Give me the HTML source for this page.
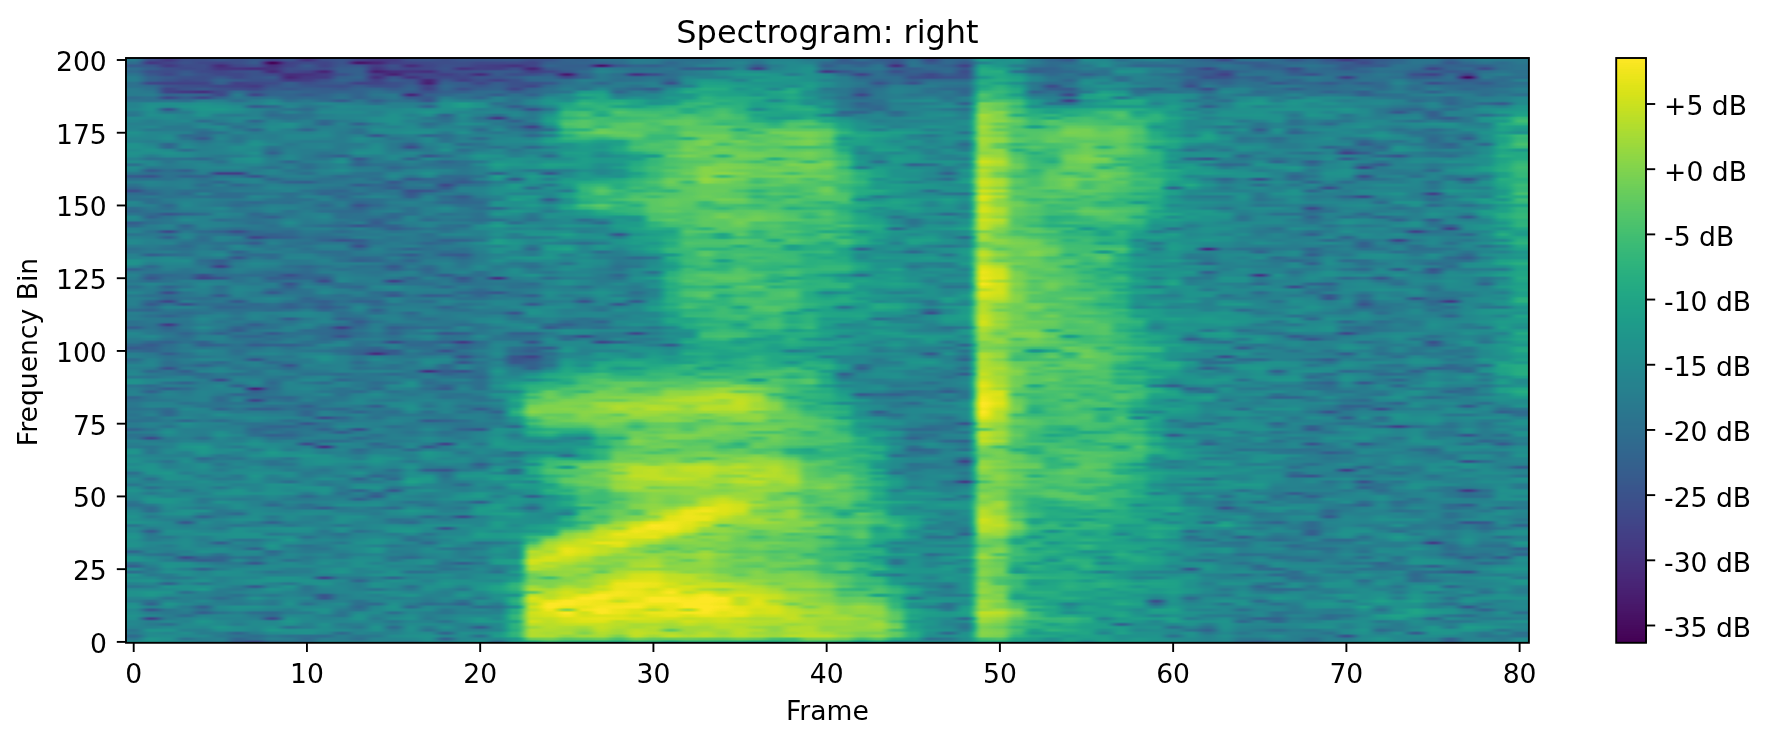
<!DOCTYPE html>
<html><head><meta charset="utf-8"><title>Spectrogram: right</title>
<style>
html,body{margin:0;padding:0;background:#fff;}
body{width:1770px;height:744px;position:relative;overflow:hidden;}
canvas{position:absolute;display:block;}
#fb i{position:absolute;top:0;bottom:0;display:block;}
svg{position:absolute;left:0;top:0;}
.t{font-family:"DejaVu Sans","Liberation Sans",sans-serif;font-size:26.6px;fill:#000;}
.ti{font-family:"DejaVu Sans","Liberation Sans",sans-serif;font-size:31.95px;fill:#000;}
</style></head><body>
<div id="fb" style="position:absolute;left:125px;top:58.55px;width:1404px;height:584.80px;overflow:hidden"><i style="left:0.34px;width:17.92px;background:linear-gradient(to top,#287d8e 0.2%,#287c8e 2.2%,#228d8d 4.2%,#228c8d 6.2%,#228b8d 8.2%,#238a8d 10.2%,#23888e 12.2%,#25838e 14.2%,#24868e 16.2%,#21918c 18.2%,#238a8d 20.1%,#228c8d 22.1%,#277e8e 24.1%,#228b8d 26.1%,#277e8e 28.1%,#238a8d 30.1%,#20928c 32.1%,#27808e 34.1%,#2b758e 36.1%,#2a788e 38.1%,#2a778e 40.0%,#29798e 42.0%,#25848e 44.0%,#24868e 46.0%,#277e8e 48.0%,#2d708e 50.0%,#287d8e 52.0%,#2b758e 54.0%,#297a8e 56.0%,#277e8e 58.0%,#287d8e 60.0%,#287c8e 61.9%,#26828e 63.9%,#25858e 65.9%,#277e8e 67.9%,#26818e 69.9%,#277f8e 71.9%,#29798e 73.9%,#2a778e 75.9%,#2e6e8e 77.9%,#2a788e 79.9%,#24868e 81.8%,#218e8d 83.8%,#228c8d 85.8%,#24878e 87.8%,#26818e 89.8%,#26828e 91.8%,#29798e 93.8%,#297a8e 95.8%,#2e6f8e 97.8%,#2e6f8e 99.8%,#2e6f8e 99.8%)"></i><i style="left:17.66px;width:17.92px;background:linear-gradient(to top,#1f948c 0.2%,#238a8d 2.2%,#297b8e 4.2%,#2c718e 6.2%,#228c8d 8.2%,#23898e 10.2%,#287d8e 12.2%,#25858e 14.2%,#25848e 16.2%,#297a8e 18.2%,#25858e 20.1%,#297a8e 22.1%,#228d8d 24.1%,#25848e 26.1%,#25858e 28.1%,#20928c 30.1%,#26828e 32.1%,#2a778e 34.1%,#2b748e 36.1%,#277f8e 38.1%,#26828e 40.0%,#2a788e 42.0%,#2a768e 44.0%,#297a8e 46.0%,#26828e 48.0%,#30698e 50.0%,#297a8e 52.0%,#2a778e 54.0%,#2a768e 56.0%,#30698e 58.0%,#297b8e 60.0%,#2d708e 61.9%,#2c738e 63.9%,#277f8e 65.9%,#287d8e 67.9%,#287c8e 69.9%,#2b748e 71.9%,#2b748e 73.9%,#2d718e 75.9%,#297a8e 77.9%,#2d708e 79.9%,#297a8e 81.8%,#238a8d 83.8%,#24868e 85.8%,#25858e 87.8%,#24878e 89.8%,#228d8d 91.8%,#2c738e 93.8%,#32648e 95.8%,#38598c 97.8%,#3e4c8a 99.8%,#3e4c8a 99.8%)"></i><i style="left:34.99px;width:17.92px;background:linear-gradient(to top,#218e8d 0.2%,#23888e 2.2%,#287c8e 4.2%,#24878e 6.2%,#228b8d 8.2%,#25848e 10.2%,#228b8d 12.2%,#25848e 14.2%,#277f8e 16.2%,#23898e 18.2%,#23888e 20.1%,#23898e 22.1%,#218f8d 24.1%,#25858e 26.1%,#21918c 28.1%,#25848e 30.1%,#25848e 32.1%,#26818e 34.1%,#23888e 36.1%,#297a8e 38.1%,#2d718e 40.0%,#26818e 42.0%,#287d8e 44.0%,#2a768e 46.0%,#2e6e8e 48.0%,#2d708e 50.0%,#2c718e 52.0%,#306a8e 54.0%,#2b748e 56.0%,#2c738e 58.0%,#31688e 60.0%,#2d708e 61.9%,#277f8e 63.9%,#25858e 65.9%,#287d8e 67.9%,#2b748e 69.9%,#297a8e 71.9%,#2e6f8e 73.9%,#2b758e 75.9%,#297a8e 77.9%,#2c738e 79.9%,#2a768e 81.8%,#23888e 83.8%,#25838e 85.8%,#26828e 87.8%,#25858e 89.8%,#297b8e 91.8%,#3b528b 93.8%,#3b528b 95.8%,#3d4d8a 97.8%,#443b84 99.8%,#443b84 99.8%)"></i><i style="left:52.31px;width:17.92px;background:linear-gradient(to top,#24868e 0.2%,#23898e 2.2%,#26828e 4.2%,#27808e 6.2%,#26828e 8.2%,#228b8d 10.2%,#228c8d 12.2%,#25838e 14.2%,#23898e 16.2%,#228c8d 18.2%,#277f8e 20.1%,#23888e 22.1%,#228b8d 24.1%,#25838e 26.1%,#238a8d 28.1%,#23888e 30.1%,#228b8d 32.1%,#218e8d 34.1%,#26818e 36.1%,#24868e 38.1%,#26828e 40.0%,#287c8e 42.0%,#2a778e 44.0%,#297a8e 46.0%,#297a8e 48.0%,#297a8e 50.0%,#2c718e 52.0%,#2b748e 54.0%,#2c738e 56.0%,#2b758e 58.0%,#2a778e 60.0%,#2b758e 61.9%,#29798e 63.9%,#26828e 65.9%,#2c718e 67.9%,#287c8e 69.9%,#277e8e 71.9%,#27808e 73.9%,#27808e 75.9%,#287d8e 77.9%,#2c728e 79.9%,#287d8e 81.8%,#23888e 83.8%,#27808e 85.8%,#297a8e 87.8%,#25848e 89.8%,#23898e 91.8%,#355f8d 93.8%,#3d4e8a 95.8%,#3a538b 97.8%,#3c508b 99.8%,#3c508b 99.8%)"></i><i style="left:69.64px;width:17.92px;background:linear-gradient(to top,#26818e 0.2%,#23888e 2.2%,#228b8d 4.2%,#2c738e 6.2%,#24878e 8.2%,#21918c 10.2%,#25858e 12.2%,#26818e 14.2%,#25848e 16.2%,#25838e 18.2%,#24868e 20.1%,#26818e 22.1%,#287c8e 24.1%,#24878e 26.1%,#23888e 28.1%,#228b8d 30.1%,#228d8d 32.1%,#218f8d 34.1%,#277e8e 36.1%,#27808e 38.1%,#277f8e 40.0%,#26828e 42.0%,#277f8e 44.0%,#297a8e 46.0%,#29798e 48.0%,#297a8e 50.0%,#2b758e 52.0%,#26828e 54.0%,#26828e 56.0%,#2b758e 58.0%,#27808e 60.0%,#277e8e 61.9%,#2a768e 63.9%,#29798e 65.9%,#297b8e 67.9%,#2d708e 69.9%,#26828e 71.9%,#287d8e 73.9%,#277f8e 75.9%,#2a768e 77.9%,#2a778e 79.9%,#26828e 81.8%,#277f8e 83.8%,#2c738e 85.8%,#2a788e 87.8%,#23888e 89.8%,#20928c 91.8%,#34608d 93.8%,#3c4f8a 95.8%,#3d4e8a 97.8%,#3d4d8a 99.8%,#3d4d8a 99.8%)"></i><i style="left:86.96px;width:17.92px;background:linear-gradient(to top,#277f8e 0.2%,#228b8d 2.2%,#25858e 4.2%,#26818e 6.2%,#297a8e 8.2%,#25838e 10.2%,#25858e 12.2%,#2c718e 14.2%,#26818e 16.2%,#23888e 18.2%,#26828e 20.1%,#287c8e 22.1%,#24868e 24.1%,#228b8d 26.1%,#24868e 28.1%,#277f8e 30.1%,#26828e 32.1%,#24868e 34.1%,#23898e 36.1%,#26828e 38.1%,#29798e 40.0%,#2c738e 42.0%,#277f8e 44.0%,#297b8e 46.0%,#277e8e 48.0%,#287c8e 50.0%,#297b8e 52.0%,#2a768e 54.0%,#287c8e 56.0%,#2d708e 58.0%,#2c718e 60.0%,#2c738e 61.9%,#2f6c8e 63.9%,#287c8e 65.9%,#2a778e 67.9%,#2a788e 69.9%,#277f8e 71.9%,#25838e 73.9%,#2b758e 75.9%,#2b748e 77.9%,#2a768e 79.9%,#287d8e 81.8%,#26828e 83.8%,#25838e 85.8%,#26828e 87.8%,#277f8e 89.8%,#218f8d 91.8%,#365c8d 93.8%,#375a8c 95.8%,#404688 97.8%,#404588 99.8%,#404588 99.8%)"></i><i style="left:104.29px;width:17.92px;background:linear-gradient(to top,#31688e 0.2%,#277f8e 2.2%,#26828e 4.2%,#26828e 6.2%,#297b8e 8.2%,#24868e 10.2%,#238a8d 12.2%,#27808e 14.2%,#25858e 16.2%,#21908d 18.2%,#218e8d 20.1%,#25858e 22.1%,#228b8d 24.1%,#228c8d 26.1%,#26828e 28.1%,#23888e 30.1%,#25848e 32.1%,#26828e 34.1%,#26818e 36.1%,#27808e 38.1%,#29798e 40.0%,#277e8e 42.0%,#26818e 44.0%,#277e8e 46.0%,#29798e 48.0%,#2c728e 50.0%,#2c738e 52.0%,#2c728e 54.0%,#2b748e 56.0%,#2e6f8e 58.0%,#25858e 60.0%,#2a768e 61.9%,#287d8e 63.9%,#2d708e 65.9%,#297b8e 67.9%,#2d708e 69.9%,#2a788e 71.9%,#29798e 73.9%,#2e6f8e 75.9%,#2a778e 77.9%,#297b8e 79.9%,#23888e 81.8%,#228b8d 83.8%,#287c8e 85.8%,#287c8e 87.8%,#24868e 89.8%,#23898e 91.8%,#2d718e 93.8%,#3e4a89 95.8%,#3f4788 97.8%,#3d4e8a 99.8%,#3d4e8a 99.8%)"></i><i style="left:121.61px;width:17.92px;background:linear-gradient(to top,#2f6b8e 0.2%,#25848e 2.2%,#26818e 4.2%,#25858e 6.2%,#24868e 8.2%,#24878e 10.2%,#24878e 12.2%,#2a788e 14.2%,#26818e 16.2%,#23898e 18.2%,#23888e 20.1%,#228d8d 22.1%,#26828e 24.1%,#24868e 26.1%,#21908d 28.1%,#238a8d 30.1%,#24868e 32.1%,#228c8d 34.1%,#2d718e 36.1%,#26828e 38.1%,#29798e 40.0%,#306a8e 42.0%,#287d8e 44.0%,#29798e 46.0%,#2a788e 48.0%,#2a768e 50.0%,#2e6d8e 52.0%,#2c728e 54.0%,#26818e 56.0%,#2c738e 58.0%,#26818e 60.0%,#297b8e 61.9%,#287d8e 63.9%,#287d8e 65.9%,#2b758e 67.9%,#306a8e 69.9%,#2c728e 71.9%,#2b748e 73.9%,#2a788e 75.9%,#297a8e 77.9%,#277f8e 79.9%,#23888e 81.8%,#228d8d 83.8%,#228c8d 85.8%,#297b8e 87.8%,#27808e 89.8%,#27808e 91.8%,#34618d 93.8%,#3e4989 95.8%,#3b518b 97.8%,#38598c 99.8%,#38598c 99.8%)"></i><i style="left:138.93px;width:17.92px;background:linear-gradient(to top,#29798e 0.2%,#228c8d 2.2%,#2c728e 4.2%,#287c8e 6.2%,#24868e 8.2%,#20928c 10.2%,#23898e 12.2%,#25838e 14.2%,#228d8d 16.2%,#238a8d 18.2%,#25838e 20.1%,#25848e 22.1%,#26828e 24.1%,#21918c 26.1%,#25848e 28.1%,#26828e 30.1%,#21918c 32.1%,#23898e 34.1%,#2e6e8e 36.1%,#287d8e 38.1%,#2a788e 40.0%,#2b748e 42.0%,#2e6e8e 44.0%,#297a8e 46.0%,#2a788e 48.0%,#287d8e 50.0%,#2e6d8e 52.0%,#2c738e 54.0%,#297b8e 56.0%,#2a768e 58.0%,#2a788e 60.0%,#2d708e 61.9%,#29798e 63.9%,#287d8e 65.9%,#287d8e 67.9%,#2d708e 69.9%,#2c728e 71.9%,#277f8e 73.9%,#29798e 75.9%,#277e8e 77.9%,#297b8e 79.9%,#277e8e 81.8%,#2c738e 83.8%,#277f8e 85.8%,#23888e 87.8%,#297a8e 89.8%,#277e8e 91.8%,#2e6d8e 93.8%,#39558c 95.8%,#443b84 97.8%,#46307e 99.8%,#46307e 99.8%)"></i><i style="left:156.26px;width:17.92px;background:linear-gradient(to top,#2a768e 0.2%,#228c8d 2.2%,#21908d 4.2%,#238a8d 6.2%,#238a8d 8.2%,#21918c 10.2%,#25838e 12.2%,#24878e 14.2%,#25848e 16.2%,#21908d 18.2%,#238a8d 20.1%,#23888e 22.1%,#277f8e 24.1%,#228d8d 26.1%,#228b8d 28.1%,#27808e 30.1%,#25838e 32.1%,#26828e 34.1%,#2f6c8e 36.1%,#29798e 38.1%,#297a8e 40.0%,#297a8e 42.0%,#25848e 44.0%,#2a788e 46.0%,#2c728e 48.0%,#2a768e 50.0%,#2c738e 52.0%,#297a8e 54.0%,#2a768e 56.0%,#2d718e 58.0%,#2c738e 60.0%,#34608d 61.9%,#2e6f8e 63.9%,#287c8e 65.9%,#2a778e 67.9%,#2f6c8e 69.9%,#25838e 71.9%,#297a8e 73.9%,#2c728e 75.9%,#287c8e 77.9%,#2a778e 79.9%,#287c8e 81.8%,#25838e 83.8%,#26818e 85.8%,#23898e 87.8%,#287d8e 89.8%,#26828e 91.8%,#31678e 93.8%,#3a548c 95.8%,#414287 97.8%,#3f4788 99.8%,#3f4788 99.8%)"></i><i style="left:173.58px;width:17.92px;background:linear-gradient(to top,#2e6f8e 0.2%,#25838e 2.2%,#24878e 4.2%,#26818e 6.2%,#287d8e 8.2%,#238a8d 10.2%,#25858e 12.2%,#26818e 14.2%,#297b8e 16.2%,#25838e 18.2%,#25858e 20.1%,#25838e 22.1%,#2c728e 24.1%,#24878e 26.1%,#26828e 28.1%,#24868e 30.1%,#218f8d 32.1%,#277f8e 34.1%,#2a788e 36.1%,#2c738e 38.1%,#31688e 40.0%,#277e8e 42.0%,#25848e 44.0%,#277e8e 46.0%,#27808e 48.0%,#277e8e 50.0%,#2c728e 52.0%,#277e8e 54.0%,#26818e 56.0%,#2e6f8e 58.0%,#2b748e 60.0%,#2b758e 61.9%,#2f6c8e 63.9%,#287c8e 65.9%,#2b748e 67.9%,#2a768e 69.9%,#287c8e 71.9%,#287d8e 73.9%,#297b8e 75.9%,#2a788e 77.9%,#2a778e 79.9%,#2a778e 81.8%,#287d8e 83.8%,#26828e 85.8%,#27808e 87.8%,#2a788e 89.8%,#2a768e 91.8%,#31668e 93.8%,#3c4f8a 95.8%,#404688 97.8%,#3e4c8a 99.8%,#3e4c8a 99.8%)"></i><i style="left:190.91px;width:17.92px;background:linear-gradient(to top,#277e8e 0.2%,#228c8d 2.2%,#23888e 4.2%,#238a8d 6.2%,#297a8e 8.2%,#23898e 10.2%,#25858e 12.2%,#23898e 14.2%,#277f8e 16.2%,#26818e 18.2%,#26828e 20.1%,#277f8e 22.1%,#287d8e 24.1%,#218e8d 26.1%,#27808e 28.1%,#25838e 30.1%,#21908d 32.1%,#297a8e 34.1%,#2a788e 36.1%,#2b748e 38.1%,#297b8e 40.0%,#29798e 42.0%,#277e8e 44.0%,#27808e 46.0%,#23898e 48.0%,#25858e 50.0%,#2d718e 52.0%,#2d718e 54.0%,#26828e 56.0%,#32648e 58.0%,#26818e 60.0%,#2f6c8e 61.9%,#297a8e 63.9%,#287c8e 65.9%,#2a778e 67.9%,#2c728e 69.9%,#26818e 71.9%,#2a778e 73.9%,#2b748e 75.9%,#2c738e 77.9%,#297b8e 79.9%,#277e8e 81.8%,#2a788e 83.8%,#25848e 85.8%,#26828e 87.8%,#277e8e 89.8%,#25848e 91.8%,#32658e 93.8%,#3b528b 95.8%,#433d84 97.8%,#404688 99.8%,#404688 99.8%)"></i><i style="left:208.23px;width:17.92px;background:linear-gradient(to top,#277f8e 0.2%,#277f8e 2.2%,#287d8e 4.2%,#26818e 6.2%,#26828e 8.2%,#24868e 10.2%,#238a8d 12.2%,#25848e 14.2%,#26818e 16.2%,#287d8e 18.2%,#218e8d 20.1%,#23888e 22.1%,#25838e 24.1%,#29798e 26.1%,#26828e 28.1%,#23888e 30.1%,#24878e 32.1%,#26828e 34.1%,#277f8e 36.1%,#287d8e 38.1%,#287c8e 40.0%,#2a778e 42.0%,#2a778e 44.0%,#297a8e 46.0%,#25838e 48.0%,#2a778e 50.0%,#2c738e 52.0%,#31678e 54.0%,#2d708e 56.0%,#2c728e 58.0%,#2a768e 60.0%,#26818e 61.9%,#277f8e 63.9%,#2c728e 65.9%,#2a778e 67.9%,#2e6e8e 69.9%,#2c718e 71.9%,#2d718e 73.9%,#2c728e 75.9%,#2c728e 77.9%,#287c8e 79.9%,#228c8d 81.8%,#297b8e 83.8%,#287c8e 85.8%,#277f8e 87.8%,#25848e 89.8%,#24868e 91.8%,#31678e 93.8%,#365c8d 95.8%,#365c8d 97.8%,#39568c 99.8%,#39568c 99.8%)"></i><i style="left:225.55px;width:17.92px;background:linear-gradient(to top,#2a778e 0.2%,#277e8e 2.2%,#228c8d 4.2%,#2b748e 6.2%,#25838e 8.2%,#287c8e 10.2%,#25858e 12.2%,#218f8d 14.2%,#228b8d 16.2%,#24868e 18.2%,#26828e 20.1%,#25858e 22.1%,#26818e 24.1%,#25838e 26.1%,#24868e 28.1%,#24878e 30.1%,#277f8e 32.1%,#297b8e 34.1%,#297b8e 36.1%,#26828e 38.1%,#287c8e 40.0%,#25848e 42.0%,#2a788e 44.0%,#2a768e 46.0%,#2b758e 48.0%,#2f6c8e 50.0%,#2c718e 52.0%,#2f6b8e 54.0%,#2b748e 56.0%,#287d8e 58.0%,#2b758e 60.0%,#297b8e 61.9%,#2a788e 63.9%,#2a778e 65.9%,#32658e 67.9%,#2a788e 69.9%,#2b748e 71.9%,#30698e 73.9%,#2f6c8e 75.9%,#2b758e 77.9%,#29798e 79.9%,#2f6c8e 81.8%,#25848e 83.8%,#25838e 85.8%,#2c738e 87.8%,#25838e 89.8%,#25848e 91.8%,#31678e 93.8%,#355e8d 95.8%,#34618d 97.8%,#414487 99.8%,#414487 99.8%)"></i><i style="left:242.88px;width:17.92px;background:linear-gradient(to top,#25838e 0.2%,#238a8d 2.2%,#25848e 4.2%,#24868e 6.2%,#25848e 8.2%,#24868e 10.2%,#228c8d 12.2%,#228b8d 14.2%,#20928c 16.2%,#228c8d 18.2%,#25858e 20.1%,#277f8e 22.1%,#277f8e 24.1%,#25858e 26.1%,#287d8e 28.1%,#23898e 30.1%,#218f8d 32.1%,#2a788e 34.1%,#277f8e 36.1%,#287c8e 38.1%,#2a768e 40.0%,#25838e 42.0%,#2c728e 44.0%,#29798e 46.0%,#27808e 48.0%,#30698e 50.0%,#297a8e 52.0%,#287d8e 54.0%,#2b748e 56.0%,#306a8e 58.0%,#2a768e 60.0%,#277e8e 61.9%,#2a778e 63.9%,#2a788e 65.9%,#287c8e 67.9%,#29798e 69.9%,#31668e 71.9%,#2b748e 73.9%,#2c738e 75.9%,#2c718e 77.9%,#2b748e 79.9%,#297b8e 81.8%,#228b8d 83.8%,#25848e 85.8%,#25848e 87.8%,#25858e 89.8%,#277f8e 91.8%,#2d708e 93.8%,#3e4a89 95.8%,#453581 97.8%,#453781 99.8%,#453781 99.8%)"></i><i style="left:260.20px;width:17.92px;background:linear-gradient(to top,#24868e 0.2%,#277f8e 2.2%,#277f8e 4.2%,#218f8d 6.2%,#238a8d 8.2%,#23898e 10.2%,#228b8d 12.2%,#27808e 14.2%,#27808e 16.2%,#23898e 18.2%,#228d8d 20.1%,#26828e 22.1%,#26828e 24.1%,#26818e 26.1%,#297b8e 28.1%,#26828e 30.1%,#23888e 32.1%,#287d8e 34.1%,#287c8e 36.1%,#26818e 38.1%,#287c8e 40.0%,#277e8e 42.0%,#277f8e 44.0%,#287c8e 46.0%,#297b8e 48.0%,#2a788e 50.0%,#2d718e 52.0%,#2f6c8e 54.0%,#27808e 56.0%,#27808e 58.0%,#26828e 60.0%,#29798e 61.9%,#2d708e 63.9%,#2a768e 65.9%,#2a788e 67.9%,#2b758e 69.9%,#306a8e 71.9%,#2a788e 73.9%,#297a8e 75.9%,#31688e 77.9%,#277f8e 79.9%,#2a768e 81.8%,#26828e 83.8%,#297a8e 85.8%,#238a8d 87.8%,#21918c 89.8%,#26828e 91.8%,#2c718e 93.8%,#39568c 95.8%,#3e4a89 97.8%,#414487 99.8%,#414487 99.8%)"></i><i style="left:277.53px;width:17.92px;background:linear-gradient(to top,#23898e 0.2%,#218f8d 2.2%,#228b8d 4.2%,#25838e 6.2%,#24878e 8.2%,#25838e 10.2%,#25858e 12.2%,#25848e 14.2%,#27808e 16.2%,#24878e 18.2%,#238a8d 20.1%,#228d8d 22.1%,#25838e 24.1%,#228b8d 26.1%,#1f978b 28.1%,#228d8d 30.1%,#277f8e 32.1%,#26828e 34.1%,#297a8e 36.1%,#297b8e 38.1%,#238a8d 40.0%,#26818e 42.0%,#24878e 44.0%,#297a8e 46.0%,#297a8e 48.0%,#2b758e 50.0%,#2a788e 52.0%,#2a768e 54.0%,#2a778e 56.0%,#297b8e 58.0%,#277e8e 60.0%,#2c738e 61.9%,#287c8e 63.9%,#2d708e 65.9%,#297a8e 67.9%,#29798e 69.9%,#277f8e 71.9%,#2b758e 73.9%,#2b758e 75.9%,#2e6f8e 77.9%,#2a788e 79.9%,#287c8e 81.8%,#2a778e 83.8%,#2b758e 85.8%,#228b8d 87.8%,#24878e 89.8%,#26828e 91.8%,#355e8d 93.8%,#38598c 95.8%,#453882 97.8%,#404588 99.8%,#404588 99.8%)"></i><i style="left:294.85px;width:17.92px;background:linear-gradient(to top,#21918c 0.2%,#238a8d 2.2%,#27808e 4.2%,#27808e 6.2%,#25848e 8.2%,#238a8d 10.2%,#25838e 12.2%,#24878e 14.2%,#25848e 16.2%,#287c8e 18.2%,#238a8d 20.1%,#25858e 22.1%,#287c8e 24.1%,#25858e 26.1%,#1f948c 28.1%,#277e8e 30.1%,#21918c 32.1%,#26828e 34.1%,#26828e 36.1%,#2a788e 38.1%,#2a778e 40.0%,#26818e 42.0%,#2c718e 44.0%,#2a778e 46.0%,#24878e 48.0%,#2d708e 50.0%,#29798e 52.0%,#29798e 54.0%,#287c8e 56.0%,#297a8e 58.0%,#29798e 60.0%,#2a778e 61.9%,#2e6e8e 63.9%,#29798e 65.9%,#2c728e 67.9%,#2b758e 69.9%,#29798e 71.9%,#27808e 73.9%,#287d8e 75.9%,#2c718e 77.9%,#24868e 79.9%,#287d8e 81.8%,#287c8e 83.8%,#26828e 85.8%,#297b8e 87.8%,#25838e 89.8%,#277e8e 91.8%,#39558c 93.8%,#423f85 95.8%,#404688 97.8%,#3e4c8a 99.8%,#3e4c8a 99.8%)"></i><i style="left:312.18px;width:17.92px;background:linear-gradient(to top,#27808e 0.2%,#24878e 2.2%,#26828e 4.2%,#297a8e 6.2%,#25848e 8.2%,#20928c 10.2%,#26828e 12.2%,#277f8e 14.2%,#238a8d 16.2%,#23888e 18.2%,#25838e 20.1%,#277e8e 22.1%,#25858e 24.1%,#25848e 26.1%,#2a788e 28.1%,#297a8e 30.1%,#228c8d 32.1%,#287c8e 34.1%,#297b8e 36.1%,#2a768e 38.1%,#25858e 40.0%,#297b8e 42.0%,#2b748e 44.0%,#2f6b8e 46.0%,#27808e 48.0%,#2c738e 50.0%,#2e6f8e 52.0%,#2b758e 54.0%,#297a8e 56.0%,#287d8e 58.0%,#297a8e 60.0%,#2c738e 61.9%,#277e8e 63.9%,#2a778e 65.9%,#2e6f8e 67.9%,#2b758e 69.9%,#2a788e 71.9%,#277f8e 73.9%,#2c718e 75.9%,#31688e 77.9%,#2c718e 79.9%,#2a768e 81.8%,#26828e 83.8%,#29798e 85.8%,#287d8e 87.8%,#2b758e 89.8%,#21908d 91.8%,#2e6f8e 93.8%,#34618d 95.8%,#3d4e8a 97.8%,#3c4f8a 99.8%,#3c4f8a 99.8%)"></i><i style="left:329.50px;width:17.92px;background:linear-gradient(to top,#228c8d 0.2%,#25858e 2.2%,#238a8d 4.2%,#277e8e 6.2%,#238a8d 8.2%,#24868e 10.2%,#26828e 12.2%,#277f8e 14.2%,#277f8e 16.2%,#228c8d 18.2%,#23888e 20.1%,#27808e 22.1%,#25848e 24.1%,#25838e 26.1%,#228d8d 28.1%,#25848e 30.1%,#25848e 32.1%,#25858e 34.1%,#2a768e 36.1%,#2a778e 38.1%,#297a8e 40.0%,#297b8e 42.0%,#27808e 44.0%,#2c738e 46.0%,#2d718e 48.0%,#31678e 50.0%,#31678e 52.0%,#2a788e 54.0%,#287c8e 56.0%,#2c738e 58.0%,#2a778e 60.0%,#2d718e 61.9%,#29798e 63.9%,#2e6e8e 65.9%,#2c738e 67.9%,#297b8e 69.9%,#2a788e 71.9%,#29798e 73.9%,#30698e 75.9%,#2a778e 77.9%,#2f6c8e 79.9%,#2a778e 81.8%,#277f8e 83.8%,#277f8e 85.8%,#23898e 87.8%,#238a8d 89.8%,#20928c 91.8%,#2d718e 93.8%,#3b518b 95.8%,#3e4a89 97.8%,#3b518b 99.8%,#3b518b 99.8%)"></i><i style="left:346.82px;width:17.92px;background:linear-gradient(to top,#23898e 0.2%,#26818e 2.2%,#228c8d 4.2%,#24878e 6.2%,#228b8d 8.2%,#1f948c 10.2%,#238a8d 12.2%,#26828e 14.2%,#277f8e 16.2%,#1f958b 18.2%,#238a8d 20.1%,#1f978b 22.1%,#20928c 24.1%,#21908d 26.1%,#21918c 28.1%,#287d8e 30.1%,#25838e 32.1%,#25848e 34.1%,#26818e 36.1%,#277f8e 38.1%,#29798e 40.0%,#287c8e 42.0%,#2c718e 44.0%,#2d708e 46.0%,#2b748e 48.0%,#2b758e 50.0%,#297b8e 52.0%,#29798e 54.0%,#277f8e 56.0%,#297b8e 58.0%,#2f6b8e 60.0%,#2b758e 61.9%,#26818e 63.9%,#287d8e 65.9%,#25838e 67.9%,#26818e 69.9%,#287c8e 71.9%,#2d718e 73.9%,#2c738e 75.9%,#277f8e 77.9%,#277e8e 79.9%,#25838e 81.8%,#228b8d 83.8%,#29798e 85.8%,#287d8e 87.8%,#27808e 89.8%,#23898e 91.8%,#2e6e8e 93.8%,#39558c 95.8%,#404588 97.8%,#3e4a89 99.8%,#3e4a89 99.8%)"></i><i style="left:364.15px;width:17.92px;background:linear-gradient(to top,#228b8d 0.2%,#228d8d 2.2%,#238a8d 4.2%,#277f8e 6.2%,#1f948c 8.2%,#1f9a8a 10.2%,#26828e 12.2%,#20938c 14.2%,#218e8d 16.2%,#21918c 18.2%,#1f988b 20.1%,#1f988b 22.1%,#20938c 24.1%,#24868e 26.1%,#20928c 28.1%,#228d8d 30.1%,#24868e 32.1%,#1f968b 34.1%,#20928c 36.1%,#297a8e 38.1%,#29798e 40.0%,#23888e 42.0%,#228d8d 44.0%,#21908d 46.0%,#25858e 48.0%,#23888e 50.0%,#277f8e 52.0%,#25838e 54.0%,#25838e 56.0%,#26818e 58.0%,#29798e 60.0%,#29798e 61.9%,#26828e 63.9%,#23898e 65.9%,#1f958b 67.9%,#21908d 69.9%,#218f8d 71.9%,#218e8d 73.9%,#218f8d 75.9%,#218e8d 77.9%,#218f8d 79.9%,#1f978b 81.8%,#238a8d 83.8%,#25858e 85.8%,#26818e 87.8%,#2a778e 89.8%,#26828e 91.8%,#2c718e 93.8%,#365d8d 95.8%,#3a538b 97.8%,#3e4c8a 99.8%,#3e4c8a 99.8%)"></i><i style="left:381.47px;width:17.92px;background:linear-gradient(to top,#1fa287 0.2%,#2eb37c 2.2%,#2db27d 4.2%,#25ac82 6.2%,#26ad81 8.2%,#2ab07f 10.2%,#21918c 12.2%,#21908d 14.2%,#228b8d 16.2%,#1f958b 18.2%,#20928c 20.1%,#1f948c 22.1%,#1f948c 24.1%,#1f958b 26.1%,#1f958b 28.1%,#287c8e 30.1%,#277f8e 32.1%,#20938c 34.1%,#25838e 36.1%,#1f958b 38.1%,#23a983 40.0%,#1f9e89 42.0%,#1f9a8a 44.0%,#25848e 46.0%,#34608d 48.0%,#2e6f8e 50.0%,#2b748e 52.0%,#26828e 54.0%,#2b758e 56.0%,#25848e 58.0%,#2a768e 60.0%,#297b8e 61.9%,#23888e 63.9%,#24868e 65.9%,#21918c 67.9%,#24868e 69.9%,#25838e 71.9%,#218f8d 73.9%,#20928c 75.9%,#20928c 77.9%,#26828e 79.9%,#1f948c 81.8%,#26828e 83.8%,#25858e 85.8%,#2a768e 87.8%,#287c8e 89.8%,#2a768e 91.8%,#2e6f8e 93.8%,#3b528b 95.8%,#3c508b 97.8%,#3e4c8a 99.8%,#3e4c8a 99.8%)"></i><i style="left:398.80px;width:17.92px;background:linear-gradient(to top,#77d153 0.2%,#b2dd2d 2.2%,#cae11f 4.2%,#cde11d 6.2%,#c0df25 8.2%,#86d549 10.2%,#8ed645 12.2%,#bddf26 14.2%,#8ed645 16.2%,#2db27d 18.2%,#1f968b 20.1%,#228b8d 22.1%,#277e8e 24.1%,#20938c 26.1%,#1e9c89 28.1%,#22a884 30.1%,#1f958b 32.1%,#218f8d 34.1%,#22a785 36.1%,#48c16e 38.1%,#77d153 40.0%,#4cc26c 42.0%,#28ae80 44.0%,#238a8d 46.0%,#365d8d 48.0%,#32648e 50.0%,#2e6d8e 52.0%,#26828e 54.0%,#238a8d 56.0%,#277e8e 58.0%,#29798e 60.0%,#26818e 61.9%,#287d8e 63.9%,#26818e 65.9%,#287d8e 67.9%,#238a8d 69.9%,#25838e 71.9%,#218e8d 73.9%,#1f958b 75.9%,#238a8d 77.9%,#1f948c 79.9%,#21918c 81.8%,#24868e 83.8%,#26828e 85.8%,#31688e 87.8%,#2a788e 89.8%,#29798e 91.8%,#2e6f8e 93.8%,#33638d 95.8%,#3e4c8a 97.8%,#3f4788 99.8%,#3f4788 99.8%)"></i><i style="left:416.12px;width:17.92px;background:linear-gradient(to top,#7cd250 0.2%,#b0dd2f 2.2%,#c8e020 4.2%,#f4e61e 6.2%,#bddf26 8.2%,#81d34d 10.2%,#93d741 12.2%,#c5e021 14.2%,#b0dd2f 16.2%,#63cb5f 18.2%,#1f9f88 20.1%,#218f8d 22.1%,#1f968b 24.1%,#21a685 26.1%,#32b67a 28.1%,#40bd72 30.1%,#1fa187 32.1%,#1f948c 34.1%,#2cb17e 36.1%,#60ca60 38.1%,#7cd250 40.0%,#69cd5b 42.0%,#34b679 44.0%,#1e9d89 46.0%,#2a768e 48.0%,#2a768e 50.0%,#25838e 52.0%,#297a8e 54.0%,#23898e 56.0%,#23888e 58.0%,#23898e 60.0%,#26828e 61.9%,#26828e 63.9%,#20928c 65.9%,#1f948c 67.9%,#21908d 69.9%,#24878e 71.9%,#228d8d 73.9%,#25838e 75.9%,#228b8d 77.9%,#26828e 79.9%,#1f968b 81.8%,#26828e 83.8%,#1f958b 85.8%,#24878e 87.8%,#1f988b 89.8%,#228b8d 91.8%,#26828e 93.8%,#306a8e 95.8%,#355e8d 97.8%,#355f8d 99.8%,#355f8d 99.8%)"></i><i style="left:433.44px;width:17.92px;background:linear-gradient(to top,#60ca60 0.2%,#addc30 2.2%,#dde318 4.2%,#f8e621 6.2%,#d8e219 8.2%,#98d83e 10.2%,#95d840 12.2%,#c2df23 14.2%,#dfe318 16.2%,#9bd93c 18.2%,#31b57b 20.1%,#1e9d89 22.1%,#20a386 24.1%,#34b679 26.1%,#52c569 28.1%,#46c06f 30.1%,#1f9a8a 32.1%,#21908d 34.1%,#27ad81 36.1%,#60ca60 38.1%,#7cd250 40.0%,#63cb5f 42.0%,#37b878 44.0%,#25ac82 46.0%,#1e9c89 48.0%,#228d8d 50.0%,#24868e 52.0%,#29798e 54.0%,#277e8e 56.0%,#24868e 58.0%,#26828e 60.0%,#23898e 61.9%,#24878e 63.9%,#24868e 65.9%,#1f958b 67.9%,#20928c 69.9%,#228c8d 71.9%,#1f978b 73.9%,#1e9c89 75.9%,#1f988b 77.9%,#218f8d 79.9%,#1f968b 81.8%,#1f968b 83.8%,#23a983 85.8%,#3bbb75 87.8%,#3dbc74 89.8%,#24aa83 91.8%,#23888e 93.8%,#2c728e 95.8%,#39558c 97.8%,#33628d 99.8%,#33628d 99.8%)"></i><i style="left:450.77px;width:17.92px;background:linear-gradient(to top,#69cd5b 0.2%,#a2da37 2.2%,#d5e21a 4.2%,#efe51c 6.2%,#e7e419 8.2%,#9dd93b 10.2%,#8bd646 12.2%,#addc30 14.2%,#d0e11c 16.2%,#b2dd2d 18.2%,#52c569 20.1%,#44bf70 22.1%,#3dbc74 24.1%,#4cc26c 26.1%,#63cb5f 28.1%,#5ac864 30.1%,#23a983 32.1%,#1f968b 34.1%,#25ab82 36.1%,#77d153 38.1%,#81d34d 40.0%,#73d056 42.0%,#44bf70 44.0%,#2fb47c 46.0%,#21908d 48.0%,#24868e 50.0%,#24868e 52.0%,#287c8e 54.0%,#27808e 56.0%,#297a8e 58.0%,#277f8e 60.0%,#25858e 61.9%,#228b8d 63.9%,#218e8d 65.9%,#25858e 67.9%,#24878e 69.9%,#25858e 71.9%,#20a486 73.9%,#2fb47c 75.9%,#2fb47c 77.9%,#1e9c89 79.9%,#1e9c89 81.8%,#1e9c89 83.8%,#27ad81 85.8%,#52c569 87.8%,#4cc26c 89.8%,#2eb37c 91.8%,#1f9f88 93.8%,#2a768e 95.8%,#33638d 97.8%,#33628d 99.8%,#33628d 99.8%)"></i><i style="left:468.09px;width:17.92px;background:linear-gradient(to top,#73d056 0.2%,#bade28 2.2%,#e2e418 4.2%,#f8e621 6.2%,#efe51c 8.2%,#b5de2b 10.2%,#81d34d 12.2%,#8ed645 14.2%,#c8e020 16.2%,#cae11f 18.2%,#90d743 20.1%,#4ac16d 22.1%,#3fbc73 24.1%,#4ac16d 26.1%,#6ece58 28.1%,#6ece58 30.1%,#34b679 32.1%,#2db27d 34.1%,#50c46a 36.1%,#7ad151 38.1%,#93d741 40.0%,#7cd250 42.0%,#58c765 44.0%,#3bbb75 46.0%,#21a585 48.0%,#218f8d 50.0%,#2a788e 52.0%,#2a778e 54.0%,#297b8e 56.0%,#25858e 58.0%,#228d8d 60.0%,#287d8e 61.9%,#26828e 63.9%,#26828e 65.9%,#238a8d 67.9%,#228b8d 69.9%,#24868e 71.9%,#2eb37c 73.9%,#3bbb75 75.9%,#48c16e 77.9%,#1f988b 79.9%,#21908d 81.8%,#1f948c 83.8%,#22a785 85.8%,#50c46a 87.8%,#3bbb75 89.8%,#2ab07f 91.8%,#20a486 93.8%,#287c8e 95.8%,#297b8e 97.8%,#33628d 99.8%,#33628d 99.8%)"></i><i style="left:485.42px;width:17.92px;background:linear-gradient(to top,#50c46a 0.2%,#a5db36 2.2%,#dae319 4.2%,#ece51b 6.2%,#eae51a 8.2%,#e7e419 10.2%,#a8db34 12.2%,#86d549 14.2%,#bade28 16.2%,#dfe318 18.2%,#a0da39 20.1%,#6ccd5a 22.1%,#56c667 24.1%,#81d34d 26.1%,#95d840 28.1%,#8ed645 30.1%,#69cd5b 32.1%,#48c16e 34.1%,#52c569 36.1%,#70cf57 38.1%,#9dd93b 40.0%,#77d153 42.0%,#60ca60 44.0%,#29af7f 46.0%,#1fa287 48.0%,#20928c 50.0%,#277f8e 52.0%,#24878e 54.0%,#24868e 56.0%,#23888e 58.0%,#24868e 60.0%,#277e8e 61.9%,#2b748e 63.9%,#297a8e 65.9%,#218e8d 67.9%,#228d8d 69.9%,#1f998a 71.9%,#2eb37c 73.9%,#35b779 75.9%,#2cb17e 77.9%,#1f9a8a 79.9%,#1f9a8a 81.8%,#1fa187 83.8%,#29af7f 85.8%,#5cc863 87.8%,#48c16e 89.8%,#31b57b 91.8%,#25858e 93.8%,#2b748e 95.8%,#2c728e 97.8%,#2f6b8e 99.8%,#2f6b8e 99.8%)"></i><i style="left:502.74px;width:17.92px;background:linear-gradient(to top,#81d34d 0.2%,#bade28 2.2%,#cae11f 4.2%,#e7e419 6.2%,#e7e419 8.2%,#e7e419 10.2%,#bddf26 12.2%,#9dd93b 14.2%,#a0da39 16.2%,#dfe318 18.2%,#d5e21a 20.1%,#7ad151 22.1%,#75d054 24.1%,#93d741 26.1%,#b2dd2d 28.1%,#b2dd2d 30.1%,#69cd5b 32.1%,#73d056 34.1%,#67cc5c 36.1%,#6ccd5a 38.1%,#a2da37 40.0%,#84d44b 42.0%,#54c568 44.0%,#28ae80 46.0%,#1fa187 48.0%,#228b8d 50.0%,#297b8e 52.0%,#25858e 54.0%,#23888e 56.0%,#25848e 58.0%,#29798e 60.0%,#23898e 61.9%,#23888e 63.9%,#26818e 65.9%,#1f998a 67.9%,#1e9d89 69.9%,#1e9b8a 71.9%,#2eb37c 73.9%,#44bf70 75.9%,#38b977 77.9%,#2ab07f 79.9%,#25ac82 81.8%,#29af7f 83.8%,#4ac16d 85.8%,#5cc863 87.8%,#48c16e 89.8%,#25ab82 91.8%,#24878e 93.8%,#2c728e 95.8%,#2f6c8e 97.8%,#29798e 99.8%,#29798e 99.8%)"></i><i style="left:520.07px;width:17.92px;background:linear-gradient(to top,#6ccd5a 0.2%,#b0dd2f 2.2%,#d5e21a 4.2%,#ece51b 6.2%,#ece51b 8.2%,#dfe318 10.2%,#c2df23 12.2%,#a5db36 14.2%,#81d34d 16.2%,#dde318 18.2%,#e7e419 20.1%,#9bd93c 22.1%,#89d548 24.1%,#89d548 26.1%,#b8de29 28.1%,#b2dd2d 30.1%,#70cf57 32.1%,#69cd5b 34.1%,#63cb5f 36.1%,#81d34d 38.1%,#a5db36 40.0%,#8bd646 42.0%,#56c667 44.0%,#35b779 46.0%,#20a486 48.0%,#1f958b 50.0%,#277e8e 52.0%,#25848e 54.0%,#228d8d 56.0%,#1f968b 58.0%,#25848e 60.0%,#21908d 61.9%,#228b8d 63.9%,#228d8d 65.9%,#1fa088 67.9%,#20a386 69.9%,#34b679 71.9%,#56c667 73.9%,#58c765 75.9%,#42be71 77.9%,#3dbc74 79.9%,#38b977 81.8%,#3aba76 83.8%,#40bd72 85.8%,#48c16e 87.8%,#48c16e 89.8%,#26ad81 91.8%,#24878e 93.8%,#2a788e 95.8%,#2e6f8e 97.8%,#2a778e 99.8%,#2a778e 99.8%)"></i><i style="left:537.39px;width:17.92px;background:linear-gradient(to top,#77d153 0.2%,#a2da37 2.2%,#d2e21b 4.2%,#efe51c 6.2%,#f8e621 8.2%,#d2e21b 10.2%,#a8db34 12.2%,#89d548 14.2%,#7fd34e 16.2%,#b8de29 18.2%,#f1e51d 20.1%,#cae11f 22.1%,#7cd250 24.1%,#89d548 26.1%,#b0dd2f 28.1%,#a8db34 30.1%,#73d056 32.1%,#6ccd5a 34.1%,#73d056 36.1%,#7fd34e 38.1%,#a0da39 40.0%,#9dd93b 42.0%,#60ca60 44.0%,#3bbb75 46.0%,#1fa187 48.0%,#228d8d 50.0%,#228b8d 52.0%,#1f948c 54.0%,#21a585 56.0%,#28ae80 58.0%,#28ae80 60.0%,#2cb17e 61.9%,#20a486 63.9%,#23a983 65.9%,#2cb17e 67.9%,#24aa83 69.9%,#46c06f 71.9%,#58c765 73.9%,#60ca60 75.9%,#56c667 77.9%,#5cc863 79.9%,#4cc26c 81.8%,#50c46a 83.8%,#46c06f 85.8%,#44bf70 87.8%,#4ac16d 89.8%,#2db27d 91.8%,#20938c 93.8%,#2c728e 95.8%,#2d708e 97.8%,#2e6d8e 99.8%,#2e6d8e 99.8%)"></i><i style="left:554.71px;width:17.92px;background:linear-gradient(to top,#75d054 0.2%,#a8db34 2.2%,#d5e21a 4.2%,#f8e621 6.2%,#e5e419 8.2%,#c5e021 10.2%,#9bd93c 12.2%,#8bd646 14.2%,#7cd250 16.2%,#98d83e 18.2%,#dfe318 20.1%,#eae51a 22.1%,#90d743 24.1%,#90d743 26.1%,#b2dd2d 28.1%,#b2dd2d 30.1%,#67cc5c 32.1%,#63cb5f 34.1%,#67cc5c 36.1%,#75d054 38.1%,#95d840 40.0%,#a2da37 42.0%,#63cb5f 44.0%,#37b878 46.0%,#23a983 48.0%,#1fa188 50.0%,#1e9b8a 52.0%,#20a486 54.0%,#2cb17e 56.0%,#35b779 58.0%,#3fbc73 60.0%,#46c06f 61.9%,#3fbc73 63.9%,#3aba76 65.9%,#44bf70 67.9%,#46c06f 69.9%,#4ac16d 71.9%,#52c569 73.9%,#5cc863 75.9%,#58c765 77.9%,#60ca60 79.9%,#5cc863 81.8%,#6ece58 83.8%,#65cb5e 85.8%,#63cb5f 87.8%,#54c568 89.8%,#28ae80 91.8%,#20a386 93.8%,#218f8d 95.8%,#297a8e 97.8%,#2c738e 99.8%,#2c738e 99.8%)"></i><i style="left:572.04px;width:17.92px;background:linear-gradient(to top,#73d056 0.2%,#b0dd2f 2.2%,#d0e11c 4.2%,#fde725 6.2%,#f4e61e 8.2%,#b5de2b 10.2%,#95d840 12.2%,#98d83e 14.2%,#89d548 16.2%,#84d44b 18.2%,#c2df23 20.1%,#eae51a 22.1%,#bddf26 24.1%,#98d83e 26.1%,#addc30 28.1%,#bade28 30.1%,#75d054 32.1%,#60ca60 34.1%,#77d153 36.1%,#6ccd5a 38.1%,#a5db36 40.0%,#a8db34 42.0%,#70cf57 44.0%,#31b57b 46.0%,#25ab82 48.0%,#22a884 50.0%,#2fb47c 52.0%,#2eb37c 54.0%,#2db27d 56.0%,#34b679 58.0%,#4ac16d 60.0%,#4cc26c 61.9%,#46c06f 63.9%,#4ac16d 65.9%,#48c16e 67.9%,#3dbc74 69.9%,#5ac864 71.9%,#56c667 73.9%,#5cc863 75.9%,#6ccd5a 77.9%,#89d548 79.9%,#6ccd5a 81.8%,#67cc5c 83.8%,#70cf57 85.8%,#5cc863 87.8%,#46c06f 89.8%,#34b679 91.8%,#27ad81 93.8%,#1fa187 95.8%,#27808e 97.8%,#2a788e 99.8%,#2a788e 99.8%)"></i><i style="left:589.36px;width:17.92px;background:linear-gradient(to top,#6ccd5a 0.2%,#aadc32 2.2%,#d0e11c 4.2%,#f1e51d 6.2%,#d8e219 8.2%,#a2da37 10.2%,#81d34d 12.2%,#7fd34e 14.2%,#7ad151 16.2%,#89d548 18.2%,#93d741 20.1%,#d8e219 22.1%,#cde11d 24.1%,#8ed645 26.1%,#9dd93b 28.1%,#a2da37 30.1%,#70cf57 32.1%,#52c569 34.1%,#75d054 36.1%,#77d153 38.1%,#a5db36 40.0%,#a5db36 42.0%,#75d054 44.0%,#35b779 46.0%,#21a585 48.0%,#20a486 50.0%,#37b878 52.0%,#34b679 54.0%,#3bbb75 56.0%,#32b67a 58.0%,#2fb47c 60.0%,#4ec36b 61.9%,#35b779 63.9%,#38b977 65.9%,#44bf70 67.9%,#42be71 69.9%,#5ec962 71.9%,#56c667 73.9%,#63cb5f 75.9%,#69cd5b 77.9%,#7ad151 79.9%,#77d153 81.8%,#65cb5e 83.8%,#67cc5c 85.8%,#5ec962 87.8%,#48c16e 89.8%,#34b679 91.8%,#25ab82 93.8%,#1fa088 95.8%,#25838e 97.8%,#27808e 99.8%,#27808e 99.8%)"></i><i style="left:606.69px;width:17.92px;background:linear-gradient(to top,#7ad151 0.2%,#b8de29 2.2%,#c8e020 4.2%,#dde318 6.2%,#c0df25 8.2%,#aadc32 10.2%,#6ece58 12.2%,#69cd5b 14.2%,#69cd5b 16.2%,#70cf57 18.2%,#8bd646 20.1%,#c0df25 22.1%,#bddf26 24.1%,#98d83e 26.1%,#b0dd2f 28.1%,#aadc32 30.1%,#73d056 32.1%,#4ac16d 34.1%,#6ccd5a 36.1%,#7fd34e 38.1%,#b8de29 40.0%,#b5de2b 42.0%,#67cc5c 44.0%,#37b878 46.0%,#28ae80 48.0%,#22a785 50.0%,#25ab82 52.0%,#2ab07f 54.0%,#34b679 56.0%,#3bbb75 58.0%,#48c16e 60.0%,#54c568 61.9%,#4ec36b 63.9%,#40bd72 65.9%,#42be71 67.9%,#54c568 69.9%,#69cd5b 71.9%,#5ac864 73.9%,#5cc863 75.9%,#5cc863 77.9%,#6ece58 79.9%,#6ece58 81.8%,#6ccd5a 83.8%,#5cc863 85.8%,#44bf70 87.8%,#3dbc74 89.8%,#2cb17e 91.8%,#20a386 93.8%,#1f948c 95.8%,#21908d 97.8%,#26818e 99.8%,#26818e 99.8%)"></i><i style="left:624.01px;width:17.92px;background:linear-gradient(to top,#70cf57 0.2%,#aadc32 2.2%,#b8de29 4.2%,#dae319 6.2%,#d2e21b 8.2%,#9bd93c 10.2%,#7fd34e 12.2%,#69cd5b 14.2%,#70cf57 16.2%,#5cc863 18.2%,#8ed645 20.1%,#93d741 22.1%,#95d840 24.1%,#98d83e 26.1%,#b0dd2f 28.1%,#a0da39 30.1%,#7fd34e 32.1%,#58c765 34.1%,#67cc5c 36.1%,#86d549 38.1%,#9dd93b 40.0%,#9dd93b 42.0%,#63cb5f 44.0%,#3aba76 46.0%,#31b57b 48.0%,#25ab82 50.0%,#25ab82 52.0%,#37b878 54.0%,#38b977 56.0%,#4cc26c 58.0%,#44bf70 60.0%,#48c16e 61.9%,#3dbc74 63.9%,#40bd72 65.9%,#44bf70 67.9%,#38b977 69.9%,#54c568 71.9%,#5cc863 73.9%,#40bd72 75.9%,#42be71 77.9%,#60ca60 79.9%,#65cb5e 81.8%,#65cb5e 83.8%,#58c765 85.8%,#46c06f 87.8%,#26ad81 89.8%,#1fa188 91.8%,#1fa188 93.8%,#1f998a 95.8%,#228b8d 97.8%,#2c718e 99.8%,#2c718e 99.8%)"></i><i style="left:641.34px;width:17.92px;background:linear-gradient(to top,#56c667 0.2%,#98d83e 2.2%,#b8de29 4.2%,#d0e11c 6.2%,#b2dd2d 8.2%,#89d548 10.2%,#73d056 12.2%,#63cb5f 14.2%,#60ca60 16.2%,#6ece58 18.2%,#86d549 20.1%,#7cd250 22.1%,#7cd250 24.1%,#89d548 26.1%,#a8db34 28.1%,#b0dd2f 30.1%,#6ece58 32.1%,#63cb5f 34.1%,#6ece58 36.1%,#67cc5c 38.1%,#81d34d 40.0%,#65cb5e 42.0%,#58c765 44.0%,#46c06f 46.0%,#25ab82 48.0%,#1fa287 50.0%,#20a386 52.0%,#3fbc73 54.0%,#42be71 56.0%,#4ac16d 58.0%,#46c06f 60.0%,#2cb17e 61.9%,#31b57b 63.9%,#3bbb75 65.9%,#3aba76 67.9%,#46c06f 69.9%,#56c667 71.9%,#54c568 73.9%,#48c16e 75.9%,#54c568 77.9%,#65cb5e 79.9%,#5ec962 81.8%,#5ec962 83.8%,#5cc863 85.8%,#56c667 87.8%,#21a685 89.8%,#1fa287 91.8%,#1e9d89 93.8%,#1f958b 95.8%,#228b8d 97.8%,#25838e 99.8%,#25838e 99.8%)"></i><i style="left:658.66px;width:17.92px;background:linear-gradient(to top,#5cc863 0.2%,#addc30 2.2%,#bddf26 4.2%,#addc30 6.2%,#9dd93b 8.2%,#86d549 10.2%,#75d054 12.2%,#65cb5e 14.2%,#60ca60 16.2%,#60ca60 18.2%,#84d44b 20.1%,#95d840 22.1%,#81d34d 24.1%,#81d34d 26.1%,#a8db34 28.1%,#93d741 30.1%,#4ec36b 32.1%,#52c569 34.1%,#58c765 36.1%,#67cc5c 38.1%,#54c568 40.0%,#3bbb75 42.0%,#42be71 44.0%,#3fbc73 46.0%,#25ab82 48.0%,#20a386 50.0%,#28ae80 52.0%,#26ad81 54.0%,#26ad81 56.0%,#42be71 58.0%,#46c06f 60.0%,#37b878 61.9%,#3dbc74 63.9%,#3bbb75 65.9%,#38b977 67.9%,#46c06f 69.9%,#44bf70 71.9%,#46c06f 73.9%,#4ac16d 75.9%,#4ec36b 77.9%,#67cc5c 79.9%,#69cd5b 81.8%,#5ac864 83.8%,#69cd5b 85.8%,#5ec962 87.8%,#26ad81 89.8%,#22a884 91.8%,#24aa83 93.8%,#1f998a 95.8%,#228c8d 97.8%,#23898e 99.8%,#23898e 99.8%)"></i><i style="left:675.98px;width:17.92px;background:linear-gradient(to top,#84d44b 0.2%,#b2dd2d 2.2%,#a8db34 4.2%,#9bd93c 6.2%,#8ed645 8.2%,#86d549 10.2%,#69cd5b 12.2%,#54c568 14.2%,#5ac864 16.2%,#5ec962 18.2%,#73d056 20.1%,#5cc863 22.1%,#4ec36b 24.1%,#5ec962 26.1%,#65cb5e 28.1%,#5cc863 30.1%,#31b57b 32.1%,#48c16e 34.1%,#50c46a 36.1%,#58c765 38.1%,#37b878 40.0%,#2fb47c 42.0%,#3dbc74 44.0%,#3dbc74 46.0%,#23a983 48.0%,#1f9e89 50.0%,#22a884 52.0%,#2eb37c 54.0%,#2cb17e 56.0%,#28ae80 58.0%,#28ae80 60.0%,#2ab07f 61.9%,#2db27d 63.9%,#2ab07f 65.9%,#34b679 67.9%,#37b878 69.9%,#38b977 71.9%,#3aba76 73.9%,#46c06f 75.9%,#52c569 77.9%,#65cb5e 79.9%,#6ece58 81.8%,#69cd5b 83.8%,#75d054 85.8%,#5ec962 87.8%,#2cb17e 89.8%,#21a585 91.8%,#20928c 93.8%,#1f998a 95.8%,#20928c 97.8%,#25848e 99.8%,#25848e 99.8%)"></i><i style="left:693.31px;width:17.92px;background:linear-gradient(to top,#84d44b 0.2%,#9dd93b 2.2%,#a2da37 4.2%,#a0da39 6.2%,#7cd250 8.2%,#70cf57 10.2%,#44bf70 12.2%,#3fbc73 14.2%,#42be71 16.2%,#52c569 18.2%,#63cb5f 20.1%,#4ec36b 22.1%,#54c568 24.1%,#6ccd5a 26.1%,#63cb5f 28.1%,#4cc26c 30.1%,#3bbb75 32.1%,#46c06f 34.1%,#4ac16d 36.1%,#42be71 38.1%,#2fb47c 40.0%,#27ad81 42.0%,#25ab82 44.0%,#24aa83 46.0%,#22a884 48.0%,#1f988b 50.0%,#1fa088 52.0%,#1f9f88 54.0%,#1fa287 56.0%,#22a785 58.0%,#21a685 60.0%,#2cb17e 61.9%,#2db27d 63.9%,#2db27d 65.9%,#2eb37c 67.9%,#40bd72 69.9%,#46c06f 71.9%,#46c06f 73.9%,#52c569 75.9%,#63cb5f 77.9%,#5ec962 79.9%,#6ccd5a 81.8%,#58c765 83.8%,#5cc863 85.8%,#58c765 87.8%,#21a585 89.8%,#1f978b 91.8%,#26828e 93.8%,#228b8d 95.8%,#2c728e 97.8%,#2f6b8e 99.8%,#2f6b8e 99.8%)"></i><i style="left:710.63px;width:17.92px;background:linear-gradient(to top,#70cf57 0.2%,#95d840 2.2%,#9bd93c 4.2%,#86d549 6.2%,#52c569 8.2%,#54c568 10.2%,#52c569 12.2%,#3dbc74 14.2%,#34b679 16.2%,#38b977 18.2%,#46c06f 20.1%,#35b779 22.1%,#5ec962 24.1%,#63cb5f 26.1%,#65cb5e 28.1%,#3dbc74 30.1%,#35b779 32.1%,#3aba76 34.1%,#38b977 36.1%,#2fb47c 38.1%,#25ac82 40.0%,#1f9e89 42.0%,#21918c 44.0%,#25838e 46.0%,#228d8d 48.0%,#1f988b 50.0%,#1f968b 52.0%,#1f958b 54.0%,#1f9e89 56.0%,#1fa187 58.0%,#23a983 60.0%,#21a585 61.9%,#2ab07f 63.9%,#25ab82 65.9%,#2eb37c 67.9%,#31b57b 69.9%,#3aba76 71.9%,#2fb47c 73.9%,#4ac16d 75.9%,#3fbc73 77.9%,#4ac16d 79.9%,#42be71 81.8%,#2eb37c 83.8%,#20a386 85.8%,#24aa83 87.8%,#21918c 89.8%,#297a8e 91.8%,#2a778e 93.8%,#287d8e 95.8%,#2e6f8e 97.8%,#33628d 99.8%,#33628d 99.8%)"></i><i style="left:727.96px;width:17.92px;background:linear-gradient(to top,#4ac16d 0.2%,#8bd646 2.2%,#90d743 4.2%,#90d743 6.2%,#54c568 8.2%,#3bbb75 10.2%,#35b779 12.2%,#2cb17e 14.2%,#2eb37c 16.2%,#50c46a 18.2%,#52c569 20.1%,#4cc26c 22.1%,#3aba76 24.1%,#48c16e 26.1%,#3dbc74 28.1%,#34b679 30.1%,#2cb17e 32.1%,#28ae80 34.1%,#1fa088 36.1%,#1f968b 38.1%,#218e8d 40.0%,#23898e 42.0%,#23888e 44.0%,#27808e 46.0%,#26828e 48.0%,#218f8d 50.0%,#20928c 52.0%,#218e8d 54.0%,#1fa088 56.0%,#1e9b8a 58.0%,#1f9a8a 60.0%,#1e9c89 61.9%,#1fa188 63.9%,#1f948c 65.9%,#1e9b8a 67.9%,#23a983 69.9%,#24aa83 71.9%,#21a585 73.9%,#21a585 75.9%,#28ae80 77.9%,#2db27d 79.9%,#1f978b 81.8%,#228d8d 83.8%,#1fa187 85.8%,#1f988b 87.8%,#25858e 89.8%,#30698e 91.8%,#32658e 93.8%,#2d718e 95.8%,#31668e 97.8%,#32648e 99.8%,#32648e 99.8%)"></i><i style="left:745.28px;width:17.92px;background:linear-gradient(to top,#60ca60 0.2%,#93d741 2.2%,#93d741 4.2%,#86d549 6.2%,#4ec36b 8.2%,#3bbb75 10.2%,#29af7f 12.2%,#22a785 14.2%,#24aa83 16.2%,#23a983 18.2%,#2eb37c 20.1%,#3aba76 22.1%,#24aa83 24.1%,#25ab82 26.1%,#27ad81 28.1%,#1e9b8a 30.1%,#25ac82 32.1%,#1fa287 34.1%,#1f958b 36.1%,#218e8d 38.1%,#26818e 40.0%,#27808e 42.0%,#25848e 44.0%,#228c8d 46.0%,#26828e 48.0%,#25858e 50.0%,#21918c 52.0%,#1f998a 54.0%,#1f948c 56.0%,#20a386 58.0%,#1f958b 60.0%,#1e9c89 61.9%,#1f968b 63.9%,#20938c 65.9%,#21918c 67.9%,#1fa188 69.9%,#20a486 71.9%,#1f988b 73.9%,#1e9c89 75.9%,#1f9f88 77.9%,#1fa188 79.9%,#21918c 81.8%,#20928c 83.8%,#1e9c89 85.8%,#1f948c 87.8%,#25858e 89.8%,#2d718e 91.8%,#2a768e 93.8%,#30698e 95.8%,#2d718e 97.8%,#31688e 99.8%,#31688e 99.8%)"></i><i style="left:762.60px;width:17.92px;background:linear-gradient(to top,#2eb37c 0.2%,#65cb5e 2.2%,#5cc863 4.2%,#3aba76 6.2%,#2db27d 8.2%,#1fa188 10.2%,#1f948c 12.2%,#228d8d 14.2%,#228c8d 16.2%,#23a983 18.2%,#2eb37c 20.1%,#1f9a8a 22.1%,#1f978b 24.1%,#1f948c 26.1%,#1f988b 28.1%,#24878e 30.1%,#238a8d 32.1%,#228c8d 34.1%,#23898e 36.1%,#24868e 38.1%,#297a8e 40.0%,#2a768e 42.0%,#287c8e 44.0%,#218e8d 46.0%,#23898e 48.0%,#218e8d 50.0%,#1f988b 52.0%,#20928c 54.0%,#218f8d 56.0%,#1f9f88 58.0%,#20928c 60.0%,#1f9f88 61.9%,#1f988b 63.9%,#21918c 65.9%,#228d8d 67.9%,#218f8d 69.9%,#23888e 71.9%,#21918c 73.9%,#1fa088 75.9%,#1e9b8a 77.9%,#1f948c 79.9%,#1f988b 81.8%,#1f998a 83.8%,#1f948c 85.8%,#1f948c 87.8%,#26828e 89.8%,#26818e 91.8%,#26828e 93.8%,#2c728e 95.8%,#355e8d 97.8%,#3c508b 99.8%,#3c508b 99.8%)"></i><i style="left:779.93px;width:17.92px;background:linear-gradient(to top,#1fa187 0.2%,#22a884 2.2%,#1fa287 4.2%,#1f9e89 6.2%,#1e9c89 8.2%,#1f978b 10.2%,#1f958b 12.2%,#1f958b 14.2%,#21918c 16.2%,#21918c 18.2%,#1fa088 20.1%,#1f968b 22.1%,#20928c 24.1%,#21918c 26.1%,#25848e 28.1%,#297a8e 30.1%,#297b8e 32.1%,#2d718e 34.1%,#2c728e 36.1%,#25858e 38.1%,#25848e 40.0%,#2c728e 42.0%,#287d8e 44.0%,#25848e 46.0%,#20928c 48.0%,#25858e 50.0%,#218f8d 52.0%,#228b8d 54.0%,#25858e 56.0%,#228d8d 58.0%,#218e8d 60.0%,#1f948c 61.9%,#24868e 63.9%,#21908d 65.9%,#20928c 67.9%,#1f968b 69.9%,#277e8e 71.9%,#1f968b 73.9%,#1f968b 75.9%,#20928c 77.9%,#20928c 79.9%,#20938c 81.8%,#20938c 83.8%,#23898e 85.8%,#228c8d 87.8%,#25838e 89.8%,#26828e 91.8%,#277f8e 93.8%,#31668e 95.8%,#34618d 97.8%,#2b748e 99.8%,#2b748e 99.8%)"></i><i style="left:797.25px;width:17.92px;background:linear-gradient(to top,#238a8d 0.2%,#20928c 2.2%,#1f978b 4.2%,#1f968b 6.2%,#218f8d 8.2%,#24868e 10.2%,#228d8d 12.2%,#25838e 14.2%,#228c8d 16.2%,#24878e 18.2%,#23888e 20.1%,#21918c 22.1%,#20938c 24.1%,#218f8d 26.1%,#23898e 28.1%,#26828e 30.1%,#277f8e 32.1%,#26828e 34.1%,#2c718e 36.1%,#287d8e 38.1%,#24868e 40.0%,#297a8e 42.0%,#287d8e 44.0%,#26828e 46.0%,#218e8d 48.0%,#277e8e 50.0%,#1f978b 52.0%,#25838e 54.0%,#25848e 56.0%,#297b8e 58.0%,#20928c 60.0%,#238a8d 61.9%,#238a8d 63.9%,#21918c 65.9%,#218f8d 67.9%,#1f978b 69.9%,#20928c 71.9%,#218f8d 73.9%,#228b8d 75.9%,#228d8d 77.9%,#23898e 79.9%,#238a8d 81.8%,#24868e 83.8%,#25858e 85.8%,#238a8d 87.8%,#238a8d 89.8%,#23898e 91.8%,#297b8e 93.8%,#2d718e 95.8%,#355f8d 97.8%,#375b8d 99.8%,#375b8d 99.8%)"></i><i style="left:814.58px;width:17.92px;background:linear-gradient(to top,#24878e 0.2%,#23898e 2.2%,#218e8d 4.2%,#26828e 6.2%,#25858e 8.2%,#25848e 10.2%,#1f988b 12.2%,#21918c 14.2%,#218e8d 16.2%,#238a8d 18.2%,#25838e 20.1%,#23898e 22.1%,#20938c 24.1%,#25838e 26.1%,#25848e 28.1%,#26818e 30.1%,#26828e 32.1%,#27808e 34.1%,#287c8e 36.1%,#2a768e 38.1%,#24868e 40.0%,#277e8e 42.0%,#287c8e 44.0%,#287c8e 46.0%,#24868e 48.0%,#23888e 50.0%,#228c8d 52.0%,#228b8d 54.0%,#1f988b 56.0%,#1f978b 58.0%,#238a8d 60.0%,#25848e 61.9%,#25848e 63.9%,#228b8d 65.9%,#218f8d 67.9%,#228c8d 69.9%,#218f8d 71.9%,#21918c 73.9%,#1f948c 75.9%,#228d8d 77.9%,#287c8e 79.9%,#25848e 81.8%,#25848e 83.8%,#228c8d 85.8%,#228d8d 87.8%,#238a8d 89.8%,#24878e 91.8%,#2a768e 93.8%,#2f6c8e 95.8%,#33628d 97.8%,#31688e 99.8%,#31688e 99.8%)"></i><i style="left:831.90px;width:17.92px;background:linear-gradient(to top,#21918c 0.2%,#26828e 2.2%,#218f8d 4.2%,#1e9b8a 6.2%,#218f8d 8.2%,#20928c 10.2%,#21908d 12.2%,#20928c 14.2%,#21918c 16.2%,#23888e 18.2%,#26828e 20.1%,#228c8d 22.1%,#20938c 24.1%,#25858e 26.1%,#2a778e 28.1%,#2b758e 30.1%,#2c738e 32.1%,#2a778e 34.1%,#26828e 36.1%,#26818e 38.1%,#228d8d 40.0%,#297b8e 42.0%,#25838e 44.0%,#297b8e 46.0%,#2c738e 48.0%,#2b758e 50.0%,#228b8d 52.0%,#1f948c 54.0%,#1e9b8a 56.0%,#1f948c 58.0%,#20928c 60.0%,#24868e 61.9%,#228d8d 63.9%,#1f998a 65.9%,#228d8d 67.9%,#218f8d 69.9%,#1f948c 71.9%,#25858e 73.9%,#238a8d 75.9%,#21908d 77.9%,#1f988b 79.9%,#238a8d 81.8%,#27808e 83.8%,#27808e 85.8%,#23898e 87.8%,#25848e 89.8%,#297b8e 91.8%,#2e6f8e 93.8%,#306a8e 95.8%,#3c508b 97.8%,#38598c 99.8%,#38598c 99.8%)"></i><i style="left:849.23px;width:17.92px;background:linear-gradient(to top,#4ec36b 0.2%,#84d44b 2.2%,#a5db36 4.2%,#a2da37 6.2%,#90d743 8.2%,#86d549 10.2%,#7fd34e 12.2%,#86d549 14.2%,#73d056 16.2%,#89d548 18.2%,#c0df25 20.1%,#b8de29 22.1%,#90d743 24.1%,#7ad151 26.1%,#75d054 28.1%,#90d743 30.1%,#75d054 32.1%,#a5db36 34.1%,#b5de2b 36.1%,#cde11d 38.1%,#fbe723 40.0%,#efe51c 42.0%,#d8e219 44.0%,#bddf26 46.0%,#b0dd2f 48.0%,#90d743 50.0%,#95d840 52.0%,#b5de2b 54.0%,#c5e021 56.0%,#b5de2b 58.0%,#d8e219 60.0%,#e7e419 61.9%,#dfe318 63.9%,#b5de2b 65.9%,#95d840 67.9%,#a2da37 69.9%,#c2df23 71.9%,#c8e020 73.9%,#c8e020 75.9%,#c5e021 77.9%,#bade28 79.9%,#bade28 81.8%,#9bd93c 83.8%,#9dd93b 85.8%,#9bd93c 87.8%,#98d83e 89.8%,#7ad151 91.8%,#40bd72 93.8%,#23a983 95.8%,#23a983 97.8%,#1e9c89 99.8%,#1e9c89 99.8%)"></i><i style="left:866.55px;width:17.92px;background:linear-gradient(to top,#50c46a 0.2%,#77d153 2.2%,#9bd93c 4.2%,#93d741 6.2%,#7fd34e 8.2%,#5ac864 10.2%,#6ccd5a 12.2%,#69cd5b 14.2%,#6ece58 16.2%,#84d44b 18.2%,#b2dd2d 20.1%,#a0da39 22.1%,#98d83e 24.1%,#77d153 26.1%,#81d34d 28.1%,#7fd34e 30.1%,#75d054 32.1%,#86d549 34.1%,#98d83e 36.1%,#aadc32 38.1%,#c8e020 40.0%,#dae319 42.0%,#b0dd2f 44.0%,#a5db36 46.0%,#9bd93c 48.0%,#86d549 50.0%,#81d34d 52.0%,#90d743 54.0%,#95d840 56.0%,#93d741 58.0%,#d0e11c 60.0%,#d2e21b 61.9%,#cae11f 63.9%,#84d44b 65.9%,#7fd34e 67.9%,#7cd250 69.9%,#9bd93c 71.9%,#a5db36 73.9%,#93d741 75.9%,#a5db36 77.9%,#8ed645 79.9%,#a5db36 81.8%,#90d743 83.8%,#7ad151 85.8%,#77d153 87.8%,#84d44b 89.8%,#69cd5b 91.8%,#35b779 93.8%,#27ad81 95.8%,#22a884 97.8%,#1f948c 99.8%,#1f948c 99.8%)"></i><i style="left:883.87px;width:17.92px;background:linear-gradient(to top,#22a785 0.2%,#3fbc73 2.2%,#63cb5f 4.2%,#5ac864 6.2%,#29af7f 8.2%,#3aba76 10.2%,#25ac82 12.2%,#31b57b 14.2%,#3aba76 16.2%,#38b977 18.2%,#70cf57 20.1%,#52c569 22.1%,#48c16e 24.1%,#52c569 26.1%,#69cd5b 28.1%,#65cb5e 30.1%,#5cc863 32.1%,#4ac16d 34.1%,#5ac864 36.1%,#58c765 38.1%,#6ccd5a 40.0%,#5ec962 42.0%,#6ccd5a 44.0%,#77d153 46.0%,#63cb5f 48.0%,#56c667 50.0%,#6ccd5a 52.0%,#75d054 54.0%,#70cf57 56.0%,#73d056 58.0%,#7fd34e 60.0%,#7fd34e 61.9%,#75d054 63.9%,#6ece58 65.9%,#75d054 67.9%,#5ec962 69.9%,#56c667 71.9%,#60ca60 73.9%,#60ca60 75.9%,#5ac864 77.9%,#54c568 79.9%,#5ec962 81.8%,#4ac16d 83.8%,#4ac16d 85.8%,#50c46a 87.8%,#54c568 89.8%,#44bf70 91.8%,#26ad81 93.8%,#1fa187 95.8%,#21918c 97.8%,#21908d 99.8%,#21908d 99.8%)"></i><i style="left:901.20px;width:17.92px;background:linear-gradient(to top,#1f9f88 0.2%,#23a983 2.2%,#3aba76 4.2%,#2ab07f 6.2%,#26ad81 8.2%,#22a785 10.2%,#29af7f 12.2%,#29af7f 14.2%,#2db27d 16.2%,#26ad81 18.2%,#2cb17e 20.1%,#2fb47c 22.1%,#2eb37c 24.1%,#4cc26c 26.1%,#4ac16d 28.1%,#52c569 30.1%,#40bd72 32.1%,#37b878 34.1%,#3fbc73 36.1%,#4ec36b 38.1%,#2fb47c 40.0%,#42be71 42.0%,#4ec36b 44.0%,#58c765 46.0%,#52c569 48.0%,#3fbc73 50.0%,#75d054 52.0%,#73d056 54.0%,#5ec962 56.0%,#6ccd5a 58.0%,#58c765 60.0%,#5ac864 61.9%,#5ec962 63.9%,#6ece58 65.9%,#75d054 67.9%,#5ac864 69.9%,#46c06f 71.9%,#52c569 73.9%,#50c46a 75.9%,#50c46a 77.9%,#40bd72 79.9%,#3aba76 81.8%,#3aba76 83.8%,#52c569 85.8%,#48c16e 87.8%,#32b67a 89.8%,#1f9e89 91.8%,#277f8e 93.8%,#287c8e 95.8%,#2a768e 97.8%,#29798e 99.8%,#29798e 99.8%)"></i><i style="left:918.52px;width:17.92px;background:linear-gradient(to top,#1f958b 0.2%,#22a785 2.2%,#25ac82 4.2%,#21a685 6.2%,#24aa83 8.2%,#22a884 10.2%,#23a983 12.2%,#21a585 14.2%,#24aa83 16.2%,#23a983 18.2%,#2cb17e 20.1%,#24aa83 22.1%,#31b57b 24.1%,#52c569 26.1%,#4cc26c 28.1%,#3aba76 30.1%,#3fbc73 32.1%,#42be71 34.1%,#2eb37c 36.1%,#42be71 38.1%,#3fbc73 40.0%,#46c06f 42.0%,#54c568 44.0%,#5ec962 46.0%,#54c568 48.0%,#52c569 50.0%,#60ca60 52.0%,#5cc863 54.0%,#5ec962 56.0%,#50c46a 58.0%,#56c667 60.0%,#65cb5e 61.9%,#5ac864 63.9%,#5ac864 65.9%,#5ec962 67.9%,#44bf70 69.9%,#2cb17e 71.9%,#3bbb75 73.9%,#4ec36b 75.9%,#5cc863 77.9%,#60ca60 79.9%,#3dbc74 81.8%,#3aba76 83.8%,#5ec962 85.8%,#52c569 87.8%,#37b878 89.8%,#20928c 91.8%,#29798e 93.8%,#2f6b8e 95.8%,#306a8e 97.8%,#306a8e 99.8%,#306a8e 99.8%)"></i><i style="left:935.85px;width:17.92px;background:linear-gradient(to top,#1fa188 0.2%,#22a785 2.2%,#28ae80 4.2%,#21918c 6.2%,#22a785 8.2%,#28ae80 10.2%,#25ab82 12.2%,#25ab82 14.2%,#22a785 16.2%,#25ab82 18.2%,#24aa83 20.1%,#25ac82 22.1%,#3dbc74 24.1%,#50c46a 26.1%,#54c568 28.1%,#46c06f 30.1%,#4ec36b 32.1%,#40bd72 34.1%,#2ab07f 36.1%,#4ac16d 38.1%,#4cc26c 40.0%,#4ac16d 42.0%,#46c06f 44.0%,#4ac16d 46.0%,#58c765 48.0%,#4ac16d 50.0%,#44bf70 52.0%,#4ec36b 54.0%,#50c46a 56.0%,#54c568 58.0%,#4ec36b 60.0%,#54c568 61.9%,#48c16e 63.9%,#44bf70 65.9%,#3fbc73 67.9%,#31b57b 69.9%,#32b67a 71.9%,#3bbb75 73.9%,#48c16e 75.9%,#69cd5b 77.9%,#63cb5f 79.9%,#6ccd5a 81.8%,#60ca60 83.8%,#5cc863 85.8%,#70cf57 87.8%,#3dbc74 89.8%,#1f948c 91.8%,#365d8d 93.8%,#2d718e 95.8%,#2c718e 97.8%,#2f6c8e 99.8%,#2f6c8e 99.8%)"></i><i style="left:953.17px;width:17.92px;background:linear-gradient(to top,#1e9b8a 0.2%,#20a386 2.2%,#21a585 4.2%,#1f9e89 6.2%,#20a386 8.2%,#24aa83 10.2%,#25ac82 12.2%,#29af7f 14.2%,#21a585 16.2%,#21a585 18.2%,#2db27d 20.1%,#25ac82 22.1%,#42be71 24.1%,#46c06f 26.1%,#4ec36b 28.1%,#58c765 30.1%,#52c569 32.1%,#38b977 34.1%,#3dbc74 36.1%,#4cc26c 38.1%,#44bf70 40.0%,#40bd72 42.0%,#48c16e 44.0%,#52c569 46.0%,#63cb5f 48.0%,#67cc5c 50.0%,#40bd72 52.0%,#52c569 54.0%,#52c569 56.0%,#48c16e 58.0%,#48c16e 60.0%,#40bd72 61.9%,#38b977 63.9%,#3fbc73 65.9%,#40bd72 67.9%,#31b57b 69.9%,#34b679 71.9%,#56c667 73.9%,#48c16e 75.9%,#4ec36b 77.9%,#54c568 79.9%,#6ece58 81.8%,#73d056 83.8%,#69cd5b 85.8%,#70cf57 87.8%,#40bd72 89.8%,#1e9c89 91.8%,#21908d 93.8%,#238a8d 95.8%,#2a778e 97.8%,#25838e 99.8%,#25838e 99.8%)"></i><i style="left:970.50px;width:17.92px;background:linear-gradient(to top,#1fa088 0.2%,#1e9b8a 2.2%,#1e9b8a 4.2%,#1fa088 6.2%,#1fa188 8.2%,#25ab82 10.2%,#1fa287 12.2%,#1f9a8a 14.2%,#1fa287 16.2%,#23a983 18.2%,#28ae80 20.1%,#2ab07f 22.1%,#3fbc73 24.1%,#3fbc73 26.1%,#4ec36b 28.1%,#54c568 30.1%,#4cc26c 32.1%,#42be71 34.1%,#3fbc73 36.1%,#31b57b 38.1%,#37b878 40.0%,#40bd72 42.0%,#46c06f 44.0%,#4ec36b 46.0%,#56c667 48.0%,#4ec36b 50.0%,#4ac16d 52.0%,#56c667 54.0%,#44bf70 56.0%,#37b878 58.0%,#3dbc74 60.0%,#2eb37c 61.9%,#2fb47c 63.9%,#4ac16d 65.9%,#2db27d 67.9%,#27ad81 69.9%,#3aba76 71.9%,#50c46a 73.9%,#42be71 75.9%,#5ac864 77.9%,#67cc5c 79.9%,#5ec962 81.8%,#5ac864 83.8%,#58c765 85.8%,#5ac864 87.8%,#3fbc73 89.8%,#22a785 91.8%,#1f9f88 93.8%,#228b8d 95.8%,#297b8e 97.8%,#228c8d 99.8%,#228c8d 99.8%)"></i><i style="left:987.82px;width:17.92px;background:linear-gradient(to top,#1f948c 0.2%,#1e9b8a 2.2%,#1f9e89 4.2%,#20a486 6.2%,#1fa188 8.2%,#21a685 10.2%,#1f9a8a 12.2%,#20a486 14.2%,#22a884 16.2%,#1f9e89 18.2%,#1fa287 20.1%,#28ae80 22.1%,#2db27d 24.1%,#37b878 26.1%,#37b878 28.1%,#2cb17e 30.1%,#44bf70 32.1%,#37b878 34.1%,#3dbc74 36.1%,#42be71 38.1%,#35b779 40.0%,#46c06f 42.0%,#32b67a 44.0%,#2ab07f 46.0%,#38b977 48.0%,#40bd72 50.0%,#38b977 52.0%,#31b57b 54.0%,#38b977 56.0%,#2ab07f 58.0%,#28ae80 60.0%,#2eb37c 61.9%,#25ab82 63.9%,#2ab07f 65.9%,#3aba76 67.9%,#2db27d 69.9%,#3fbc73 71.9%,#4ac16d 73.9%,#37b878 75.9%,#4ec36b 77.9%,#5ac864 79.9%,#46c06f 81.8%,#5cc863 83.8%,#65cb5e 85.8%,#65cb5e 87.8%,#48c16e 89.8%,#28ae80 91.8%,#1f998a 93.8%,#25848e 95.8%,#24868e 97.8%,#2a778e 99.8%,#2a778e 99.8%)"></i><i style="left:1005.14px;width:17.92px;background:linear-gradient(to top,#1f998a 0.2%,#21908d 2.2%,#1f968b 4.2%,#1e9b8a 6.2%,#1f9e89 8.2%,#1f998a 10.2%,#218f8d 12.2%,#21a585 14.2%,#1fa287 16.2%,#1e9c89 18.2%,#1fa287 20.1%,#20a386 22.1%,#21a585 24.1%,#25ac82 26.1%,#29af7f 28.1%,#24aa83 30.1%,#40bd72 32.1%,#48c16e 34.1%,#3bbb75 36.1%,#2db27d 38.1%,#22a785 40.0%,#3bbb75 42.0%,#35b779 44.0%,#29af7f 46.0%,#26ad81 48.0%,#34b679 50.0%,#27ad81 52.0%,#28ae80 54.0%,#21a685 56.0%,#20938c 58.0%,#1f948c 60.0%,#1e9b8a 61.9%,#1f978b 63.9%,#1f968b 65.9%,#20938c 67.9%,#1f9e89 69.9%,#2cb17e 71.9%,#3bbb75 73.9%,#2eb37c 75.9%,#35b779 77.9%,#3bbb75 79.9%,#32b67a 81.8%,#44bf70 83.8%,#48c16e 85.8%,#4ac16d 87.8%,#2eb37c 89.8%,#22a785 91.8%,#25858e 93.8%,#26818e 95.8%,#25858e 97.8%,#2c728e 99.8%,#2c728e 99.8%)"></i><i style="left:1022.47px;width:17.92px;background:linear-gradient(to top,#1f948c 0.2%,#21918c 2.2%,#218f8d 4.2%,#23898e 6.2%,#228d8d 8.2%,#1fa088 10.2%,#20928c 12.2%,#1fa188 14.2%,#1f9e89 16.2%,#20a386 18.2%,#1fa287 20.1%,#1f9e89 22.1%,#1fa088 24.1%,#1f948c 26.1%,#1fa088 28.1%,#20938c 30.1%,#1f9e89 32.1%,#27ad81 34.1%,#20a386 36.1%,#1fa088 38.1%,#1f998a 40.0%,#1fa188 42.0%,#1fa088 44.0%,#20a386 46.0%,#24aa83 48.0%,#24aa83 50.0%,#20a486 52.0%,#218f8d 54.0%,#1e9c89 56.0%,#1f948c 58.0%,#228d8d 60.0%,#218f8d 61.9%,#21918c 63.9%,#20928c 65.9%,#24868e 67.9%,#1f958b 69.9%,#1e9b8a 71.9%,#25ab82 73.9%,#26ad81 75.9%,#34b679 77.9%,#32b67a 79.9%,#2fb47c 81.8%,#2eb37c 83.8%,#28ae80 85.8%,#21a585 87.8%,#2ab07f 89.8%,#1f968b 91.8%,#238a8d 93.8%,#297b8e 95.8%,#297b8e 97.8%,#2b748e 99.8%,#2b748e 99.8%)"></i><i style="left:1039.79px;width:17.92px;background:linear-gradient(to top,#238a8d 0.2%,#25838e 2.2%,#1e9b8a 4.2%,#1f9a8a 6.2%,#1f998a 8.2%,#1fa088 10.2%,#228d8d 12.2%,#21918c 14.2%,#1f948c 16.2%,#1f988b 18.2%,#1e9d89 20.1%,#1e9d89 22.1%,#1fa088 24.1%,#218e8d 26.1%,#20928c 28.1%,#238a8d 30.1%,#1fa088 32.1%,#1f958b 34.1%,#23888e 36.1%,#23888e 38.1%,#1f998a 40.0%,#1e9d89 42.0%,#218f8d 44.0%,#1e9d89 46.0%,#22a785 48.0%,#1f988b 50.0%,#1f998a 52.0%,#1f958b 54.0%,#1f968b 56.0%,#228b8d 58.0%,#228b8d 60.0%,#1e9b8a 61.9%,#20928c 63.9%,#1f968b 65.9%,#1f998a 67.9%,#20928c 69.9%,#1f948c 71.9%,#1f978b 73.9%,#1f978b 75.9%,#1e9c89 77.9%,#21a685 79.9%,#1e9c89 81.8%,#1f998a 83.8%,#21a585 85.8%,#1e9b8a 87.8%,#1e9d89 89.8%,#1f988b 91.8%,#218f8d 93.8%,#2a788e 95.8%,#2b748e 97.8%,#2b758e 99.8%,#2b758e 99.8%)"></i><i style="left:1057.12px;width:17.92px;background:linear-gradient(to top,#228d8d 0.2%,#218e8d 2.2%,#21918c 4.2%,#23898e 6.2%,#24868e 8.2%,#1f948c 10.2%,#228d8d 12.2%,#228d8d 14.2%,#218e8d 16.2%,#297b8e 18.2%,#20928c 20.1%,#1f968b 22.1%,#24878e 24.1%,#23898e 26.1%,#20928c 28.1%,#218e8d 30.1%,#1f958b 32.1%,#20928c 34.1%,#228c8d 36.1%,#23898e 38.1%,#1f998a 40.0%,#20928c 42.0%,#24878e 44.0%,#21908d 46.0%,#218f8d 48.0%,#1f968b 50.0%,#25858e 52.0%,#1f948c 54.0%,#1f948c 56.0%,#21908d 58.0%,#20938c 60.0%,#25848e 61.9%,#21908d 63.9%,#26828e 65.9%,#20928c 67.9%,#228c8d 69.9%,#228c8d 71.9%,#1f958b 73.9%,#238a8d 75.9%,#1e9c89 77.9%,#1f998a 79.9%,#1f978b 81.8%,#25838e 83.8%,#21918c 85.8%,#23888e 87.8%,#228d8d 89.8%,#228c8d 91.8%,#287d8e 93.8%,#33628d 95.8%,#32648e 97.8%,#2e6f8e 99.8%,#2e6f8e 99.8%)"></i><i style="left:1074.44px;width:17.92px;background:linear-gradient(to top,#25848e 0.2%,#2a778e 2.2%,#24878e 4.2%,#228c8d 6.2%,#23898e 8.2%,#24878e 10.2%,#218f8d 12.2%,#23898e 14.2%,#23888e 16.2%,#25858e 18.2%,#23898e 20.1%,#238a8d 22.1%,#238a8d 24.1%,#228c8d 26.1%,#228d8d 28.1%,#20938c 30.1%,#228c8d 32.1%,#25838e 34.1%,#228b8d 36.1%,#25838e 38.1%,#24868e 40.0%,#1f948c 42.0%,#228c8d 44.0%,#228b8d 46.0%,#2a768e 48.0%,#228d8d 50.0%,#218e8d 52.0%,#20928c 54.0%,#1f978b 56.0%,#26828e 58.0%,#23888e 60.0%,#26828e 61.9%,#287c8e 63.9%,#29798e 65.9%,#24868e 67.9%,#20928c 69.9%,#20928c 71.9%,#20928c 73.9%,#23898e 75.9%,#228d8d 77.9%,#218f8d 79.9%,#21908d 81.8%,#24868e 83.8%,#1f9a8a 85.8%,#20928c 87.8%,#23898e 89.8%,#287c8e 91.8%,#2e6f8e 93.8%,#31688e 95.8%,#375a8c 97.8%,#306a8e 99.8%,#306a8e 99.8%)"></i><i style="left:1091.76px;width:17.92px;background:linear-gradient(to top,#228b8d 0.2%,#218f8d 2.2%,#218e8d 4.2%,#23898e 6.2%,#25848e 8.2%,#25858e 10.2%,#24868e 12.2%,#26828e 14.2%,#24878e 16.2%,#277e8e 18.2%,#20928c 20.1%,#27808e 22.1%,#2c718e 24.1%,#228b8d 26.1%,#20928c 28.1%,#21918c 30.1%,#25858e 32.1%,#25838e 34.1%,#20928c 36.1%,#228d8d 38.1%,#228c8d 40.0%,#24878e 42.0%,#21918c 44.0%,#228b8d 46.0%,#287c8e 48.0%,#23898e 50.0%,#21908d 52.0%,#1f978b 54.0%,#1f958b 56.0%,#228d8d 58.0%,#24878e 60.0%,#228d8d 61.9%,#26828e 63.9%,#24868e 65.9%,#23888e 67.9%,#21908d 69.9%,#218e8d 71.9%,#238a8d 73.9%,#25858e 75.9%,#26828e 77.9%,#228c8d 79.9%,#277f8e 81.8%,#25858e 83.8%,#228d8d 85.8%,#24868e 87.8%,#20928c 89.8%,#25838e 91.8%,#26818e 93.8%,#30698e 95.8%,#375b8d 97.8%,#30698e 99.8%,#30698e 99.8%)"></i><i style="left:1109.09px;width:17.92px;background:linear-gradient(to top,#2a788e 0.2%,#26828e 2.2%,#297b8e 4.2%,#24878e 6.2%,#218e8d 8.2%,#23898e 10.2%,#25848e 12.2%,#277e8e 14.2%,#2a788e 16.2%,#26818e 18.2%,#218e8d 20.1%,#25848e 22.1%,#23898e 24.1%,#21908d 26.1%,#228d8d 28.1%,#228b8d 30.1%,#25858e 32.1%,#26818e 34.1%,#23888e 36.1%,#21918c 38.1%,#25858e 40.0%,#24868e 42.0%,#25838e 44.0%,#238a8d 46.0%,#238a8d 48.0%,#24878e 50.0%,#24868e 52.0%,#24878e 54.0%,#20928c 56.0%,#23898e 58.0%,#25848e 60.0%,#23898e 61.9%,#23888e 63.9%,#24878e 65.9%,#26818e 67.9%,#24868e 69.9%,#25838e 71.9%,#26828e 73.9%,#218f8d 75.9%,#23888e 77.9%,#228d8d 79.9%,#27808e 81.8%,#26828e 83.8%,#26818e 85.8%,#24868e 87.8%,#228d8d 89.8%,#20928c 91.8%,#25858e 93.8%,#2b748e 95.8%,#2e6e8e 97.8%,#2e6d8e 99.8%,#2e6d8e 99.8%)"></i><i style="left:1126.41px;width:17.92px;background:linear-gradient(to top,#2a788e 0.2%,#26828e 2.2%,#25848e 4.2%,#25838e 6.2%,#277e8e 8.2%,#277e8e 10.2%,#27808e 12.2%,#27808e 14.2%,#24868e 16.2%,#24868e 18.2%,#27808e 20.1%,#26828e 22.1%,#23898e 24.1%,#21908d 26.1%,#20928c 28.1%,#228b8d 30.1%,#218f8d 32.1%,#24868e 34.1%,#218f8d 36.1%,#228b8d 38.1%,#24878e 40.0%,#26828e 42.0%,#24878e 44.0%,#1f948c 46.0%,#218e8d 48.0%,#26818e 50.0%,#218f8d 52.0%,#277e8e 54.0%,#25858e 56.0%,#25848e 58.0%,#27808e 60.0%,#2a788e 61.9%,#26818e 63.9%,#25838e 65.9%,#27808e 67.9%,#277e8e 69.9%,#24878e 71.9%,#23888e 73.9%,#2a768e 75.9%,#25838e 77.9%,#24878e 79.9%,#23888e 81.8%,#25858e 83.8%,#25848e 85.8%,#2c738e 87.8%,#21908d 89.8%,#20938c 91.8%,#277e8e 93.8%,#2e6e8e 95.8%,#31678e 97.8%,#33638d 99.8%,#33638d 99.8%)"></i><i style="left:1143.74px;width:17.92px;background:linear-gradient(to top,#25858e 0.2%,#26828e 2.2%,#2c738e 4.2%,#26828e 6.2%,#23888e 8.2%,#26828e 10.2%,#26828e 12.2%,#26828e 14.2%,#25838e 16.2%,#287d8e 18.2%,#26818e 20.1%,#26828e 22.1%,#26828e 24.1%,#287d8e 26.1%,#228b8d 28.1%,#24868e 30.1%,#24868e 32.1%,#277e8e 34.1%,#26818e 36.1%,#26828e 38.1%,#24868e 40.0%,#24868e 42.0%,#23888e 44.0%,#23888e 46.0%,#23898e 48.0%,#26818e 50.0%,#25848e 52.0%,#277e8e 54.0%,#25848e 56.0%,#26818e 58.0%,#25848e 60.0%,#24878e 61.9%,#25838e 63.9%,#297b8e 65.9%,#26818e 67.9%,#277e8e 69.9%,#24868e 71.9%,#25838e 73.9%,#25838e 75.9%,#24878e 77.9%,#24868e 79.9%,#25858e 81.8%,#26828e 83.8%,#297a8e 85.8%,#24878e 87.8%,#218f8d 89.8%,#238a8d 91.8%,#2a788e 93.8%,#2d718e 95.8%,#2e6d8e 97.8%,#30698e 99.8%,#30698e 99.8%)"></i><i style="left:1161.06px;width:17.92px;background:linear-gradient(to top,#287d8e 0.2%,#26828e 2.2%,#26828e 4.2%,#287c8e 6.2%,#23888e 8.2%,#277e8e 10.2%,#2b758e 12.2%,#27808e 14.2%,#287c8e 16.2%,#277f8e 18.2%,#26828e 20.1%,#23888e 22.1%,#26828e 24.1%,#277f8e 26.1%,#287d8e 28.1%,#297b8e 30.1%,#277f8e 32.1%,#25838e 34.1%,#25838e 36.1%,#26828e 38.1%,#23898e 40.0%,#26828e 42.0%,#25858e 44.0%,#21918c 46.0%,#23898e 48.0%,#26828e 50.0%,#27808e 52.0%,#238a8d 54.0%,#218f8d 56.0%,#228d8d 58.0%,#25838e 60.0%,#27808e 61.9%,#277e8e 63.9%,#24878e 65.9%,#26828e 67.9%,#26828e 69.9%,#25848e 71.9%,#25838e 73.9%,#228c8d 75.9%,#23888e 77.9%,#2a778e 79.9%,#24878e 81.8%,#277e8e 83.8%,#27808e 85.8%,#2c738e 87.8%,#2a778e 89.8%,#20928c 91.8%,#287c8e 93.8%,#306a8e 95.8%,#33638d 97.8%,#30698e 99.8%,#30698e 99.8%)"></i><i style="left:1178.39px;width:17.92px;background:linear-gradient(to top,#2d718e 0.2%,#26828e 2.2%,#26818e 4.2%,#228d8d 6.2%,#25848e 8.2%,#29798e 10.2%,#24878e 12.2%,#26818e 14.2%,#287c8e 16.2%,#2a788e 18.2%,#2e6f8e 20.1%,#23898e 22.1%,#277e8e 24.1%,#287c8e 26.1%,#26828e 28.1%,#26818e 30.1%,#287c8e 32.1%,#29798e 34.1%,#29798e 36.1%,#26828e 38.1%,#26828e 40.0%,#25858e 42.0%,#297a8e 44.0%,#26828e 46.0%,#26818e 48.0%,#26828e 50.0%,#277e8e 52.0%,#238a8d 54.0%,#26828e 56.0%,#218e8d 58.0%,#277e8e 60.0%,#24878e 61.9%,#277f8e 63.9%,#2e6d8e 65.9%,#277e8e 67.9%,#277f8e 69.9%,#2a778e 71.9%,#30698e 73.9%,#277f8e 75.9%,#277e8e 77.9%,#2a788e 79.9%,#2a788e 81.8%,#26828e 83.8%,#25858e 85.8%,#26828e 87.8%,#228b8d 89.8%,#20928c 91.8%,#287c8e 93.8%,#2c718e 95.8%,#2d708e 97.8%,#2e6d8e 99.8%,#2e6d8e 99.8%)"></i><i style="left:1195.71px;width:17.92px;background:linear-gradient(to top,#26818e 0.2%,#25838e 2.2%,#27808e 4.2%,#218f8d 6.2%,#25858e 8.2%,#23888e 10.2%,#25848e 12.2%,#27808e 14.2%,#2a788e 16.2%,#26818e 18.2%,#26828e 20.1%,#2e6f8e 22.1%,#26818e 24.1%,#287d8e 26.1%,#277e8e 28.1%,#26818e 30.1%,#2a768e 32.1%,#27808e 34.1%,#26818e 36.1%,#27808e 38.1%,#29798e 40.0%,#26818e 42.0%,#2d718e 44.0%,#27808e 46.0%,#27808e 48.0%,#27808e 50.0%,#277f8e 52.0%,#228d8d 54.0%,#23888e 56.0%,#26828e 58.0%,#2d718e 60.0%,#27808e 61.9%,#218e8d 63.9%,#23898e 65.9%,#297a8e 67.9%,#277f8e 69.9%,#277e8e 71.9%,#277f8e 73.9%,#26818e 75.9%,#287d8e 77.9%,#228d8d 79.9%,#23888e 81.8%,#25858e 83.8%,#24868e 85.8%,#25848e 87.8%,#25858e 89.8%,#238a8d 91.8%,#287d8e 93.8%,#2e6f8e 95.8%,#2e6f8e 97.8%,#33628d 99.8%,#33628d 99.8%)"></i><i style="left:1213.03px;width:17.92px;background:linear-gradient(to top,#297a8e 0.2%,#26828e 2.2%,#26828e 4.2%,#25838e 6.2%,#238a8d 8.2%,#218f8d 10.2%,#25838e 12.2%,#26828e 14.2%,#26828e 16.2%,#228d8d 18.2%,#238a8d 20.1%,#26828e 22.1%,#25858e 24.1%,#25858e 26.1%,#25838e 28.1%,#277e8e 30.1%,#29798e 32.1%,#24878e 34.1%,#23898e 36.1%,#2a788e 38.1%,#2b758e 40.0%,#297a8e 42.0%,#23888e 44.0%,#228b8d 46.0%,#23898e 48.0%,#24878e 50.0%,#26828e 52.0%,#2c718e 54.0%,#297b8e 56.0%,#24868e 58.0%,#24878e 60.0%,#25858e 61.9%,#25848e 63.9%,#287d8e 65.9%,#277f8e 67.9%,#26828e 69.9%,#23898e 71.9%,#25838e 73.9%,#27808e 75.9%,#287d8e 77.9%,#218e8d 79.9%,#228b8d 81.8%,#32658e 83.8%,#26818e 85.8%,#23888e 87.8%,#277e8e 89.8%,#228b8d 91.8%,#2a788e 93.8%,#2f6b8e 95.8%,#365d8d 97.8%,#38588c 99.8%,#38588c 99.8%)"></i><i style="left:1230.36px;width:17.92px;background:linear-gradient(to top,#228b8d 0.2%,#21908d 2.2%,#228c8d 4.2%,#20938c 6.2%,#218f8d 8.2%,#25848e 10.2%,#23888e 12.2%,#26818e 14.2%,#277e8e 16.2%,#25858e 18.2%,#23888e 20.1%,#25838e 22.1%,#27808e 24.1%,#26818e 26.1%,#2a768e 28.1%,#26828e 30.1%,#23888e 32.1%,#24878e 34.1%,#228d8d 36.1%,#26828e 38.1%,#287c8e 40.0%,#2a788e 42.0%,#297b8e 44.0%,#25838e 46.0%,#23888e 48.0%,#23898e 50.0%,#25838e 52.0%,#2b758e 54.0%,#23888e 56.0%,#30698e 58.0%,#287c8e 60.0%,#23898e 61.9%,#297b8e 63.9%,#25848e 65.9%,#2c718e 67.9%,#24868e 69.9%,#25858e 71.9%,#27808e 73.9%,#25848e 75.9%,#25848e 77.9%,#297a8e 79.9%,#297b8e 81.8%,#2a768e 83.8%,#2a778e 85.8%,#228c8d 87.8%,#238a8d 89.8%,#24878e 91.8%,#2a788e 93.8%,#2c718e 95.8%,#30698e 97.8%,#3b518b 99.8%,#3b518b 99.8%)"></i><i style="left:1247.68px;width:17.92px;background:linear-gradient(to top,#20928c 0.2%,#277f8e 2.2%,#238a8d 4.2%,#23888e 6.2%,#20938c 8.2%,#23898e 10.2%,#277f8e 12.2%,#27808e 14.2%,#26828e 16.2%,#25858e 18.2%,#25848e 20.1%,#23898e 22.1%,#228b8d 24.1%,#2a768e 26.1%,#277e8e 28.1%,#287d8e 30.1%,#26828e 32.1%,#27808e 34.1%,#24878e 36.1%,#2a778e 38.1%,#297b8e 40.0%,#287c8e 42.0%,#277f8e 44.0%,#2a778e 46.0%,#27808e 48.0%,#2a778e 50.0%,#26828e 52.0%,#2a778e 54.0%,#2a778e 56.0%,#297a8e 58.0%,#228b8d 60.0%,#277e8e 61.9%,#26828e 63.9%,#24868e 65.9%,#287d8e 67.9%,#25848e 69.9%,#26828e 71.9%,#277e8e 73.9%,#26828e 75.9%,#23888e 77.9%,#277e8e 79.9%,#297a8e 81.8%,#2b758e 83.8%,#277f8e 85.8%,#228b8d 87.8%,#26818e 89.8%,#26828e 91.8%,#29798e 93.8%,#2e6d8e 95.8%,#2c728e 97.8%,#365c8d 99.8%,#365c8d 99.8%)"></i><i style="left:1265.01px;width:17.92px;background:linear-gradient(to top,#23898e 0.2%,#27808e 2.2%,#20938c 4.2%,#20938c 6.2%,#26828e 8.2%,#25848e 10.2%,#25848e 12.2%,#297a8e 14.2%,#24868e 16.2%,#21908d 18.2%,#25848e 20.1%,#25838e 22.1%,#29798e 24.1%,#26818e 26.1%,#287d8e 28.1%,#26828e 30.1%,#23898e 32.1%,#26828e 34.1%,#26818e 36.1%,#228d8d 38.1%,#277f8e 40.0%,#23898e 42.0%,#277e8e 44.0%,#297a8e 46.0%,#287c8e 48.0%,#287d8e 50.0%,#238a8d 52.0%,#27808e 54.0%,#287c8e 56.0%,#287d8e 58.0%,#25838e 60.0%,#26818e 61.9%,#24878e 63.9%,#24878e 65.9%,#2c738e 67.9%,#277e8e 69.9%,#287d8e 71.9%,#287d8e 73.9%,#228b8d 75.9%,#23888e 77.9%,#287d8e 79.9%,#26828e 81.8%,#25848e 83.8%,#23898e 85.8%,#277f8e 87.8%,#277f8e 89.8%,#2a778e 91.8%,#297b8e 93.8%,#287d8e 95.8%,#2c728e 97.8%,#2f6b8e 99.8%,#2f6b8e 99.8%)"></i><i style="left:1282.33px;width:17.92px;background:linear-gradient(to top,#25858e 0.2%,#23888e 2.2%,#20928c 4.2%,#1f9f88 6.2%,#1f988b 8.2%,#24868e 10.2%,#2d708e 12.2%,#218e8d 14.2%,#24878e 16.2%,#25848e 18.2%,#25848e 20.1%,#26828e 22.1%,#26828e 24.1%,#23888e 26.1%,#24878e 28.1%,#27808e 30.1%,#26818e 32.1%,#238a8d 34.1%,#228c8d 36.1%,#23898e 38.1%,#238a8d 40.0%,#228d8d 42.0%,#25848e 44.0%,#297a8e 46.0%,#228b8d 48.0%,#297b8e 50.0%,#25858e 52.0%,#27808e 54.0%,#25848e 56.0%,#277f8e 58.0%,#25858e 60.0%,#24868e 61.9%,#25848e 63.9%,#297b8e 65.9%,#2a768e 67.9%,#2a788e 69.9%,#25858e 71.9%,#26828e 73.9%,#24868e 75.9%,#25848e 77.9%,#26818e 79.9%,#24868e 81.8%,#24868e 83.8%,#25848e 85.8%,#277e8e 87.8%,#25838e 89.8%,#2c728e 91.8%,#2c738e 93.8%,#2e6d8e 95.8%,#32648e 97.8%,#2b758e 99.8%,#2b758e 99.8%)"></i><i style="left:1299.65px;width:17.92px;background:linear-gradient(to top,#25858e 0.2%,#20938c 2.2%,#24878e 4.2%,#218f8d 6.2%,#218e8d 8.2%,#23888e 10.2%,#287c8e 12.2%,#24878e 14.2%,#277e8e 16.2%,#277e8e 18.2%,#277f8e 20.1%,#25858e 22.1%,#25858e 24.1%,#24878e 26.1%,#24868e 28.1%,#228d8d 30.1%,#297a8e 32.1%,#26818e 34.1%,#297b8e 36.1%,#228d8d 38.1%,#24868e 40.0%,#26828e 42.0%,#228b8d 44.0%,#23888e 46.0%,#25848e 48.0%,#29798e 50.0%,#2d718e 52.0%,#228c8d 54.0%,#26828e 56.0%,#2d718e 58.0%,#2b748e 60.0%,#277f8e 61.9%,#2e6e8e 63.9%,#287d8e 65.9%,#26828e 67.9%,#26828e 69.9%,#2a788e 71.9%,#23898e 73.9%,#2f6c8e 75.9%,#2b748e 77.9%,#26818e 79.9%,#297b8e 81.8%,#29798e 83.8%,#2e6e8e 85.8%,#297b8e 87.8%,#2d718e 89.8%,#297b8e 91.8%,#2a778e 93.8%,#2e6f8e 95.8%,#365c8d 97.8%,#2d718e 99.8%,#2d718e 99.8%)"></i><i style="left:1316.98px;width:17.92px;background:linear-gradient(to top,#2f6c8e 0.2%,#238a8d 2.2%,#26828e 4.2%,#23888e 6.2%,#26818e 8.2%,#25848e 10.2%,#27808e 12.2%,#26828e 14.2%,#2e6f8e 16.2%,#287c8e 18.2%,#29798e 20.1%,#2c728e 22.1%,#297a8e 24.1%,#297a8e 26.1%,#25858e 28.1%,#228b8d 30.1%,#26828e 32.1%,#23898e 34.1%,#2a788e 36.1%,#29798e 38.1%,#23898e 40.0%,#277f8e 42.0%,#277f8e 44.0%,#277f8e 46.0%,#2a778e 48.0%,#297b8e 50.0%,#26828e 52.0%,#23888e 54.0%,#277e8e 56.0%,#2d718e 58.0%,#297b8e 60.0%,#228c8d 61.9%,#287d8e 63.9%,#2b758e 65.9%,#287c8e 67.9%,#29798e 69.9%,#277f8e 71.9%,#24868e 73.9%,#26818e 75.9%,#218e8d 77.9%,#24878e 79.9%,#23898e 81.8%,#2a788e 83.8%,#2a768e 85.8%,#25838e 87.8%,#26828e 89.8%,#2d708e 91.8%,#2c718e 93.8%,#2e6d8e 95.8%,#31668e 97.8%,#34618d 99.8%,#34618d 99.8%)"></i><i style="left:1334.30px;width:17.92px;background:linear-gradient(to top,#25838e 0.2%,#20928c 2.2%,#25848e 4.2%,#24868e 6.2%,#228d8d 8.2%,#25858e 10.2%,#277f8e 12.2%,#2a778e 14.2%,#27808e 16.2%,#228d8d 18.2%,#277e8e 20.1%,#27808e 22.1%,#2a768e 24.1%,#2d708e 26.1%,#25858e 28.1%,#23888e 30.1%,#24878e 32.1%,#25838e 34.1%,#25848e 36.1%,#25858e 38.1%,#27808e 40.0%,#277e8e 42.0%,#26818e 44.0%,#24868e 46.0%,#29798e 48.0%,#297b8e 50.0%,#218f8d 52.0%,#23898e 54.0%,#238a8d 56.0%,#23888e 58.0%,#25858e 60.0%,#23898e 61.9%,#228b8d 63.9%,#2c738e 65.9%,#26828e 67.9%,#26818e 69.9%,#23888e 71.9%,#297b8e 73.9%,#23898e 75.9%,#24878e 77.9%,#26818e 79.9%,#218f8d 81.8%,#26818e 83.8%,#297a8e 85.8%,#26818e 87.8%,#277e8e 89.8%,#297a8e 91.8%,#2a788e 93.8%,#33638d 95.8%,#365c8d 97.8%,#2f6b8e 99.8%,#2f6b8e 99.8%)"></i><i style="left:1351.63px;width:17.92px;background:linear-gradient(to top,#26828e 0.2%,#228d8d 2.2%,#25838e 4.2%,#277e8e 6.2%,#24868e 8.2%,#24878e 10.2%,#24878e 12.2%,#2a778e 14.2%,#2a778e 16.2%,#27808e 18.2%,#2c718e 20.1%,#24878e 22.1%,#26828e 24.1%,#2a788e 26.1%,#238a8d 28.1%,#238a8d 30.1%,#25848e 32.1%,#26828e 34.1%,#297b8e 36.1%,#277e8e 38.1%,#25838e 40.0%,#25848e 42.0%,#26828e 44.0%,#25858e 46.0%,#228d8d 48.0%,#228c8d 50.0%,#27808e 52.0%,#228b8d 54.0%,#20928c 56.0%,#228c8d 58.0%,#23888e 60.0%,#297b8e 61.9%,#21908d 63.9%,#228b8d 65.9%,#24868e 67.9%,#228b8d 69.9%,#21918c 71.9%,#20928c 73.9%,#228d8d 75.9%,#228d8d 77.9%,#228c8d 79.9%,#20938c 81.8%,#218e8d 83.8%,#23898e 85.8%,#228b8d 87.8%,#228b8d 89.8%,#24878e 91.8%,#2c738e 93.8%,#2f6c8e 95.8%,#2d708e 97.8%,#2b748e 99.8%,#2b748e 99.8%)"></i><i style="left:1368.95px;width:17.92px;background:linear-gradient(to top,#287c8e 0.2%,#23888e 2.2%,#23898e 4.2%,#24868e 6.2%,#218f8d 8.2%,#218e8d 10.2%,#21908d 12.2%,#287c8e 14.2%,#297b8e 16.2%,#25858e 18.2%,#24878e 20.1%,#24878e 22.1%,#25858e 24.1%,#218f8d 26.1%,#238a8d 28.1%,#25848e 30.1%,#26828e 32.1%,#277e8e 34.1%,#26828e 36.1%,#24878e 38.1%,#277e8e 40.0%,#20928c 42.0%,#1e9d89 44.0%,#1fa088 46.0%,#1fa188 48.0%,#1f948c 50.0%,#21908d 52.0%,#1f998a 54.0%,#1f968b 56.0%,#20928c 58.0%,#228d8d 60.0%,#20938c 61.9%,#1f998a 63.9%,#1f968b 65.9%,#228c8d 67.9%,#1fa188 69.9%,#1fa188 71.9%,#1fa287 73.9%,#1e9d89 75.9%,#1fa287 77.9%,#23a983 79.9%,#23a983 81.8%,#22a884 83.8%,#22a785 85.8%,#20a486 87.8%,#1e9c89 89.8%,#25858e 91.8%,#297a8e 93.8%,#2e6f8e 95.8%,#2c718e 97.8%,#2d718e 99.8%,#2d718e 99.8%)"></i><i style="left:1386.28px;width:17.92px;background:linear-gradient(to top,#238a8d 0.2%,#26828e 2.2%,#25848e 4.2%,#24868e 6.2%,#24878e 8.2%,#24868e 10.2%,#228c8d 12.2%,#238a8d 14.2%,#287c8e 16.2%,#218e8d 18.2%,#26818e 20.1%,#26818e 22.1%,#27808e 24.1%,#24868e 26.1%,#24868e 28.1%,#26828e 30.1%,#228d8d 32.1%,#25838e 34.1%,#23898e 36.1%,#23898e 38.1%,#287c8e 40.0%,#1e9c89 42.0%,#1f978b 44.0%,#23a983 46.0%,#1fa287 48.0%,#1fa088 50.0%,#1fa187 52.0%,#1e9c89 54.0%,#1e9b8a 56.0%,#20a386 58.0%,#20a386 60.0%,#21a585 61.9%,#21a685 63.9%,#1e9d89 65.9%,#22a884 67.9%,#21a685 69.9%,#2db27d 71.9%,#2eb37c 73.9%,#34b679 75.9%,#37b878 77.9%,#32b67a 79.9%,#35b779 81.8%,#24aa83 83.8%,#3aba76 85.8%,#20a486 87.8%,#2eb37c 89.8%,#1f958b 91.8%,#26818e 93.8%,#2a778e 95.8%,#2c728e 97.8%,#2a778e 99.8%,#2a778e 99.8%)"></i></div>
<div style="position:absolute;left:1616px;top:58px;width:31px;height:585px;background:linear-gradient(to top,#440154,#481769,#472c7a,#423f85,#3b518b,#33628d,#2c718e,#26818e,#21908d,#1f9f88,#27ad81,#3dbc74,#5cc863,#81d34d,#aadc32,#d5e21a,#fde725)"></div>
<canvas id="spec" width="1404" height="585" style="left:125px;top:58px;width:1404px;height:585px"></canvas>
<canvas id="cbar" width="31" height="585" style="left:1616px;top:58px;width:31px;height:585px"></canvas>
<svg width="1770" height="744" viewBox="0 0 1770 744">
<rect x="126.0" y="58.0" width="1402.90" height="584.80" fill="none" stroke="#000" stroke-width="1.9" stroke-linejoin="miter"/>
<line x1="133.70" y1="642.8" x2="133.70" y2="652.00" stroke="#000" stroke-width="1.9"/>
<text x="133.70" y="683.2" text-anchor="middle" class="t">0</text>
<line x1="306.94" y1="642.8" x2="306.94" y2="652.00" stroke="#000" stroke-width="1.9"/>
<text x="306.94" y="683.2" text-anchor="middle" class="t">10</text>
<line x1="480.18" y1="642.8" x2="480.18" y2="652.00" stroke="#000" stroke-width="1.9"/>
<text x="480.18" y="683.2" text-anchor="middle" class="t">20</text>
<line x1="653.42" y1="642.8" x2="653.42" y2="652.00" stroke="#000" stroke-width="1.9"/>
<text x="653.42" y="683.2" text-anchor="middle" class="t">30</text>
<line x1="826.66" y1="642.8" x2="826.66" y2="652.00" stroke="#000" stroke-width="1.9"/>
<text x="826.66" y="683.2" text-anchor="middle" class="t">40</text>
<line x1="999.90" y1="642.8" x2="999.90" y2="652.00" stroke="#000" stroke-width="1.9"/>
<text x="999.90" y="683.2" text-anchor="middle" class="t">50</text>
<line x1="1173.14" y1="642.8" x2="1173.14" y2="652.00" stroke="#000" stroke-width="1.9"/>
<text x="1173.14" y="683.2" text-anchor="middle" class="t">60</text>
<line x1="1346.38" y1="642.8" x2="1346.38" y2="652.00" stroke="#000" stroke-width="1.9"/>
<text x="1346.38" y="683.2" text-anchor="middle" class="t">70</text>
<line x1="1519.62" y1="642.8" x2="1519.62" y2="652.00" stroke="#000" stroke-width="1.9"/>
<text x="1519.62" y="683.2" text-anchor="middle" class="t">80</text>
<line x1="116.80" y1="641.90" x2="126.0" y2="641.90" stroke="#000" stroke-width="1.9"/>
<text x="106.8" y="652.80" text-anchor="end" class="t">0</text>
<line x1="116.80" y1="569.16" x2="126.0" y2="569.16" stroke="#000" stroke-width="1.9"/>
<text x="106.8" y="580.06" text-anchor="end" class="t">25</text>
<line x1="116.80" y1="496.42" x2="126.0" y2="496.42" stroke="#000" stroke-width="1.9"/>
<text x="106.8" y="507.32" text-anchor="end" class="t">50</text>
<line x1="116.80" y1="423.69" x2="126.0" y2="423.69" stroke="#000" stroke-width="1.9"/>
<text x="106.8" y="434.59" text-anchor="end" class="t">75</text>
<line x1="116.80" y1="350.95" x2="126.0" y2="350.95" stroke="#000" stroke-width="1.9"/>
<text x="106.8" y="361.85" text-anchor="end" class="t">100</text>
<line x1="116.80" y1="278.21" x2="126.0" y2="278.21" stroke="#000" stroke-width="1.9"/>
<text x="106.8" y="289.11" text-anchor="end" class="t">125</text>
<line x1="116.80" y1="205.47" x2="126.0" y2="205.47" stroke="#000" stroke-width="1.9"/>
<text x="106.8" y="216.37" text-anchor="end" class="t">150</text>
<line x1="116.80" y1="132.74" x2="126.0" y2="132.74" stroke="#000" stroke-width="1.9"/>
<text x="106.8" y="143.64" text-anchor="end" class="t">175</text>
<line x1="116.80" y1="60.00" x2="126.0" y2="60.00" stroke="#000" stroke-width="1.9"/>
<text x="106.8" y="70.90" text-anchor="end" class="t">200</text>
<rect x="1616.2" y="58.0" width="29.80" height="584.80" fill="none" stroke="#000" stroke-width="1.9"/>
<line x1="1646.0" y1="104.00" x2="1655.20" y2="104.00" stroke="#000" stroke-width="1.9"/>
<text x="1664.1" y="115.40" class="t">+5 dB</text>
<line x1="1646.0" y1="169.19" x2="1655.20" y2="169.19" stroke="#000" stroke-width="1.9"/>
<text x="1664.1" y="180.59" class="t">+0 dB</text>
<line x1="1646.0" y1="234.38" x2="1655.20" y2="234.38" stroke="#000" stroke-width="1.9"/>
<text x="1664.1" y="245.78" class="t">-5 dB</text>
<line x1="1646.0" y1="299.56" x2="1655.20" y2="299.56" stroke="#000" stroke-width="1.9"/>
<text x="1664.1" y="310.96" class="t">-10 dB</text>
<line x1="1646.0" y1="364.75" x2="1655.20" y2="364.75" stroke="#000" stroke-width="1.9"/>
<text x="1664.1" y="376.15" class="t">-15 dB</text>
<line x1="1646.0" y1="429.94" x2="1655.20" y2="429.94" stroke="#000" stroke-width="1.9"/>
<text x="1664.1" y="441.34" class="t">-20 dB</text>
<line x1="1646.0" y1="495.12" x2="1655.20" y2="495.12" stroke="#000" stroke-width="1.9"/>
<text x="1664.1" y="506.52" class="t">-25 dB</text>
<line x1="1646.0" y1="560.31" x2="1655.20" y2="560.31" stroke="#000" stroke-width="1.9"/>
<text x="1664.1" y="571.71" class="t">-30 dB</text>
<line x1="1646.0" y1="625.50" x2="1655.20" y2="625.50" stroke="#000" stroke-width="1.9"/>
<text x="1664.1" y="636.90" class="t">-35 dB</text>
<text x="827.5" y="42.6" text-anchor="middle" class="ti">Spectrogram: right</text>
<text x="827.4" y="719.7" text-anchor="middle" class="t">Frame</text>
<text transform="translate(37.0,352.0) rotate(-90)" x="0" y="0" text-anchor="middle" class="t">Frequency Bin</text>
</svg>
<script>
(function(){
var L="44015444025645045745055946075a46085c460a5d460b5e470d60470e6147106347116447136548146748166848176948186a481a6c481b6d481c6e481d6f481f70482071482173482374482475482576482677482878482979472a7a472c7a472d7b472e7c472f7d46307e46327e46337f463480453581453781453882443983443a83443b84433d84433e85423f854240864241864142874144874045884046883f47883f48893e49893e4a893e4c8a3d4d8a3d4e8a3c4f8a3c508b3b518b3b528b3a538b3a548c39558c39568c38588c38598c375a8c375b8d365c8d365d8d355e8d355f8d34608d34618d33628d33638d32648e32658e31668e31678e31688e30698e306a8e2f6b8e2f6c8e2e6d8e2e6e8e2e6f8e2d708e2d718e2c718e2c728e2c738e2b748e2b758e2a768e2a778e2a788e29798e297a8e297b8e287c8e287d8e277e8e277f8e27808e26818e26828e26828e25838e25848e25858e24868e24878e23888e23898e238a8d228b8d228c8d228d8d218e8d218f8d21908d21918c20928c20928c20938c1f948c1f958b1f968b1f978b1f988b1f998a1f9a8a1e9b8a1e9c891e9d891f9e891f9f881fa0881fa1881fa1871fa28720a38620a48621a58521a68522a78522a88423a98324aa8325ab8225ac8226ad8127ad8128ae8029af7f2ab07f2cb17e2db27d2eb37c2fb47c31b57b32b67a34b67935b77937b87838b9773aba763bbb753dbc743fbc7340bd7242be7144bf7046c06f48c16e4ac16d4cc26c4ec36b50c46a52c56954c56856c66758c7655ac8645cc8635ec96260ca6063cb5f65cb5e67cc5c69cd5b6ccd5a6ece5870cf5773d05675d05477d1537ad1517cd2507fd34e81d34d84d44b86d54989d5488bd6468ed64590d74393d74195d84098d83e9bd93c9dd93ba0da39a2da37a5db36a8db34aadc32addc30b0dd2fb2dd2db5de2bb8de29bade28bddf26c0df25c2df23c5e021c8e020cae11fcde11dd0e11cd2e21bd5e21ad8e219dae319dde318dfe318e2e418e5e419e7e419eae51aece51befe51cf1e51df4e61ef6e620f8e621fbe723fde725";
var lut=[];for(var i=0;i<256;i++){lut.push([parseInt(L.substr(i*6,2),16),parseInt(L.substr(i*6+2,2),16),parseInt(L.substr(i*6+4,2),16)]);}
var A="ABCDEFGHIJKLMNOPQRSTUVWXYZabcdefghijklmnopqrstuvwxyz0123456789+/";var idx={};for(var i=0;i<64;i++)idx[A.charAt(i)]=i;
var S="fShifNd6aQbZS2O8XfZLXodwcnbedkb7bEfQcKfGhjWsjooYsUqJpNpmoFrVqbnVqZqdpXpLnpnoqHtCr6qCkRnXfLf3fFd2f7o0oVjyhhgAlfd2kjjRjLg0hLe3c8dwWoT5XqZmWEb6dOekgeeZZPc1Ttcie6cGgHZ+hvgMYDbYb3U0XzbtacWbbFa3Xpc0dTeNf/Trd5d5eHiDxtydvbwbxVtqyiwhxKxYwqwQyBxBs8sJzCzZxmspvkn0kMXbZRfPsntflSjrfrkdjTkGgkikhlemenc2ekZZZidXbLW3cFaje4hxeAdncPTbcqcXaYe4V7ewfMeLeLZ3YsWmZ1XtXDWdbOY+ZqfCgCg3drfBXDjXpp4l4O1Y2+3szR513E5z4W5R3d5E382R5D5i5Q2jzY1ZwQoafQfjhM0GzCpymTlwioktjpgKghhHXqgDckfpcKc/flbPawbiPNePe1d4ekfTd8c0YfaHX4abeidLfnayatUma5eqfvgteEVydNbqcUfNfHUof4fBiMqL4k3j4Szx4j226J5H4g2y5F2e5l2z2G3k5A3i07zPzKwzongfVqgX0bzxsCiTkZlvl3dAkigtgIdcgpZKd7ZPchbUbybQYBergGbFgFR4hEhic8ZWeXXOZIhihKb0bMf1fldciig5gwfgepczgIaNf3YNdpcYcScyoC4x4U3p1j5m3Q5l4fwI3B3a3d5b4h1G4m4d1i2B1M1TsfmJiDgNbQz/zItPkYproMlaf4j7d5fCedYfUAfabpZ8WvawZTbyemhtVxaJeriLhHiCfiYxcvcwb6d6eXeAh/fYeJgIXaa2fZb0ZHg4V0gAakgcbwSfd3pM2W4/4C3G6S4d3p452h3K3E5J442M1C4J4d1F1h1y2uy0ksgCeeYyzCxTqqpDnomGkqj/jhfzg/XDc+X9gUc6cIcQdQf7gWbkfga5adc7h6Z3jYiUgMd0dxaOW5eOf6evauekeNgKbtgPaZa7embCere3ducAc1eEpV5g5M6J6b6S5U3n393R5/4Y5d4d4m362I3a2c2R1T3Oxyk7hhc3Zp0EyqtepukPn0lBj0TZfIeedugpa9gjd+dId/d8fQfecnfqdSaCesdHbTgwflePcwdsbSeDcthweackeRdph+d/dsdpePcbZBdFcXYPfIimhwkw7t5o7s8u8y5O6f6n4w7e6D616B424t48352c2T1T13tfhyhpdYfB2s0ft5n0qMqdnohhjphjdqkJhXgGhQVhdCVLcobNfIfefWZPbofjb8YnZedrfIgxfhLzaiczezcjcxboN8gceYcNdFhAaVfBgTaHdhfxiMeCqd6I6R7+9M9s9I8V7o7S6E6l7P5C4B4B6U333Y382XzxwVl6ggenWD2615wFs5q7rdo3cUjFkMjQkeandtfrZcT2T+avZhWabYfEh9jledUde8czakZsbwgHdha1WScddaddaIWgdzeIbAYLg1cPc8fha/cnehd8e1qp658V+r788d8l609A+J8X+G9P9R6B6e6L1E3C2ozk1Bv9k6jWiejH464Fy3sOmUm3lDjWmVhrcbgMgAayaMZ7eKYGdFcQWeXzdFjRk+jafAY1WYcWeGdUfGaoZvagTFYZbAWnVuaNabgBYiexe7WxdtbLYwbwbYcRnf7j85//7O//+K8S+S+K/O/j9F+P7h8C504c4D0q1p1tvVmXjziLkb6K5k0nrpmkfNidkclggYjqjNgofRd7ctd0X0ZRbha8cNeMcQgblfiuhIdlbbf/Wad4RMZGbwXddpfieZc+bAfbguaPX1edgXeafBZLcbeAa5oJ5b+rzf+x//+H8k4y9d31/8+h9b7X8M5g3U3e00171KtEl4hzaDkC1u22yQlql7hxlUkjiZeykak9dRcZeHXJcydyaDc7a9a9gpYChvlVhkg0btT5cHdagdchfmabTPexghgbeXeqeFeTc0Ved0haVVebc0cXWZX7e77X//+n9h/N/i/r8O9u/////e9G8f8A4SzK3M1F2j01qdfPaVXwjN2yzPurqsnLfJlfi1jAjEcvire1f5d6c0eLdBaFgNg3e3kVbTgRfea8diQ3csdMeSfsT8hheBbPbqZrbZZjgWXhdTe/XOV5gBa1WJYTUFe5aznU5J/8//+4+U+W/J+U+C///o+p519N5uyY2a1pyi0HyMqafjf4YLew2TzItzm1kDb6hrjOnQlFVzgad2eLYxhTcJXUbQhHh+f4eAhmg8gtazW5daY6eAd9bDXYdhbregabandEaNfVbQaxbxYLcvemdQaCdNXjf1e3pM7m9z///P+N5+9W/////s///W5l873M201g0CxDxhv3ozjdizhefe3D1CrMoHlDlcjjkUlyjmO+hgavfPhVgdWJd6dcfRf5ZThSkQhUkMftbJhUdfbjeEdCduYobqa/WGaoghdReXeEQ9bsdDdwbFcubEdyeqZrgbnx8k5m81/9/38/9X///1+4///h5a8V6q391Kzmw/xRwJoYXwgZgnhO0izmkEkDm3ogl2iJi4jFclg/V+eXexc7cZiIf8cSchhNfNiGasiKemXxfqgjghgsgJiGepc6bkaXXsbvZQc6afQoa6d0b7fGhgcabzh5dHgHf158437h90//+9+A9d+C9d/U7w8a7t6a3Z2b0NtWuPjznCgqd3ZvaAzZ0Fk2nun3lQk0lYkFhje5iJcTbpZFgMekfzfZcmfiiZfWgodhiLffcyY9eAgfdkgoiNhVXDc2aUcUd/etckZ6bidXdhgOfwd3eIbVgAebjJmkvt5D7m5O9x/H+K8p/m5R8e5V6p564Z1y0xy5uPumuDq9lIbib5gj10yfoWpBohlCkElyi6kEi/kih5eBcWfnbOZneJdlaUcpfNfqZqgwZLcJfvXxdxa3eseZeuf5ita4Zoc4hQe+YycwdnbaYScqZ5gPdFZQiMlapf4m3i6N5k6M+L9r7Y+C7r36105C5e3XyjzCxZqnpYuHqklkfvbcf+1ezbqOmamSoAnBiZmJlsiBjxh6exZZd+XwVQWaalbFd0fXbtbpfghrdydNZlgPauYvaRgsgsgiePapRmc1g3YvegdfbGgZeoXmgHg5cxh4lSqc2+z74P2d669/+v9x7Z8O6/65554H1n0y170kwGr1s4obiCcjX6g20lzRrqmAmMo9m8otmChbkzkegDdccvdTUucWf/ZWgjf7dNd2YvgThrUwbnduexcNcfdiT2dwY4dZelfzcQZLffhYc3bGgjeueBePiFgAhNiLpazGzt1U1/4Z+K+v+O74416d6I4B1cyf1U1ZzlucqnqKigcJc7a/gR1XtWrUijlooOnFpEm/lplmk3gabQg/gpaeW1fzcUgzg0aWg4c0d1dEfEddc7eVhQgehLc1ezgrcPfAg4hsgug/fZePUgc9gUfbb/gtgTe7eKjhzTzaz12i4W8L84846m5y4p1d1c140T0S0ZxtvMsVrMidhifdhog7zYtdqwj8k+mxi0nIl0hykpkKhFdne8edfteOZ7Y1dXf+W4f1emVsYIc+cfd8fQh/epeFZcZ6eecTdydahJhJe4MVaOZwbhUjcpd9eMcNfHg1iAxpsn0O0w335a8A8a6H562z1+zy0Dzq0MzRwTvrrzpshbhNcjiJf+x4ufswpto1ocnhkvh5cVcch2iedobMcNdcecVyY8dCdNeEbre/WHa5cGeLfugpZ1gyZ3agfndbfxfNeEb5b4dGdNdddWgIhJePePfpcfeyfaeox40y17zQ3I4j7l8E515H3c09wo0FzZ0JylvWtrrAdqZDgFemgfhd0PxvruoYnjoZl9l+hofDgvfPhNbfbHW+b+VqXTbxetc+gRdWdFVWcoeYbqbrajdUWRapgHf2dFgAffcOYZaoatffhodGc3gqXKX8cUdPdKX5jP0Y1V1p1tws3w5k6B3a0d1fyTx00JwrypxnrhoAoXidjAhsh5hSda0ayahLk/lvnbiFalhed4bwbqbTflfEf2eacuWYf8aYX2dpcSeoWlWITjPodKgCfIfPZAe/bXTpaseoe4eHa7bAerg9c5fKezdwc0YWZaeZaKfu5K3N2D2pyx17151P0l1W0gyQxtyxwQt5txrLvCnvqsjfhyhVi7cAzrygjBoImFikocmEl0i1iDfkQYh4drepWoVFdWdpazcPYBYiXvbgeFZubKfMiBhkTEbChLgBfOcJbOdSeteyerdTd1gHfycydfaOZfchc0beeg4u5N2Q0Hy4z133451C1N1azpwWvWyixIuQsIvPrfpAfthSdEiahOysxlmGpSl5ksp6lQk0jJiGdGfWiNdicpVTfZeiejefdZeeWmYcZPTDcRcAdWfIfgYOdmgRgOcQZVZkROcwe5buf/dFgXcWezeghHYKS9Y8jgkE7f4Q4e1y1jzu3m34zv0z13zlxhwuyPyQyGs8uXrVlyX9hWcybnfwzyxhn2iPngnnpNdgiglTktgVgPflbnYCbqfjc+dGcLYUZRUubXhShSftbkVcZGekg9fcafWRS3ULepZFd8XWaoe4enf9fdZHengPateMchjikO7w746B4F0r1g2s3X0pwn1tylzNzOwPvlxpq6p1lJlAYdglePgkcjzawLq6oXf0ploti6kbnglah2atXEcKbeezcGZGV8bhaodMeqZRhNgiedZTb4aOf1hVdsb4OdWuUVYxWncYddZucVZ8fBeyYZV3bVeCbSZVgneG5U8A7D5C0s0M0V2izR1O2yzywVzBvIxAtMrepaodhVfdf+chhrkH3DzTp1oxj3nXmQeMmgnVkwhadId3bLbudXW6YGZ8aJclWreAYPfZdOZcSgY3Rqe1b7YjWtclcWXieOdmXueCcEd/ZZbvcpbqZpdEeVa6dtfSeX4U6G9H7K441Z2l1Y1G1m3V0xxexFvowTqxsXrPmloDjgj2WZaugc1qtRsbphnSkfjxkwoqlMiqcugbakc+W8X7ZlbqcCadeVcEbyePdWbGU3ZCXLcMUjUddgbLbsgMfBeBeyVicBaEbAbveqhha1bfe9fFardehoeU5M35948T6J4G05wUz9xK2Cw5vmv4tculvDrrrAqFpAeRgAf4f1gLzL0Kr2nopMmjgWhOmZhFkMfJg/eyhpbjdIcvbSdyYcc1YFfTeqdCb5YVa5ZsarY3dKcScheWeWfkbrTtgccmZOY5dle8iUcKbqfJZgYDaghWfV03449q8E6G4N0WzYvKzExDzUwiySw8vJwIqsnFncnacigjgIgRgqyQzur3kbnGmApWlglql3f/iqfYgNhkbwd4e+ZVYMW0bhZeegdxgydHWkaRa2aYT0gjdUasfKcIbsbGbph7ZtX4akeleUcKY+bTbqglcQa8dohDx04Z7l7B588s3/ySxZzE0SzLyIzKwNxCwptTpepWfjgye7djb1b+u7x7qzp+mAnpqOlumJlZj/jVeLa9aIZSeXbeVjaEbEcdapa8aOeNbeW1cyX7XMfSgQd+eNfQcHS1dcbOftfTdmb3ZbgAhTd/dPVoeUelXyZccfsn3G5z68999j5m3i0C0Y0bypx4ySykxbwVurqsrZlHcNcNfkgxgVxkw8lPqGhPmJktlHksjWkHhSdseOYvYXdtdQbOZrZpZlfDbGbAbiLCZnfkZ5Z8hsfuaPcse/a6eKYyYkc0idcbeHctelhUfIXeaVc5hHftfxhApM0c3w646g7x6g5o1n1Zy80xxMviwSuPwBtjpKrBmwjDf9dfctfqyhwFlWninZm5pKnej6fshie/Z0WYdwbTZcWQZCeFWUV7aLcohHd/YTb2ggbsdSc6hVaLZYd5bpfWgpgSf6gDXZcLaCdfebdUYob5fLfzjSi3kDrBvr2R4T7S819I9k4Ty91K0+xXspwdwDvJnwqcvunnn6jVX0XNeh0Kz4qXg6oXndm3l8loiHnEjjXGdgcZS4btYXaRbXcqfzXretiqfQbIaDfNc1WTbFgOZAfNe0gIf6g9hHZjbScnaWXldHdHaOetYVdxd0jxi3jnmfmt023m6X979k9L7a2tw5zpyXwKx5tZvTvgs7vrnaofgvcLf2T61k2Wugm+nbocjQm2c9ktmUiOdCeJZsexfmaUcIS5efg/cse8gRZ2enasehdBf3fsdzSQf7f1dudEgneLekfyfgZbfoXhbAhkideEc9dmhqepgihpkVxPzz5v7Z+x9V956s1Y1Wz7vuypz9yKxCs8ujlOnSeig4eaZH4s3FwFpVfRnFlEm+iRkLlEjOWSdjaugfdpejdrTOcJgcg+crW6c/eCbbduZZfagPeUaCd8dFcoZef8fQgIgwgAcugacjeThWhVfJQEeOgoiQgyj/l3rft9331991/a+28T201RyU0A0SzVwAwFq+tNj7pQjOa0ccZe5X4GzGrRqMp6qDo4knkpnempgWepfvb/ZxeiZ3WSbBfbe7Z5ZxZwbQXkayWKZYdHYqeIdxa0dabOYVaccsY2cscoYkceeLfdeCgEgGgCdsjcesi5k4l8tt1V3z70/0++896gvN0k0/0t0Fz+sZswtkoxr9lmc/bccp5f53zrperNj5qerMiXi6mcknh1hcl4gUb3bhaSV4cfdKZ+axgmZbahW7aPWYcuT3hefkdxRQfGcBd4aWT3bFbBdMfmcqc6Y5V9didvdmdjjZgXfsgmlwpnub2S6C9Z+q9e6J3i2p3T2P0E0iw+vUwhtqpslzg8aveI6y41yRkSpTmxp5nLnOmTi/dhhlVvkKdbYMUHcDV+dEdgdGdfcddEaVaxQORyfFbnfQdobCZ1cCddf+f8a1eecFa2gVeZdKXkYwc5Z+c2dZgXgofqfToTuMtizD0d4A9I+O9w453B3uyl0hx8w+utvPtJonkUdIe+c67T4luWk1mUliiansn8mvdZi2hEeRb1fvcBameOeVbpePdlgSfmf0bgaDeEeyd1ZmgXZ2dBdNUTaYdJfVZvfBcbaagAf/cYcpc/VXabONbvgRiZfoeMmDuSrxx00E0c85+e946k3k2I1J2RvHu/pvuTrWnEkxhQeCeJ5n4MwprNmzn+pGpIovkuj0iyhZb9eng8Z5a2etfJRxd3cqfWczb1dVXYaze6cjb6fEcQf0hHbpZNV0fFeleRfceyd4craPergMemdldzihj1ksf7eebDtGuTx3ub3g62+M8r8W540R0G2UxQuAlfvpsmf0hHgpaufZ5E16v6rcnpn3ljo1ngl9kGc8iyfYd1cMZDaIbFbMWLcEbecydmaNdwXhbedwgIcud7WeeGgygnZUbCesdIcZeZfDaZaMbMfDiSgebjcSjUiFgEbjhWear/u5xevC2R5c95+v8x7Xy7xE2MvhsYoLocqRgyfhdmc9eq461NuUpongl5nFjsnzjzifmRgsesaAYocSfoa9d+VOaZdacGXsYrcHbNb/ZTfZdvbGWffFcdZibWfkdkdAZfXkSYZkbvZcVzfCdBa8Y7i3jzcuVSiGiumJtZvVzx1a2G6c9m867g1mzYyVuwqxuErGm2gtc8hLhJh43g2ts0o+lrnjqmqtpdk8lcmmiIeYP2Z5fVhGf+e1aDaKcWeGaMegdPWXY4cGUYZaXJZ1fje0cndCf2ccVibWXDbqf8fef2bgcHXsbnbygLjwhGaWihmYt6tHvDz91Nzx105w8m7P3h0c0awiuvvJm1m8iVf7hWjSiH1g3buKoopOrQqJsxo6eQjMigdMcPZHeoeTbpenfGbLYoT0eeXscfc5V0R7eHcmazY0hFhmelZ7g0excSY/dNbhdJd1dse8cRYCZldFZzTGgRhmfPiBm+rlpvwUyO0TyXzl5Y7K5yzx0l1RtjwZwEqUpJmOkIhJhChhzs2puUphnrqJr6sGoalrjRjpancTXcdLWddJaBaRbofmWfdDWPZicBcZcSc/byahdAh3hrgDZacGaRa6dMaRaca3cRTsayeeducPfKhAfsfViVgjggjyr9r7tQx10qyu0Q4L6Q3p2WxBz9tkuzwztYlIgYf5eUZ0dc0eywtHpNqoupvisfnZmQlUkObfeIc9ejeTZSaoZzfXeIc0gAcHXWdbdlcKb8gNgkd/focJeWdkeVdsbmeRboVpbOaTaSSGfTcgakdXhqjEb8haS1e1k6sGrwu6yV0UzC0M2O4L2g17xSxutGwQxTt3m2hFghgogVYN1dzAs3r7vTwLvTsUrno4j5j2dviIW1f2gBXGbuTPbWdRd2fyaycmeBZvWUW4gNdPe0Z3dHcmbshChdgTg6gCaSf2XhcbUpcLezcWdJfsiufOdNgCnHqetkrvvsyc0U0V1c0m1M2S15yXt0vxvtwsupoSgCjbipedfmz3zet7unwAvdpwsjrcm0bPgMZhcsbvf4azZzSNZDZgcYeVZ3Zyckd9ZOWkY+frgMgwc6fJX0dyeuhjc6ghedfNhSZ/UWdpRKfTgkdYbPd9dme7hDo1n8uzsk0G102B1X1X1Czt082l1yz2vNxOuntdmQbigTeBcCexxezCtRtQu8rtqxo5rqmBkGeageeRefX8ddbDcjcKcWZXcPWacadMZvY6KGW1gQf+e9XHb7bweZZOefdNf7fHg4gfZxgcg7Y0aoc2bfbZeDaaiUiulvq4tgwG2J3sybzy0j2Z0w181a1v1Dyd0Bwgp9mch5aEdebrdRy6xSwMuCrWsltYpkn9oJg/erhzhJh7gmhhbCb1bAbCfAT9X8eAg3b7YxaXcPfhZqYqeAdNeZebfKb1c9gQgRdrZSbOfSerdVhudXbYV3fLd6kSi0kitOwix52K3I2h223Z3gzp2x4C1E2gxtzJxatJpkjjdqfOZvaIy1zcxtutsuuguht3oOnafEcjbackhEjOiqcwcgb4aKeTX1XFbpgtfce2cbdKefZ+dMa3crdXfxdEeVfVbiW8dgaZchZgaGdckyh3aWbLeOgHffdGqHwRxtw+1Z3T3E4T3/223I5X5q2d4IyLxcwHrio2j6d5enYbKrtTzOwAs2ukuSqxsbrAoQiqf/hXe9iLfCg9eYcAenYNcKPybEYzeqevcWc+fYfJfTeXXOgVfydHZ1aZgCa7bxcifyeEUMc+VqjUjAZvfsfxkPiLlrq1wIwlxZ254e5p6b5i37284t2n364Fw1wjxOtalAipcWd6dyZwy70yxmvMt0uwr3tbsWpqkyf4dkXfducrf6fXbxd9eKfmbudte4dIaGcbbdeNdegfa4czgffiZ+daZehsb5fYaKdLaTdiU6YffwhnYFiJh8jLhyhYo3rnwhy/2v565+4s4g5Q0u0j5v4z3swYuGxErhoagZbPeEfdbpxf03x4oStiusutvUtJpCkihKhDhKdHdkgdfpSwQDbFbeYUcqaxdAYNdVfKdOdKYpXLhDiAa8eNdmeqf+fnfpZqaudcgpaLZ4f3cSYQfthhc2XXm3tZucu4ygyi5W5x4G425r3Y4v4G4w2kwNtwuIqhidXuc4dldQZW0kztwvtwu1wtvIvMm9nOlzjpjRiug7e4d/esWDcSbJZ4dlZbW4badoc2eCfcfTdIeOhafHd0e4aXe7edeSaebgZIdZdOcSXMexSbQqZsbginUxnCuFu4vdv/2g5Q593+5/5/4p3Y2b4/2kvatZrMrWm1a1ZddUb1cD1Wyau3s+tKv4vVsDn4jxi5hOfuf2fVhCeOc0cIdFcwLXcmZnboZUgFffaMfNc4cogFhJb4djf+bhb2fYcJbXdebadVZGdpchhHaLZQb7Whg5eZnWsIimyly41L5a5P4b6B6e4Q5a3k4t1hwAsstmq7hIeaY/YyaEah2r0PyYxnqdsDwcvIqhoIfca8eycGevepgpgAW8coc9cKTwd0ZcZyfbb1gPeyafSLeJgPbWd6flYwd7cGYAY+fNgBeKc2fmdpfObVdqcYTGbndZekr3tnw1yJ2T250C3J3e4e1a3+2x3g01w5u4q9qAhpecXkZPb1Uy1nzGxuw5qYo4vnvdoeiQdNdjd1iGiqbpaXcWarW2b5fMcLanfJcbfXf0hVecbncBgecXYUfyZsbtdEaxYRbjfdhWfyfbhyeFZhdzfUfBaLe8aCl0rCsesQvhySzUy80hws030cz+2C2Vz1tuvTrdnujje0dac4bSMm1V0BwQt/pusXu4tvr8pcgDaxd3hIf7dxhUc2cgbfaVbMeVbngFeRcje1OkWsdBdffneAdAe9ViZxYSddcIZDfrgcfSbThvgjcZgVdqfDbcfkeHjXo2lmj2o9x8xMzYzqwutWyS0r1uz3xJqmresnpHoXfcdZfNccUryYyMxdtzpDucvCtytDrPe9j1hoasb5c9g9gWa+boY4aLdscQebdPcHYnfWePb+dZdkcmbibPfJZBbkf+hphEiAgicUbUfxdfbmhvfjcVcUaZYdgvi+VpjPpQxmyNyfypydzUzeyTz8xVtYpxpLqPrWoRWiZzbhdoczwCylxCsqsLrhumvatls9h/lZiqgkeddTgJhKfAbCZeauaYbFeObcaNYvepfEZ2grhgY2efbliAfCcyeHiwf5fNa7b7XrcVb6c8iEfYZIeecAV3cmdWeVmDqGw+watbvuxpzGwfw1t8wMoAmrp0plovj7dvY0WidBfUxzy/tanltAvIvNuLuHscoUlugdc6aYfQeLZWZKZhSlWPexcbbGbvXZbva6aPZkfLg6ZMeKf3iMfDfzaSgZakelbNdLV8bfdHVdcja1cXeEdYhrfnhogBmapfuswrwztSwvwkuawhtwtenjlrsSqFmsoBfhUIV0bpW2y5yCn2oZuDuxr1sFpxtbpikPh2e2c+XuY1ZJXsXWaRZfeHebdGXlVUfieic/enfqZ7Yxb2hoiucnaGfGfSclcQIxcjdAYQWJehRDbDf8c4hqihiMikhxjfkutQvMyKyZwhxCrnrIxUvEsxrKqPq3p8oTg7Woehd3a/zvsKtGpetarNritHkzu0n2hKd2fpcjcRdOb+eBahZcdvaJbrcxbaaAewfMf2bdexa2cecSf3fsc3ethAefdkOJbYeWczUza1d3aiMZe/ZIjEg7gXephcf/pZt8zMxZxzvXv3tmpNxOwvvFuntZqfnPkHdUcpfub0ZQ3k0ctttvtKseqXo1qWr4jXfggcUSbzdoaMbYeAQOade/R1ZxdXergYdjWpckR5Z/cxbFZ1clbOdDbufaakccZuWEW0albxaQbGeTcscycqiUf5cpcNd4hDpntu0ByJv7vwt+wbtVvMxmvPt2uot9n8iMfAa+cKViTv6J3tuMqsohsWoQtttmspnOiNisYPeTaxfMX6c6bRedcmeWbGbdgmfqeJblU1Xzb6Y9N8acbdWwd2auc0YEXnbobibgV8ZobhcHeyb/ZqdihucsfTiAdJaEpMnaymwkzwzQxIxhwfsjyKwcuUtVt1o4ggcRUEZqbYcb5Q1/vcrSqCrCr8s5u2toopfHfLc4cicGgdcXZwamf4fvhQblYVgfbEdPciZ8btbVXfX0ebcGaogkd+XDTcUmZFcZb+b1XcbdZ9bzY6aXdcf6aWluoIh0hYr8sxx+yFzzzxzaxMxlxWyHvEsHt7s4kglSglX0Xhc9dU6X3Ow9rWlanusNskuKr7lARgdZdahHd2bTcYeackdadofyd6dGfiZrZCP1arW8gJajbXf9bmbZfobqWLZqWSZsZxSXa2cBa1YdbeXfZzcmgvd2okqwnWmXuUvHx5v6x9w1zgymx5tXtJvKqtuGq7iykBhfZyaCarYZ5v3bv3r7qnofmAnZriochgeJhkgihXZQduYObYajYLcpfMf3dZfTZDYkehaecRgdUBYaekbcbUcPb9U6WuY6ZSTpacO4dmanZ4ega6UCQshIgSlwoUpEpou1v/tuxVyGuNzGz9yNzTyrt0vmt5ogjjgdaPVkVkYCdovF1ZvVtDpMmcs0rao5sClog3fDeucBfIg0eXc2SFacfwfEfMc4fCbMaMfqave2b8ajb8YTeWc0bLbgXmUhUeYaXveHddbdXLZrb1aiYEZhb5VIo8thuEtsx4wrq3v/wwulx7zgxxyOyVxPwishplhdcvdeblW9XNaz4G04t6uSpvpPtRtEqapyi+dYYIfDhQg4gLYhc+TXbHd4aeU2LtWsaYYJcvZscbeEaUc8a2flc5c+Y9YCY+Z/Q8X4b/crb8cpaFZnZRY1aSZ4dqs7wPvTwizZxrtZwxw3u8wWxBt2wuw6xRvnt4sFh8gxgpb8a5ZIQJ3w15wzvXtDt7tQs+spqqjxdYY5WVgJgzerUzddc2Z+XjZKdwdmdKfOY3dCYre3goXdYBafVTaEWoazdabVW4a4bxYIaoaudwb5RyUKW7bma4g/qSwcyNzQziz4xB0S1BzeuZyk0G0huPwLv5u1q/keh8fPdKdhZ/bq6e4HxkvBsyuht4odt7qgleYtefeEbSfmd7eQbCcidNaSboYffiffhackeDahbGf+ZpX9b+dubYb7dUe7dZdKarOmU1bKXocNb5axZRcabvY0hDtwyNxHz3ydz+1C0U0/y5zcyk1O1txyxZvArnjYhLfraieBalXyeD9L49vOtJtruBu/oEuFaylwfhflb1Y0dwa9fVZhfVeQSUf1WkhHfigLdse+fdfHcSYkcTVYcYbLfmdec0bva3U3cea+chYrYvZXZKZ/blboZinOyLwvwc0bzUwj2d2H0C0gx31P1L1RxMw+s5psn1e3XWXMdeavbfew+55Drqq9rFs1uipJrimliyh6hAchftgTe+b+cscmZqZsdqdahFeZfEY8YtcTd2WiZ0a2U/cadDcvZgbHZraaUycCZmUmY8Wwd/XAdZX8aLUApd0szdzf0k1l193H3E2S2C3C253gyqyTvzreq8pSfRS3cydzeSfPfL/w44xgm5sBs8sdqiqcf/cBjtiaeQgmgVbwcXd0YzQUaFckcidjd3d7e4ffcsTkWBYAYfWDeadTUTY2TTThXZW1WtVFafZ5ZogLcTdAaPSaZcmwz7z70cz71U4S2W5F4y2O5f435n3q0huuozpenRhGd+b6d6eadadq+p6SzFoDtAuSq2jsqHjojZk4jPeVejWTgNgTglbPZqV0aYO4aba2aWfUcneXXkY7ZddSc+b7YUYva3aGXKYITGaYbbZlSteWf8YpdcX/Yzbui6y7z/zgyu2h4W3u4r4C0/4z5G56260ptFn1p+ntfpevZVa3bIbrf4/n8AytpPrlvCsotqsdnwjohDi2dkdYcGdic2eycxajTrULaKaffpa9cqRZd9a1gzZtcrchYEZpYHYSYBbyatYEZNcoeAb+eTefaYd3ambvdkjywEyhz/zv2X2x3S2H2w3R3a286R2+0LtXq5lCeLeacIZ5VkdoeogC//9Hx+sZsZt0uRuNp7nKgzh7gocHefcba3eDdzdredZyZxZKUifjdsesbyXHebe/XtZJZkbWcrVyc3MsY7WmcDYWZ3eGaWZicydYb9bGYcZ7mfvnwcy9zXxuxR0U2Q4W4s5F2Y5931xerxnooEl1iDcLcBcPecYBdM+38Mxhsrtwpsuuq4tUozhwcsiWiZYhekbkendoZGbDYZVzdseBckd4cKbtdif4eyVAZsbnbjckWQbXXCV+VOa4Z8ZNdTdUbdb2cCXmZCYPfHkXq9x4wBy1z00X0S1R2t4N5M5r5d3ZvPm5p9o5lEbIZyZLcMZCbYY3+Z7yvzq+s6uCr/rbvLsSkEjljJkecbdCa6UJUoZXfVavaUethBZ7V3ZbcrfXgoifccZ6dAapc/aJUoWOYibVbGeCXacffHa2ZQb+YbXxa0hWiUuAxetvxvzRyNzDxt101q3O5P3+1pqxq9qJpHjrRmVQTQXIYgcqYb9h8prbsLs9u3pqsQuftBlSllfuhid0fCflXucPeLbMczZyYAfPf1brbqYJaPfnlxcFTkbuZkc6bkc+TjYFcGcjZHYNWFcbX5aRZkZ+bYbxblc5pSwvtNrDyKxeunwb08042C2WwkxqwwssoMnQiseQcdZBV4YUS5Yx8T79wFurtWs7r8s9pNsMo5lEaCWCf2dDeQfccNeeZSYQa3Zgdjg1cnUoWvdNkenla3X0SfV4bmdAclF6WUdDeLbRYCa2VddMb5WuR7dGXDfYjqpvrBt8uvvVyFtqucyRxRz02Q1k0ExGsMrNnyg9elf8cKcocHXHbV7w2/wrsTvEuGtVsBtkq2nuhJT9YChHaQZebxcTXsXebYabd3cwZqbDZRUzcgkYl4YmWBbMacbMd9TQbqW4dPc2budMZwXceXgLYzUObeXGhLlao7pXq4ubtlwfw8vZuYwRwixKzsxCu6q6pZh7c3eJe5ZAaMbDb0dC9U49yal8unsQrBthtBsSYbSAdQeya5dgd2ZmaPZaWleYakesU0eogcb+cJYzd9gcg2eAXsUHadbCabeMVgdYZdWVdaaRWRYagLWSZGYnXJebi+mJovmDsfvVwfxKvfvvuVxtxuszrvuIsxvQn3ghd6azaaa3XUbteJ8Z3xyKvftqtovAuvnzmejIdihTihf9etbzdfdGWeT4eHRXambqbehDeeeBdYjxesgTd6d8c0bNONdHc2XiZ9eYdUU7YMZgbJdEX8bMcOXgfmf6dzjBnZsuuvsQssr6t3t6tduMsAiDu8tZvOnccDb2a0c2cycbbldD6v3fx9vnxLsju1syoOpPirfJhfiliVXrfpiCh5b+ZUhDckZwUwcJeZbve9Zni3etZLYZatcVXHYubcarZ4X8b0doZ/ZAZgbgYbbHYuXXU4ebeQjgnSo6sBr9qiqhqnr5sypOp/svtDsCnzrXlqYQd4fGf+d+cWX6cq5W3mxtvnwJtrsOueqWq1nxhyhYemhoeRhWgYhTWLa3gieSaqcdaoeXdMg5cre/khd2aKYnWfV4Z7WtYVbycDXrXtWCZnYRVqY/aVT5XFWqgPcVgWmJnUplsSoImsrTrgm8s0sHq8uVuCqFrznPTGd4fsfsbha0aBSS6k2OzltIvcuHusuVn2oak5jdf2c7eJeTgVZkfUZnWLelc4VWWXYzfgc1dsZTkYn3dSVNYqTEc6d3b4X9c8Z2ZRZ/dEbsdRcdZrIbSXPjXniDbJbSgfmjjum+l/nPpmp6ospbpWqUrntVtxrvied+aDfId8bHddaTao5c240Svtter7ubu3qyoii/j8dLfAZoe0hPS9f1gMe7VXX8YUciTvchaeVJhClXnsbcakPvabacdYYVZwZQV8bEbvcyXdY0YGbKaOVSc2YTfRanTMcMlkj7oBh5isnqpcqliioYnzp6pcsemDoxirTkewgEfVaqdmXD4s4Iy2udwmvvwxt2m1imm4m0fETRaFh/igdveAetfseZc/aOaZabTVVBWEfRlUnVdHdXXCYCT9ZDZacDZ6Qcc5bJcSZJa7X/aPdxVJcJZmclWwT2XgjvfInRmFntmWnfq5oXkJoMqVnOmXpCpGivVpcGdIgRfpe1bH4T22xvwHr7w4xduYoInCoUoohsa6fDhwhogagDYscngfeXY8XmeIdIVWaIWMminCZhdPXAaUY/VtbPb/VlYWafd3cnV0becTYtfadBQ2YDdURWTlZKjUgxlvnMnwlMjmkAo6nRowormwgrofmad+d1agashlibdJb04g15xHw9uxwYu8vBq/mEm8nYixWuWobNfig1fVb/X4faeee+dIgTgAbqbXf4kthsWScoYda+d0dQaeQNaDa5aggSczZLefbRbNevefWtbOZ6Q/RoYGh8fPfmk7kXlJh5lknKlPoUqGmMmGk8kLdDd6Z+fThAgVcnT93xzerDs2sauTvJwItspsnFfla3YQeVWKVfcEbRW5SqcFZpbRc2gMe1Zab0iQfykjbxaYX7YHZnbGZ8Y8aEZcd/gQc7ZablaUY1a0cSPbXpdeQqMrY/dte0iZiLd5jjipkJmUjelwpWmanQlvbUdmdLdEd6fBZtchX54t2UsKs+wlqxyGwPuErJlPgoe4ecO+d6dQb/cKcjb1ZcelbgWyeZadb6X3eqfgivbQZmSvYRcibwXzcwdpbCdRdDYVThHuSfZIWLX0WfaAe1WwVPWwdncNiXgOdwiXfQn5nqlOk7mrmTjrjjj8iVfwejfVc7Rggwa74R1xtdrdvRojxcv/ponNkihCe2fDefhJaMcbbxaiaoSreJXRZvYOZvYwateNhKj1WMUNX8bAeHb6WwarbzaRZIYWWFUXR6RxbdYRP+Ylbcd5V2S4aiiIcKcncghAhpfSljmGlSnGl3kRaUeDiSi5g2aFcsaobceEYD0i0Hv3e7mRwOxttJsUqdqih5jIdmemeDducGYSdLYtdubVZFdzZLcPYYY8ekhMm2R/T6XwadZLaLYUYYa7YFa6bcYQWJUIa8YHXAXhU9YtdgW/UOSLg6dKfHgThYfseEiLlSmyoUm1jhlahkfYjEhPbbfVcFbbZPdzzKx1vBsEsXxnwEppt7sCqjiMjYhAgjSUbzZhcrc2cVhJfTY0d/ZRaEc4Zif5hxmYVtSGW1bBTMUXYJSPTyTMWOdZd+XVarbuVoVta0UyXReBcOYjceeseLeChCeAafR8iVmzm4lgnbkmnbmNlYhYcufaiaeTeweQUazyzMxGwnvUtRu2t1sComl/lRh1e+epaRYSb+e/b4dHf9dbayaUc/SlaSf/feidhbZgU/TtXqTva9Z3WfZKbdXgXydAYUY3N/WPVNTfKTWRcjb8QCeqeQeZNCTWZ6dQfunFmVm4i4mGmVoomYkTkJgVdJhQd8iQZfe7zY1oxVyGwyvEsEspplnjiyhkc7ZdWvfPgmdtepcncxdEXHZ+dteGPfc1g5YYeujWadb+X4X/b6cKYWY1WqahalWKXCavbbYhZrc+XQZMcKYqX5XmepV7bQYiePacaGe7lHperGlDiskXpIhYeciViAfjdre/jRgDff2j1btzyTvlr7rptkrOocmBiFSUaCfKaFiXeMZSQtYPc1d6b7fGYKZ8dWdzZyh+lnc4efZ3WUbpcPVaUkXtX0axWhP2XaZgXlcXeBYUYHedZIWEXJbXV3OLZcaPbzdXf1fHsgtWsjoHkEnwnmjjaQhygziTj1iWiZdc2rzkzY0SxjiVrOswr+limGjUaLiajCgggXdCR5W9ZDaodoeef3dDXDbpdRa2fuked9Z7Y2UdY6TyY6YsR7XbXaVrUOWXZ5UPaPZHRETMZ9bfTsTDaFfPeea1aKNnaZepe4r8sYsOo1oIn+oblIhkfEjpjofce6eniA2cxV0k0dwStzt/vNrGoHjEhGd+jKjzc/aPXXbTclbjNyYsdcerfPc0b/gReHcFnMabZoVxYCbuYNSXZzbBcNWFWHTuYkb5VZZQeBaNb4ZScjb0crdmgCfGeNeedVcxgHgspDrVp9mopSi5mNjviyhJingocbbWaZiF4AzTy0yrnvvTucvMoPkffahIhuYkfzXeaTcJgxfXg0ZuWqYnaUb2d4eAe+fChUkMSnYXUFZ0fEatUEWtX3chceWaLZWTbOS7VXWkW0dhYbZ9dhgLR4X0ZQW5a4b1Yrc7m2n/p+nLr+sooErOh2fHfIe+fwezbhXqZk4S10xjw5wEtduHvjpgm4btiNhYfdeWcfcld2edfDg/YFVcZTbXbffadTaLYhj4e6YIYrKpY6a9arYtS3YDZ1eBZlXnUhbMX1YcacZbWgY0dReqdfWHTWYQY4eJgvfPjZntqlqJkfsCtUpcqRj/cseQjRg/f1cTf/gm7Q21yZxTxBttumvJpJo3djgwf9gsiFfzZ9bRZCenfHbVaPY4cEZuf6eGaQe7isgoYFZlZLY+dBZIaiYrabYObbdbaFSKYWbtazZSZmZTdyfZcaZdcLWmYiUXezeXeYmcl9oooroSrEsum3pXkUjkf6iLdCbtdwizhr7r1oxyyNxUumwRtmrbp/gRimhli0i+hde1Y3gGdoeeVPb8WvaLZwfIeWengyjKivbDZ+ZfZqeRa5YWc5agSdZxdDTuVaa0cqZCW9aKbTdueJYzZwcWaVXoZycLdvgDmElYoFq5sPodsPnopeiTixkFXEagc9fWjfjd6l20y8v6wFvVufs+rvn1jRlAiijOhchRgUe2ggVSf7e/eYcwZocTeDcLeKfYhjjRahXRT/XycOdDZtdVawdPd6c4XVYOcabvX8avaYcCa2cmYJejfCdQdxeQayeHdoifq/rNsMs5p+qYoXpomHlal/gqfDa0fCitj36k2PyvvdyPtcsDrqqxi0johLhCiFhIhYc1dmX6Z2d4c5fLbucYcub8UVd5ffcklZbhZrXpV7YFa2YVcecgdXeMcPW1aWWlauVNcnasa/ZgYwQTg/e4cEd9dldDcsdxj7p3qqsRpzr/sfjXoYlolelBgbhdfnPVeEjA5O2Dx2usv/uJvXtapQlJjRfzf5g0h6e6ZabOgDcgaaZoepWzb/ejbQZjfBhfhfgYVpUhZjYUZYXRXaXsWSXnbCU4YXdITpbjcKcFYnXGaGaaaZgZefbWbtYVfyeBjwmspDomsHpxtuvEqphUk0hOjzlXkEeQVYddif46yHyAxvtBuguIsCrhlSjGg3gGcHfFWLavdQgAfrdFY3ZwYuaXerXubDePhciviOaKWocvcqaVUkU1WkWoTRWwSWVEd3YmbTbZaUUbZ6dGbYd2dwfme9bhZWc1ejj7optRp/rtlFuvuzs9o2llXch4nZmoiUdxiJjQ401BxfzevSvitBqFoBctfCb8d/cjddd5eHcBcyhFeCb8VFXqaabcZXWveUZKYjhEbtRwYWPaXZWcXdVZXtT6XqUGY4bAVTYjadaabwX9Z6d9dIRlcUeKaxd2Q5djgzmVsarYptrztgsOtTqGn+kvilm1lmiHZOdXck4nz7yDybwzulrYnMn+fljDeTdMbkiUi3dabmfCfQcldiQWZgZbc0WVcAdgbqg5keblU8NIbgY+ZrRfbtcnYmVGTLXhUaUBdBYfWVdybQbidwdIaDacbIQLdleKR8hHoipzpDpztot+sFrpognxn8lreagUckY+jXeK39390FuCtpt6tFq/pYg5hDgRiwcAgneidFX2gBehbPfNTga8cUaQVJKZdbfWg+o5buagVhXwW1ZQZscGeCbiU2YIYwWpYFcxZeaIbFXmXmaIbCaFeEdeXnejgrbDemofqKtXpWtns7tps+n7l8nthkhofgdrfQj3hi65510ZvOt2whwErLoHgeeGeYf/clazaqbdcOerddQldjXHe1dvQGYDWwdsfKeHoeZ4XQWgZSagRmcuaSZbaDYMZvXGbAXsRVYwSjTaZ6UraaXhTBfIaTcef5atZKcUnotvvwmTqoqgtxusnJjHmYkriLg8h5gYekjC8g620bu8uWuJuGsKndgbcna2hDhlX5dBZwcHZ4baRRcKV4ePbWdZaDZnZKeCfZjwd1aTOoYub5YSdSadRlYbYDeSbMcAWlT/bTaobCVKUFRKY4bhfmdofGhAeaW0cJomt1vMrQshpstvuonEc4gKkZfNblc3gadngv807tzixNt+totGtxqLkrjseEhGgzeOd+WCcrdAWZb6dzZqdHcCfraSZMbLdybFjkaraxXndRcXYed1cwWIWKYrdcb0YbbpdscHb3beZzVya/Z7a4dxcWbVfBc8aobVmysGr/s0tntxs7tMpamUmGiHfCg2eygYdxed487kynu4w0tAqOr7ltjVjJfeg4ZwfFecdkfEeuYxXueUexgHfSfKXddKejdZezlhXPbaUCYodZXadZcCbLTPcLb2WLVOdXe1b6aJVRbTZLa6XfYkbrbFXecxcNZ/gPoPpHqhmquhv4n9pxpfpuqRh/iujtiugmYtZF847hzjveyJt5s5qzpEfLZMg2hGdNe1bge7dLOUbpYNdZeceecOcGYIeydvcsi6k3a3dhbEaNeScxajZmbmQUadWIXAZYauXUX4W5afXqYiZWYLWHdlgadebLe/bwffnVsguEsErkrgscrDoqpyppj/j9ljj4eOcQcT/C720WvlyHvztOpBm2jLhzmIb5dwblbjVjc/dRUbTKdye+cvW2debIe8eUUYgajwZfV5YObhbrcNYSaxWFXuY4OReAaxbaL1XOZCaGTIY9aJZrbfd3gleDaabIfbeGpYumtBuxvArHmrsNpUpXkgl8jmjKgSbOgpgQ8A3TzQuCw0vcqjq1qklWg9lTa5c3gmghZgb/c2eDbidBdzYQYdeHeJfzd8YdfJlvazRHXMW1M3QPYGadS/TaUqSkdcbsa9ZiUOcIYyQpZWIocEc8WIbDbEaXX1gSjXqmtXuSv/wCtMoklMnxoFjdjoiKkCgedQesfS+M8JzVxHvou6slpArxjEbkhaZHZlhdgqaeeecLficaVaYXQwbyd/bfeUdqYycEm6cbTvVhXIPNWtWxWWWSPVVDWRcKanZacFbSYUR8ZKWzcyeVhMcYdyekatU6eZdso+tevfvCvTu4pcsfnTjZfMWWjJidfbgtcSdG9g79ziv8tvuFsCoMpPgygQiKf/Z4ecdxJNghaNetgdeufnbIgUc3amfKfAhEkElsaXZEZKYVaLYoa9YuWlWzV9bCbjZYYjaPchV0bEdPXPcWfXbBZNdNdMb4ayedXdohsPtnsEuxssr8tbqFo5nwgQgqhyfdeNfKet+A7izCvCvZtipCpak0hxfNhmiMTEdoemdQcmXrdKgid4bhe2d8aVSUeicofPiPltT3YfbqZKayYRb/asZwZHWeaQXrZAZbT1YmU1bdbDd0axfRZ1c2f1dcazYoe8gqkgsLo8psuap0pLsCqdq2qxluh5ludZgsgcb+9I7MxIvyw4tfrGmAockmifgpfLeYa4facqcYZ6aRdiYZVdeIR5elQVaNaFahZnkycvVfcZcEZqLpa/dJbjXIVGYMa+X6YQRZauWNcLZQeiaLa+W5bie3f0dLXpZLfoigo1rvo5sVqYptnxo2qmqumohAhNZNc/aYfd7847vsxLwFphsWrBnFhBcJeugXfSb4b8a9ate3bLd8dGZxb+dpd+bLWIfzgDgWlQg/bddkdvXcTWbPeLdXZzZ0bhblbnadWtYma/dIYtb/diZRYhdiYGfse1ZOa0e4kArctFpqq0rsqerHohpOovlQhjg4cUbFa6jC472Uy8xLvru3pVsIlHiJhDfabaT/bwdlcuaCecTXfbcfXLZ1d2aZWEYCfIgpmAoRgnd4e8fRWWS/ZMb2bMZuaRcxXfTlVBZSUibQa7YBa1gYdPfFehdGgVe9aCbKeSmhsBshjkr2tSrvsYokpAnRhEfRfsh7hfh9hc3FxMx0xRt0vRrjuHoYjMhgjme0ZbdYeGbFY9VJYffOWSXDczc8Z/ZsYKXNelknl2cYdAeQcJZyazQzZxWQdAdJa+YYVcWUbUXYZFZXVYaodphAhzh4eIeZbGZpVsX6oFrOtJrkszqzsjrmosmNnReKiuhuhyjCe3gb4CzTwgwlspsYsRv/oXh4fqgSZrZ1eVcZfrWFaUZxepcffXfqepc1eoV/S5a/gihZb2SsV3XicJe0XOWLWMb5ceYwW3Z0aBXESRZiS0RmaXcfdiaahbbQgAbnbLeGfmhVq3vxrntns+sfrgmvoXl6eXg+gTgPgXYfia6G1rx9zyw9ott9uemSdPgZhzaga9ere2eHdte8S4bfZYflgDeuZ5fvbOVtfcgniZY7aabaY2cKcwT/atbqaLY1WkW2aRblZrbTY+WRXObLg0cGaQgkhYdcWgbVf1jxqNrEvesgsXsUrJrCqTrUlohAe6c2VfdQf1jH5S0Cxkz2yCsdsahUslhcekh0eyckdFdTUgcqfJWaZja+dPcOXHY1ZZcKYmdWcRhEX5ZqX3XwatXdcwcGZFbHX1bFbcV/cgYbUWXfZwX3cmg1f/VbjYlWdmhedniRluq8r4o1o8sFqZrkkun7pJlCTjewhfbxe1geiT1+vkx8ycx2s3sbtruDkCZhjjgxG1aTXqWyZZamUla8cNXnYmdJW8XQY8cydegdkzaVauYkVqa5Ytd5YvZ4XyZUcLb/PKavawb8YVaDasdBcigSYpisjSdrh9fchKkIoZtJs2s+nitDtVjvoGobo7hXfcf3ftbjYmb4x8x8y3yPwDsasXr4rXgEdQjPhbc+dybsbUbiaubkZWbJTrarcXWmclbeeOX6b/mLeab0c/XMY6XyXZSNcTYwW1ZXZaTqYJawZKUxWvbsfNkEh2d+cYadW6aPhVjxiFnBuQt+t7vTtbrvtUrkmxs3n3jlbxkfhcf3d+x90ozayttlrlrVkxnggqYvigfoeueccCfreGbrdfe6cuTjctXfcCeNXUdwfplDpSeHcbbFaMWqcYZ/Wwa+ZIYtUcQPSdZKY+aPYzTvUmYej3gpeJhDdLc/eUhYjek3ous6tYtQvEuBmGu0spq3tDoZhMfVk+kfgxdy2p1DyqxkuVo/sEosoLcuhegXghiJgKdVdtbGczcCV3Z7X5amMnaNeCa6ZHd1d2odb3ayTZd0Wyc4bqM3SOTgXNV2WobRbXY4aTYTZoZ4aYeXaoZ7b9hvgUhXbTkLlWnFr3rTlyrrqVsvs5rXtpnMnVkBfsiXjLd8V63uyrxYuosorbrMpBpLjoj/iDfAf9gjcnbpdHaub8euUreGdydBc8d8bjcKeSklmpYPZiY2dJY0YSVDU4T4VcY7XoZxZjZ1bjazXEdXd7b0gOa+hRh5kHgVfOQPgfjel/torVlWvjqUt0rPo4t5qvkfj2hIeAhQdXfj3ExYt9sfrdpmpNkgpxjQhcj+d+fHb+fhaVdaaVTYdBcUfJc+faZ3aDaKU1feoFiQdPX2N0aCV/UEOzVvXWWAaAZZWOZba/YVZ3blYsbzb3fXgZgqgLgDa+dSfUjdkdksvKvAt2ulpXthuOq8mfn+fclnhohrfKeHfUzLzQtKv/ubnqp3k5qNkrace3e3gYeTdOZtZlboXeadgBc1c2a8MSXFZxccdMlMjdbjaob+WrbMZFXEZZYcY1bscLZGbvYiSyV4Y8W4ZwfGfbcodpawdQcfdAielEn5m9s8pWvxvgteuMsDqxsvpfnEmqU9fKhoivk25m0CwAvisEr6hkoVnAm5hJXNdtg3gldBa1XgfqeObFeLddePaOZucML7fThtf3mJVHa4dGUldDcWbEZ8X0dAY5WWVaQaT8UFaUdEX/WbfXjtf1fZeChogqexjcjJpmsasPv+voxduDu/sYqfqxtjpsnDhgaFg2fQhy6I1/vHqxnunUopqfoCoxgYhlarfFfRfUcMbpb9cnYEb+ZgazfVgGYvT/fihUkapgStXVZlbRcub2Z0W0ZJfAaIbBXlbPSJazbZc9bEbHZHhiWkdAdWd6bnWRh+jPpMtTuTwKviyVtltwrasytdpWmClZeiYidlbWgA6L4GuMsqpksdrrq+sYquiSh5eGfpdUeBepemcoYlc+g1eddIdRgrXGdweqdrhwpOdqYXZdegciWeYiX8ZZdBaqcMZwYNTtXrc/WIZsYHWzXKb2Xgc1eoWubeiSgYt0vztlwRwPx8yNwXvstguGrWmjkGeOYgfAengx7V5XuOt8ogpzqztouarMjZkGhohHfQYjdxesbAXOa3f2fBcZUbcXSSdhbZdCk2o5edTuYqcBccctapW6TbaBbYd+W+YGXaU8c/ZEakalXtdUddYmgVe+f9iQgkhGthtfuYwIyqwqyEwzu7p1tQrhmkiiYkewg0gqcl5L1lvJs2n6o0rtubtvmdmye3i9gyhXX9eNdweGT9cYXiZlUPY8bue4cGRsgRnzqqY4VzQzUBWXd2cdVOYxY7b5cpXCXqaJVpXGcGXpZdXsiAfdZnf6g4ifmDntpmtnuTtfvtx8v7xOwSuTrLvDqlljgWfDfpc4V7bo5Q3cwRupsCrOvev2ttrknOl/hhilh/aocpXqXaYIcvb3VddqePbogkeMaJjbnnqSVlYiZkaYa/b8ZpZhc9YGbBXAWKVxbEcQXxbydSaLZJfiingGaXgAi5nvqCqlvTwvuovouov6wUurtVtNuOpWhqh4ewjMgGfwgs754mwQuNsZuIw7whu2tak2h6iiiyd7cKeScsdWV1XedpbSatcjaXeidcepjzkGpZWpaBXHctcCeTZXbBdEcqZtYlYwT6YZavXhcDe9aqWpVZeGfkdblxqltepsrQvnvevUs7qatzsntzntqIq9nxlufejsj3gbhKcI7s4EwvuysGrSvotktwtOoQhqfhb2YQeYfTfTdCN6ZbckdobJYAaUdkfLdGdVkJppc5beVNeFa9ZPV3YwbtbWadVObSQAVHZ8bkahbAXKXYhSgEi+fhkytGv4rZoBvswyvlrBtXsbq7uHrys6rZo+nTlVkhhldIg7c36c1ayPvsrKsptHqKq+rdnOeAfceTcteAYxZ9bJX0b2ejfNdBadgfVXbkXScHiPk5dzW0ZpdgbaZyXAVaXyW9abYNayU1W6becLZ/VOVLVrhMfrgraGgHnJqMoXrhv0w2wArJwiw7uBtUuwr0pMs2lxjSlujjdsi+e04j0/xqtWuhtktIosqViQmzibgafoelecbKcee+drdtdfdyWIhAhOawbgczjHmWqdYMW1a3bsciasaMb4YcXwXmcLXsXZXYZuY1c5XVUeXSbWkMhUSEgAo1qktNvFv4wjwUwhygx0trriu6tnu9udcxgtkujGhtkIg08G1Guuq7tCqftdtapXpcnih8dhdIcWgBYQa+fwbNclaIbnZxdfciWTdLhFj0gar8YTaLYFZIXlWWWZdub4XrcubhU/a0debXSccaWSSHalcniWjRczkWqMqCqeuOrivKwOxnwdvmpksSpxuuvLuXkYaEeefhgOgNfE804ot9uxwCu2rjuWrjrJpDfhbHZzZ4hIY8dwefaGaiUuNfcveOawXSZaeebjmonaWaUcY3VfdOWgWwYcZuW8Z8UhW1WHauZbRUYmavZCcYgDc+dCd/jfpQuaqFs1utucvvxIwhvksVvHt8s6w7uAnalYiBejeGYsXk5I03wYu0uXttvrs8r3nwn5kJehfwgBfmZTf5hPcRbUbYdZe9g3bKL/e9eReDiwtJPYWmZQXHXBYya1anbBc4X/VlUwZyXOZTPlRCWycXdCgQgtejesaBqXvarloyrnp2wGxHxPtLpbtQsCu4yHr4nmnMjugoXIgEg97c4xv3uZscvvwiv0tzrepUjyevdFb0badHcxg6UxdJaceUdxdhcbbhh/glfViRqpVUZ6aBbvZCY/ZnZxdgcobTZCX4ZiXDSeXlX0R8cWcDf5i1WFfsgqqqtvn8saqlu5wXw2wvv+twtNspuWxgqmm8iTjJh4hhg+ff4G04tVvLwwxftEwAt+sorYT1jNeWZ4eXetbndXbwO3brbAc0cqdEY/ewc2b0k+qeYMcnbVcCWMbiUhYfcSauatauaJScVmUWZZaxNwXhYqdgjPe6ZLimpiq/noqisew3u/xBxLw2vTwNuAust7rRo6itjxiyhse5fB6Y3xvBtVwYyns1wAu5qdqmiPm+hPcgeGWIdfZNeVYgbXcte5fBdhY/erd1gGl+rYbcdDbUbqZNU5bwdFZZUAS+YmZ4aFaMRdZAW8UrR2Vea1cLhVgej7m3nroaq2t8x5rV1BzHwvsGvTw/vPtAt7qqjNf3b5fKfdkE7A4SwOtCwZyatmu6wOqjrij2jme6YvdBdmfMckUucqWdcdb2a3d3W6e6W3grmwpQXlX8YBa0YNbbdTdFUvZUaDXtYWakWbbmRmVBWfT4b8iHRqh2bjjFislImrpxsNxZw91i0HyqtCvDxIthwqtUpAf4jPhYboWijA6A3evltVw2zAxYxQtts+rlmWhja/UibkPTcTWFbZe6cpVLXtafeJcvYOQscMoKoKR/QVYNT6UHZrYGQQZ+b+brZ+V3X0YeelY2eaVzV9YKjsc1jHgTeeixhKfvmaqeuVvX0Srpxkx6yVyhx6x7tmoblvhHfxeSb/fc3ryhrrsiwhwgtDydvurfoqlzdZe7fbhRhSdfUhYvfuf2O2cgdhXDdZYBa3ZakFqRZKW6YYX1bILYLVbqdLakXGcucTYdXkdPc7gebfZgbtTneCgCQ5d5ildngxkZqmuDx20Q0/zyxDwmsaw+vfugpXlAhAgod3T8gX4AxatprCwJrVuoxzwxslohl9i2jliAgygiclXna/gqg4adbHZVZmcheLf8eIkGqednSQWxTWcVanakaodVYkZrdHfnblawYOcgd6dMZob6frdXZOaHa/fedkf7oyr6vgw40ezMxnxHynxtyAwBtOnTk0g2hoevaRiV5O0xvRpjvVwQw1wJutqIqMnejVidgTfPbHdGgbZ4e5g2cfaOaKbtVJgGhdjooJrDe9ZbaCbhdddyd7aMXQb/WgandUZ7amU8YJaLYtZBbsizf3hXjch+i8fRj2onsVs1v70GzqzZyMxjxczWx4p/Y7jVh+eKeeaheC291exzsUtUxyxao2u/o+pEhPkHhOZ5dvdngsiTcGdsemMkaMdMdRZfdsfvj4nQr0XMePaacEd2bEctdlabanW7bFcrUIXfXqayYGXIXqelkOikhRlAkljdfXg+njq/uKv2w2zcyxxPvUzUy+zJtDhMfRg+TqWogUbw5m4IxlrzrxxExUsqpGqPnwi0isaCVJWWhVfdcrVndffHWCRoctcRZgbZcXf5mvrHfVdxY/dGcNX6fGgQbdU0bBcTgxU9atZ5cUZSUlXjZjh0htfQhuhxjuiJiymuqgtuupu+xYvUsPwZxHrAx8tPiLXHi0hug5hofz7W5HvwrinuxozFyCtkqTpxeuekgtarbMfFUXbwS1bbfNcnYYcifUdcgVfqfuldp0cGXwYdYBVcaJf4hNbRePZ7ZDe1ReaheZUNegbXcQgTe1hYgbeIfdjpiTi0iXqztfwBwcwSxuxGoKvMxgugrAg0dnjjipddb2ab5U3pv2qco9yYz3zNp9qvp/iuU+QGcmZnbZXxazb/foSSa/eAa4eSeWdMe+fjlAm6fqa5fHe/bvZoaeeAZPd3aGWTS5ctbceYc0Q0XFdWiBhGbqfIWEiLjLdvf6jfhfwfzAxYoayryZxQxuySwMrnguduiKiiekboee3K1+u6q8rGyMzPtsuHsLqBhkf2g5gnU1dOcFdyclencNbQUvQNa3ZAWbcuhDoOmjgYfRgievcfcpdggJTmcQa0YYafgVfnbpeQa5boaIeld/awcnbxjyj1fWkinPrJuHwryExZyDxswzxZykwQpZcdfpdng9bbfYgK0v1ZtdoAsKwKyExCwguDqbiWgQfdfRboaTd3ZbXCcAMQSycqcJanXvZLZzfDmFmne4guedWUbqc/fEeJWib4aza8aBenfoaYYsaDgeWwbLefYrdQffhjixitmtsKtXvJylxGyVxGvCxFvewivumSeTkOjxetbxgOap141Rn6s7rAvmxmvqxHukoHfnXwdVZZf7eCdvc5erdOSqYhX0hKfIbKc0bOfUlUhugke4VEe2b+ckfee7YUa8b/dNaBbffSaBOzajePbsZ3X0cGVPbKgXi9hVmMtfuItbyIwJxXvtuUvHsPsNsjnSe2jUiYb6fOblZm1/wBtRvMtBtvxkoywTs4hilWcMa0cWgjfma9abdHURYyY/U9gxdjYcVebQehnnrTgedQU3d3a1dKb1g6eAZhcMclaRaBekZ1TecHemV3YndddCdAhZgPj7h6kSr2udt9xszcshwtw2v0yAzAuajfj/jFglgod9e+WJ2uwJqCsstJuWxrvDvurTodlmfzc5fkdoeKajasdRdXdsSUXmcIZaX8T/dQUzmOtWcwa9dCbsYSb9Y2ftcBbvaRaWa+egcTa3ZYeUYocMbCeQeZfUkpnCm+kHjyr/sIuExCziwxyRu+xGyLzWwzlUk5iDeThscSfmaz3L1fv9tjxIwAvbvjw4uEqYnfjhi5e0ZWa0X9cXeMeMb6USaHYWdlViaTaUdfkoredPdcfeYBRXdiY3cDbIdsdrcuarfedQYIajegX6bYVwdTeWcxjep9rZpksRuDq1rOoSxVyCtsu/wavqyCv/helRimhJdcdKgcgW3b1hveu8wxwCxRwmxWuHoVlpihlOg4YOZ3WNb2dOfWZaZufCefdhVebPSvflk8qce+dkeyVoV9ciZocCaxd1d+egamcXQha5b8UjW9bucVdFbxVOapnmtRtqwDw8rHrMxJyFyQt5wcvVyBzMxNmcmxlRincZZAe6ep1PzCsyuzwfyWyexixvtgnkhzcLlEfKbVcncOb5cPdtdafthnepZRWsZlWofEmnrJgEdmc5cWVzX2dnabb+cfb+d5acXNdifFgPf0Z8gEaeZDbaZOgfrovLyBw9v7tOs8xYwRwRtzrHyKy4y3xOqNk0jykOjEgYf6X02f0TuTutvszRymw5yCu2nSjJfFjSZZdNYBfnUGZkdNelcSgAafXQZBb2abg/iIfSdOZYaPZ6Ykd8atUWe2bHUIclbNXzfXewfIe6d1d8WAecYvU2Wso5o6xHviu/u2sivUvpvYnUt4wPvovwvdnmhHa0hTg5bfemeq2cwSvGt5t+yZykvaxZuRlLhpd/gCdHgLSOg8WfeRe8dtcEbwXraaWNZ7ffe5lPiacqeCZxZseme9XNbsfHfyacbNbkaodZcLewZFcwbraBcBWEMhdItBvGq8vpvwuQsKvvvmwltTsuqsucrnrYlNgdgzbed3haf1dr3gzetnjDrlxAwqvLvptUhQjkdrcBYHcKYQcHbidMcQe0gacLa3d0djfbdncUlAjtbnbUcdbHdlXmacZ0eKgQb5Ucc4ThaufqdsWzalf5eyZeYqWgiCuivJsrvIwKtYwEwltuqlsHsRo1uXu8rEkXgZdVc/dseOeWfp1rwtvtr0uouyuWtUrTrplii5eAehhpdyYbcvXsaiVodmfPePdcevgMgZbbamnEpodWa5dKeSWSa1d8Ugc/Z5btVTaJb+fggfb8bdXrdtaEaLTcbGkUs5vGsgsZtSuVwHweugsTsAnsmArus9lTi0e9a5dCbhcbd4fN2O1ExMrtvGsStastsCsIpFjpd3ewfzZvcfgYXIboZPYvdqeZaDXebUXpZGg/iGsSewdwfDdAdOcfeSdiZTXcZQcodAdpfggdeOZsWeeUXYKFaGZzjapTrTsiq7r7s6tLvItVuEs9m3iEimnCl3gXcydgdle/eqdHbf210JvVqLmBsJsxqfttpTpwl0hjboeBfOgcgla2eXfMaRcqbRdrdoVESQZihslCqsZGfofCc/g/aoZ3cKV8XcYGbidVdCcngNcOfdTrffbhWXd6aNhcrWt0mHtHtZtlrNtirzuesAlMlcj2l0a2XEcMd2XHcMfXgIcY3dz/nyopqTmgptrBuomTpgjLexeuhLhUhmf8ZOhxgCY5eTaabnc1TCcRblWUcakzZ+fEZOang5feejcZXbdAY9eeedemb9fOerh9ewdHdfdpdeZJd9rts3niujsvsNsNnhrtthphm0lkl6mJkLUjUibsVjbneheebH0E0otkm/j6nxoYsYttkim1hrg+brgtgEg6dubtgtdQf4e3ZjRAZmTMcvcHejiwjpdwgCQNefh/iXgHc+adYLV8dKd8dIdZeHfZfagHfwbKc8ZRPQYMnrmkp8rxqEpzrPnCqXsupLdhk5oOo3j6b1YOU5cKdHb8ZQW8z9wytDmtkjmMncoppNnuktjrbEdZecgXgihFhfgqgBh8eiZdV1UPZxWhclf8hAiKcngae2hHh1gwfDRuVEduZAawe7d4d1b4cKUEg6juhWaQSbYtdzmbpAp9lIjvnVpZqwn1p4pCj5meohmkezaXVGVgcBcTepftcbzFxJqkfGgcf9hIivhjh+gtj+feTNcHhlcveMgeebdxeHb4b3ZfYWdcZMYMeDb0hlcnfYftfFgSeocZcJfocibGeHcobOWwbnbUZmgokDgsXIYzdohslGqkolpalqgeirqVrhnEockQlVl0fPh5aKT8XQbNaCaxeITazYxttsjAXXXbhlkmm7mdcthvfdZmcIiNjIfvhneNgxeKdrejb/aXdnUnZWVQRveUYpXzYWWrbybYWwbAd8XNZzWRR7ZYTXX+XKQrd7bZbkcWYGdVhlfToImjnRlghehJnMpDpTn1lrdIkngDfcaKYQXmd5e3ffZybLsXtzr4inctLceyiYnGnAflhKZhaqW/fUiNa8g+hpeAbGdad5cwWGZHVVZocfb7erWXX0NhS0NOUpZoXeYlVAV8VWY/T/XraBSgRsbFYEUlcHY+ZNfceSiHmGdNgLeFjBiLpWnTngnBj/nBiZbnXfVVZrbEa3coYcb0tYpnoAdYbgY8lBlZYth+gxhue/W1bRecf4boY9e7fEeMcIZoYZYbY8VhbDbAbreBala8UuVlUyNza5NLUtUtSGUvXmUXZWaOGdT0VQX0WjStX1TsbQeqmgl0aybkd7gohqnDlEk0hJlCl/frdUZrNfZdbSYzZhZOV8uUpwjJZTZyNmkBmwklZye/gQfFZXb/YpYBZkdMYRaWZBTUWpXRa8b7cLa4WaaAW3ajZqMuKOIROXXeR1UPVlUOTKUuUWX7VpSWQRTqTmWaW1SoVyX1YnjSjpVCbfY4g3nMlqlcjWirltoOfYbVZMTtZQcna6XkaCUvrKrInVUCXgUfZyj8iAW8ZFYFZlVhenclWHX1ZNYKUCW1S8ZrbbZAT1ZfYyXFYNaqaQXoM5QbR9PvOyNsShRLTDSsRoUZVVSbUkMoU9PgTRURNLUqXvbXX8eeXcVISCeelIoAnThKkEdSm2ikZZZWUqYWcjbRXrVtU5nYqFmxZ3TCR5dHe8c+WXTLZzWmO7cidKY+XdTBXdXKXjZqWRajV8a1XVU4XLZSbvXfWLQuPTOvNVMbKyQsTGRAP+PZShPhPkTkMuViS8RKTwQGNcV/ZvZOaUawYXb3ZubFl1lvj5iPhjekjyfJbbYvVcbXaUayYPXZlupLkUZsOmZcelhXf8dea2afPSaQW0ZmXVaMZuWzWDYYW3VSa+W2YpWpWEVZWJZDX1NcMcMcMvTzMFNmOfTQPGRZSNMeNAPmRpFnT8S7NbTGPrPzRUX+aTU9ambObxPmfJkij/iKhHg8hWi9f5bZZqQRWiP/ZpZeZJoEkZfoY+V+YEgQcKfWZ+a5Y9R7XuUOYJXnRHVUVLR5WfS3V4dJZBPJTOVESGXKXLbPT+Q6OdPfUoSFQNQbKuLuP2UwSwMVSoQ6GkRfL/PlMTP5VRWOXUb3aQXJYIZyUqfgiuhyb/jXiShsgscZbDXrUgW7TKWoWPVwnIn3lgdiZaVGfWetW3cMacaXTpUyT9XFUMXiUaZ8YNUzYdXybXWlXKWmRlWJWZb5a6UBRxQEPQRsOAQuSSGuKhK5TnU2IaRFJBNpOVNgQ8Q1S0WEVeOOTQaTYJXBYcXFd7cScdf+gZicingTfCbBUuW7WqPlOSQKQdhfmskvdvYbYAZzc6XGcmbdYhWjPXQLU6TSYZYQaQY1LpYLYxW8SdTIXdBYaTWzWoYnRaNySmQIN5NzQUOgISI+LEPtTsLZFyNUN6LgOlHvSIO9PhSwEGUdakXKIkOlWraKbefIiojLhgaUgKdtWMMmXNTiSIOPS0P7m+mvh1Z/VoY8TvX/dic2Y6WVTjRYMRYrYuYHTfP0XPW6XKZtYkPNMiWCNUZzbZYaVqPqOuRnOUNKPNQhHgOXMpGbTJTsFbIVJpIdPXQAQaSRR7LqNuRUWodMa/YgZCX4afcWfbgre8eFfHghKFRMV6W7PhT1TFWJOxn0oNXVS+UyVbYRXlhEgOancBTNSdPPVdYMWlRGVzWUVcUWX2W5T2T9RiSwXlZCXhWwS9PaOPOpJnJZIKJZO6QcOhSsTdJ+PAM9N3QkJPMDLiPXGdRtTeUCbRZIXzX6ZISkR3TlcXLub+evg4WDXOYAZUTETFWLV4RKnCktf5UWURXvbHZRd6e4bjZfTmNiWyW4UaUNOtXOVfRqVjYbYmWsM8UmWLOYW0YvSGRNKlOpPDHiNuPzIaM0R1MsRSRXLpP4IBNaP0PNMWLLJGNIU3TMTICrRAUeTKWaYNcWb+biSwaleYfPS9XMT8YsH4Y6V3TuMOk9hnauZDWDZDZofnZgUmVOU4XMWbZEW7R/UAXxY9XOR1RyRwYiYGTeUTTYThXRYXXBKGM6QHN/MxPTSNAAMlOmNQQqDBGZMGNYOXPJPhODOSObNRTNT7UhUhWcaWaNVXY2ZJbrdTYPdoeJchVsTESpU+QDYrRYVsR0cchVgBazWdWTcue+a0XyX5ZtXeWOVsSxTBWTVvWWTXTDOWTUVsY/YCRVV9YxWhZhaROvKpPjPTQ8PjR+NtQfI+O9RCMXKULUPtQrPVRQRMRcRmPVQ9UITxW6XpbAajYDX3XsaRbNZjc6dHalZSSEWnS8RmXdOyVtUFjxgThyZ5U9Rue1d1Xfa8csZdWVUGOMX1YpV0RKUvQqLGPySbUzY/ZFT6Y6bCaNaI";
var NB=201,NF=81,D=new Float32Array(NB*NF);
for(var i=0;i<NB*NF;i++){D[i]=(idx[S.charAt(2*i)]*64+idx[S.charAt(2*i+1)])/4095;}
function paint(id,fn){var c=document.getElementById(id),w=c.width,h=c.height,ctx=c.getContext('2d'),im=ctx.createImageData(w,h),p=im.data;
for(var y=0;y<h;y++)for(var x=0;x<w;x++){var v=fn(x,y,w,h);var k=Math.max(0,Math.min(255,Math.floor(v*256)));var o=(y*w+x)*4;var c3=lut[k];p[o]=c3[0];p[o+1]=c3[1];p[o+2]=c3[2];p[o+3]=255;}
ctx.putImageData(im,0,0);}
paint('spec',function(x,y,w,h){
var px=125+x+0.5, py=58+y+0.5; var fx=(px-125.34)/(1528.6-125.34)*NF-0.5, fy=(643.35-py)/(643.35-58.55)*NB-0.5;
if(fx<0)fx=0;if(fx>NF-1)fx=NF-1;if(fy<0)fy=0;if(fy>NB-1)fy=NB-1;
var x0=Math.floor(fx),y0=Math.floor(fy),x1=Math.min(x0+1,NF-1),y1=Math.min(y0+1,NB-1),ax=(1-Math.cos(Math.PI*(fx-x0)))/2,ay=(1-Math.cos(Math.PI*(fy-y0)))/2;
var a=D[y0*NF+x0],b=D[y0*NF+x1],c=D[y1*NF+x0],d=D[y1*NF+x1];
return (a*(1-ax)+b*ax)*(1-ay)+(c*(1-ax)+d*ax)*ay;});
paint('cbar',function(x,y,w,h){return (642.8-(58+y+0.5))/(642.8-58.0);});
})();
</script>
</body></html>
